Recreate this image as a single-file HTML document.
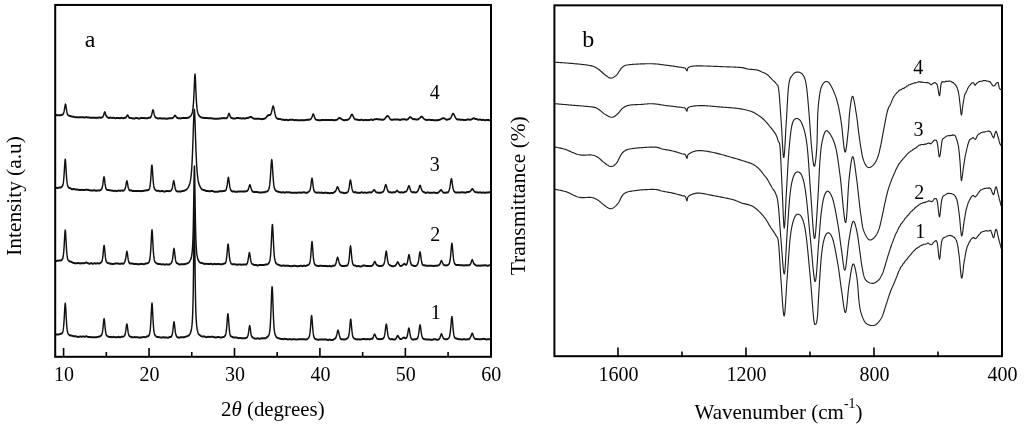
<!DOCTYPE html>
<html><head><meta charset="utf-8"><style>
html,body{margin:0;padding:0;background:#fff;width:1024px;height:429px;overflow:hidden;font-family:"Liberation Serif",serif}
svg{display:block;filter:grayscale(1)}
</style></head><body>
<svg width="1024" height="429" viewBox="0 0 1024 429">
<rect width="1024" height="429" fill="#fff"/>
<g fill="none" stroke="#111" stroke-width="2.0" stroke-linejoin="round" stroke-linecap="round" transform="scale(0.720 1)">
<path d="M77.78 114.92 L78.12 114.95 L78.47 115.01 L78.82 115.08 L79.17 115.16 L79.51 115.22 L79.86 115.27 L80.21 115.29 L80.56 115.29 L80.90 115.27 L81.25 115.25 L81.60 115.23 L81.94 115.23 L82.29 115.23 L82.64 115.23 L82.99 115.23 L83.33 115.22 L83.68 115.20 L84.03 115.19 L84.38 115.17 L84.72 115.15 L85.07 115.10 L85.42 115.02 L85.76 114.92 L86.11 114.82 L86.46 114.72 L86.81 114.61 L87.15 114.45 L87.50 114.22 L87.85 113.88 L88.19 113.39 L88.54 112.69 L88.89 111.74 L89.24 110.54 L89.58 109.10 L89.93 107.48 L90.28 105.89 L90.62 104.65 L90.97 104.21 L91.32 104.77 L91.67 106.13 L92.01 107.87 L92.36 109.62 L92.71 111.17 L93.06 112.45 L93.40 113.45 L93.75 114.17 L94.10 114.67 L94.44 115.01 L94.79 115.24 L95.14 115.41 L95.49 115.55 L95.83 115.67 L96.18 115.77 L96.53 115.85 L96.88 115.92 L97.22 115.98 L97.57 116.04 L97.92 116.10 L98.26 116.18 L98.61 116.27 L98.96 116.36 L99.31 116.44 L99.65 116.52 L100.00 116.57 L100.35 116.61 L100.69 116.64 L101.04 116.66 L101.39 116.68 L101.74 116.70 L102.08 116.73 L102.43 116.77 L102.78 116.84 L103.12 116.93 L103.47 117.02 L103.82 117.11 L104.17 117.19 L104.51 117.21 L104.86 117.21 L105.21 117.20 L105.56 117.19 L105.90 117.18 L106.25 117.17 L106.60 117.17 L106.94 117.19 L107.29 117.22 L107.64 117.27 L107.99 117.32 L108.33 117.36 L108.68 117.39 L109.03 117.40 L109.38 117.37 L109.72 117.32 L110.07 117.25 L110.42 117.19 L110.76 117.14 L111.11 117.13 L111.46 117.14 L111.81 117.16 L112.15 117.17 L112.50 117.19 L112.85 117.21 L113.19 117.22 L113.54 117.23 L113.89 117.24 L114.24 117.25 L114.58 117.27 L114.93 117.28 L115.28 117.29 L115.62 117.30 L115.97 117.32 L116.32 117.35 L116.67 117.38 L117.01 117.41 L117.36 117.44 L117.71 117.45 L118.06 117.45 L118.40 117.40 L118.75 117.32 L119.10 117.23 L119.44 117.16 L119.79 117.12 L120.14 117.12 L120.49 117.17 L120.83 117.25 L121.18 117.34 L121.53 117.43 L121.88 117.50 L122.22 117.54 L122.57 117.53 L122.92 117.51 L123.26 117.48 L123.61 117.45 L123.96 117.43 L124.31 117.42 L124.65 117.43 L125.00 117.50 L125.35 117.59 L125.69 117.70 L126.04 117.79 L126.39 117.86 L126.74 117.89 L127.08 117.87 L127.43 117.82 L127.78 117.75 L128.12 117.68 L128.47 117.63 L128.82 117.61 L129.17 117.62 L129.51 117.65 L129.86 117.69 L130.21 117.73 L130.56 117.77 L130.90 117.80 L131.25 117.81 L131.60 117.82 L131.94 117.84 L132.29 117.86 L132.64 117.87 L132.99 117.89 L133.33 117.89 L133.68 117.88 L134.03 117.85 L134.38 117.82 L134.72 117.78 L135.07 117.75 L135.42 117.73 L135.76 117.72 L136.11 117.68 L136.46 117.60 L136.81 117.52 L137.15 117.45 L137.50 117.39 L137.85 117.37 L138.19 117.41 L138.54 117.50 L138.89 117.61 L139.24 117.71 L139.58 117.79 L139.93 117.82 L140.28 117.78 L140.62 117.71 L140.97 117.61 L141.32 117.49 L141.67 117.36 L142.01 117.22 L142.36 117.05 L142.71 116.83 L143.06 116.50 L143.40 116.06 L143.75 115.47 L144.10 114.74 L144.44 113.90 L144.79 113.05 L145.14 112.39 L145.49 112.12 L145.83 112.36 L146.18 113.03 L146.53 113.91 L146.88 114.77 L147.22 115.48 L147.57 116.02 L147.92 116.39 L148.26 116.64 L148.61 116.82 L148.96 116.99 L149.31 117.17 L149.65 117.36 L150.00 117.55 L150.35 117.72 L150.69 117.85 L151.04 117.94 L151.39 117.95 L151.74 117.90 L152.08 117.82 L152.43 117.73 L152.78 117.65 L153.12 117.61 L153.47 117.61 L153.82 117.66 L154.17 117.72 L154.51 117.80 L154.86 117.87 L155.21 117.93 L155.56 117.96 L155.90 117.95 L156.25 117.91 L156.60 117.86 L156.94 117.80 L157.29 117.76 L157.64 117.73 L157.99 117.75 L158.33 117.81 L158.68 117.90 L159.03 118.01 L159.38 118.10 L159.72 118.17 L160.07 118.19 L160.42 118.18 L160.76 118.16 L161.11 118.13 L161.46 118.09 L161.81 118.07 L162.15 118.06 L162.50 118.05 L162.85 118.04 L163.19 118.01 L163.54 117.98 L163.89 117.96 L164.24 117.94 L164.58 117.95 L164.93 117.98 L165.28 118.04 L165.62 118.10 L165.97 118.17 L166.32 118.22 L166.67 118.24 L167.01 118.21 L167.36 118.13 L167.71 118.02 L168.06 117.91 L168.40 117.82 L168.75 117.76 L169.10 117.77 L169.44 117.84 L169.79 117.94 L170.14 118.06 L170.49 118.17 L170.83 118.24 L171.18 118.26 L171.53 118.22 L171.88 118.16 L172.22 118.07 L172.57 117.99 L172.92 117.91 L173.26 117.84 L173.61 117.79 L173.96 117.75 L174.31 117.69 L174.65 117.59 L175.00 117.40 L175.35 117.11 L175.69 116.70 L176.04 116.22 L176.39 115.71 L176.74 115.31 L177.08 115.13 L177.43 115.24 L177.78 115.59 L178.12 116.07 L178.47 116.58 L178.82 117.03 L179.17 117.42 L179.51 117.72 L179.86 117.93 L180.21 118.06 L180.56 118.11 L180.90 118.10 L181.25 118.05 L181.60 118.00 L181.94 117.97 L182.29 117.98 L182.64 118.04 L182.99 118.12 L183.33 118.22 L183.68 118.32 L184.03 118.40 L184.38 118.45 L184.72 118.46 L185.07 118.48 L185.42 118.49 L185.76 118.51 L186.11 118.53 L186.46 118.54 L186.81 118.54 L187.15 118.48 L187.50 118.36 L187.85 118.21 L188.19 118.07 L188.54 117.97 L188.89 117.93 L189.24 117.95 L189.58 117.99 L189.93 118.04 L190.28 118.09 L190.62 118.14 L190.97 118.17 L191.32 118.18 L191.67 118.24 L192.01 118.34 L192.36 118.44 L192.71 118.54 L193.06 118.61 L193.40 118.63 L193.75 118.58 L194.10 118.47 L194.44 118.34 L194.79 118.21 L195.14 118.11 L195.49 118.06 L195.83 118.06 L196.18 118.05 L196.53 118.03 L196.88 118.02 L197.22 118.01 L197.57 118.00 L197.92 118.00 L198.26 118.01 L198.61 118.03 L198.96 118.06 L199.31 118.09 L199.65 118.10 L200.00 118.11 L200.35 118.11 L200.69 118.12 L201.04 118.13 L201.39 118.14 L201.74 118.15 L202.08 118.15 L202.43 118.15 L202.78 118.17 L203.12 118.21 L203.47 118.25 L203.82 118.29 L204.17 118.31 L204.51 118.30 L204.86 118.25 L205.21 118.16 L205.56 118.05 L205.90 117.94 L206.25 117.84 L206.60 117.77 L206.94 117.74 L207.29 117.75 L207.64 117.76 L207.99 117.77 L208.33 117.73 L208.68 117.63 L209.03 117.42 L209.38 117.12 L209.72 116.71 L210.07 116.16 L210.42 115.43 L210.76 114.52 L211.11 113.43 L211.46 112.25 L211.81 111.12 L212.15 110.27 L212.50 109.96 L212.85 110.30 L213.19 111.16 L213.54 112.29 L213.89 113.45 L214.24 114.50 L214.58 115.39 L214.93 116.10 L215.28 116.65 L215.62 117.07 L215.97 117.37 L216.32 117.58 L216.67 117.71 L217.01 117.80 L217.36 117.87 L217.71 117.93 L218.06 118.01 L218.40 118.11 L218.75 118.24 L219.10 118.37 L219.44 118.48 L219.79 118.56 L220.14 118.59 L220.49 118.55 L220.83 118.46 L221.18 118.36 L221.53 118.26 L221.88 118.18 L222.22 118.16 L222.57 118.19 L222.92 118.26 L223.26 118.34 L223.61 118.43 L223.96 118.50 L224.31 118.55 L224.65 118.55 L225.00 118.55 L225.35 118.53 L225.69 118.51 L226.04 118.49 L226.39 118.48 L226.74 118.47 L227.08 118.47 L227.43 118.47 L227.78 118.46 L228.12 118.45 L228.47 118.45 L228.82 118.44 L229.17 118.46 L229.51 118.51 L229.86 118.59 L230.21 118.67 L230.56 118.74 L230.90 118.79 L231.25 118.79 L231.60 118.76 L231.94 118.71 L232.29 118.65 L232.64 118.59 L232.99 118.54 L233.33 118.52 L233.68 118.49 L234.03 118.43 L234.38 118.35 L234.72 118.27 L235.07 118.20 L235.42 118.15 L235.76 118.14 L236.11 118.15 L236.46 118.17 L236.81 118.20 L237.15 118.21 L237.50 118.22 L237.85 118.20 L238.19 118.18 L238.54 118.18 L238.89 118.17 L239.24 118.14 L239.58 118.07 L239.93 117.95 L240.28 117.77 L240.62 117.53 L240.97 117.24 L241.32 116.91 L241.67 116.55 L242.01 116.20 L242.36 115.89 L242.71 115.68 L243.06 115.59 L243.40 115.67 L243.75 115.88 L244.10 116.17 L244.44 116.50 L244.79 116.83 L245.14 117.13 L245.49 117.41 L245.83 117.63 L246.18 117.81 L246.53 117.95 L246.88 118.05 L247.22 118.13 L247.57 118.19 L247.92 118.24 L248.26 118.27 L248.61 118.29 L248.96 118.31 L249.31 118.33 L249.65 118.34 L250.00 118.36 L250.35 118.37 L250.69 118.38 L251.04 118.39 L251.39 118.37 L251.74 118.31 L252.08 118.22 L252.43 118.12 L252.78 118.03 L253.12 117.98 L253.47 117.96 L253.82 117.95 L254.17 117.95 L254.51 117.94 L254.86 117.94 L255.21 117.93 L255.56 117.91 L255.90 117.92 L256.25 117.96 L256.60 118.01 L256.94 118.06 L257.29 118.10 L257.64 118.12 L257.99 118.09 L258.33 118.08 L258.68 118.06 L259.03 118.04 L259.38 118.02 L259.72 117.99 L260.07 117.95 L260.42 117.89 L260.76 117.82 L261.11 117.74 L261.46 117.66 L261.81 117.57 L262.15 117.47 L262.50 117.35 L262.85 117.19 L263.19 116.98 L263.54 116.75 L263.89 116.51 L264.24 116.27 L264.58 116.03 L264.93 115.76 L265.28 115.46 L265.62 115.10 L265.97 114.66 L266.32 114.12 L266.67 113.43 L267.01 112.57 L267.36 111.48 L267.71 110.06 L268.06 108.20 L268.40 105.75 L268.75 102.55 L269.10 98.44 L269.44 93.31 L269.79 87.33 L270.14 81.14 L270.49 76.16 L270.83 74.19 L271.18 76.13 L271.53 81.09 L271.88 87.26 L272.22 93.24 L272.57 98.37 L272.92 102.51 L273.26 105.73 L273.61 108.19 L273.96 110.05 L274.31 111.46 L274.65 112.53 L275.00 113.37 L275.35 114.05 L275.69 114.61 L276.04 115.09 L276.39 115.50 L276.74 115.86 L277.08 116.17 L277.43 116.43 L277.78 116.65 L278.12 116.83 L278.47 116.99 L278.82 117.13 L279.17 117.26 L279.51 117.37 L279.86 117.47 L280.21 117.55 L280.56 117.61 L280.90 117.65 L281.25 117.68 L281.60 117.70 L281.94 117.74 L282.29 117.78 L282.64 117.82 L282.99 117.87 L283.33 117.91 L283.68 117.95 L284.03 117.98 L284.38 118.01 L284.72 118.03 L285.07 118.03 L285.42 118.01 L285.76 117.98 L286.11 117.96 L286.46 117.96 L286.81 117.97 L287.15 118.00 L287.50 118.03 L287.85 118.07 L288.19 118.10 L288.54 118.13 L288.89 118.15 L289.24 118.16 L289.58 118.17 L289.93 118.19 L290.28 118.20 L290.62 118.21 L290.97 118.22 L291.32 118.23 L291.67 118.24 L292.01 118.26 L292.36 118.27 L292.71 118.29 L293.06 118.30 L293.40 118.30 L293.75 118.32 L294.10 118.36 L294.44 118.40 L294.79 118.45 L295.14 118.48 L295.49 118.50 L295.83 118.51 L296.18 118.56 L296.53 118.62 L296.88 118.68 L297.22 118.74 L297.57 118.78 L297.92 118.79 L298.26 118.77 L298.61 118.75 L298.96 118.72 L299.31 118.70 L299.65 118.67 L300.00 118.67 L300.35 118.68 L300.69 118.71 L301.04 118.76 L301.39 118.81 L301.74 118.85 L302.08 118.87 L302.43 118.87 L302.78 118.83 L303.12 118.76 L303.47 118.69 L303.82 118.63 L304.17 118.58 L304.51 118.56 L304.86 118.55 L305.21 118.52 L305.56 118.49 L305.90 118.45 L306.25 118.42 L306.60 118.41 L306.94 118.39 L307.29 118.36 L307.64 118.31 L307.99 118.25 L308.33 118.20 L308.68 118.16 L309.03 118.15 L309.38 118.14 L309.72 118.14 L310.07 118.13 L310.42 118.12 L310.76 118.11 L311.11 118.09 L311.46 118.10 L311.81 118.15 L312.15 118.22 L312.50 118.29 L312.85 118.34 L313.19 118.36 L313.54 118.32 L313.89 118.29 L314.24 118.26 L314.58 118.21 L314.93 118.11 L315.28 117.92 L315.62 117.63 L315.97 117.20 L316.32 116.62 L316.67 115.91 L317.01 115.12 L317.36 114.35 L317.71 113.75 L318.06 113.52 L318.40 113.73 L318.75 114.28 L319.10 114.99 L319.44 115.71 L319.79 116.35 L320.14 116.88 L320.49 117.29 L320.83 117.58 L321.18 117.78 L321.53 117.92 L321.88 118.02 L322.22 118.09 L322.57 118.16 L322.92 118.25 L323.26 118.34 L323.61 118.43 L323.96 118.51 L324.31 118.56 L324.65 118.57 L325.00 118.57 L325.35 118.56 L325.69 118.54 L326.04 118.53 L326.39 118.52 L326.74 118.52 L327.08 118.47 L327.43 118.37 L327.78 118.25 L328.12 118.13 L328.47 118.03 L328.82 117.97 L329.17 117.96 L329.51 117.96 L329.86 117.98 L330.21 118.01 L330.56 118.04 L330.90 118.07 L331.25 118.09 L331.60 118.11 L331.94 118.15 L332.29 118.18 L332.64 118.21 L332.99 118.23 L333.33 118.24 L333.68 118.25 L334.03 118.29 L334.38 118.34 L334.72 118.39 L335.07 118.44 L335.42 118.46 L335.76 118.46 L336.11 118.43 L336.46 118.40 L336.81 118.36 L337.15 118.32 L337.50 118.30 L337.85 118.29 L338.19 118.31 L338.54 118.36 L338.89 118.43 L339.24 118.52 L339.58 118.59 L339.93 118.63 L340.28 118.62 L340.62 118.54 L340.97 118.43 L341.32 118.31 L341.67 118.20 L342.01 118.13 L342.36 118.11 L342.71 118.11 L343.06 118.09 L343.40 118.07 L343.75 118.04 L344.10 118.00 L344.44 117.94 L344.79 117.87 L345.14 117.79 L345.49 117.68 L345.83 117.57 L346.18 117.45 L346.53 117.32 L346.88 117.20 L347.22 117.08 L347.57 116.99 L347.92 116.93 L348.26 116.90 L348.61 116.91 L348.96 116.97 L349.31 117.09 L349.65 117.28 L350.00 117.51 L350.35 117.75 L350.69 117.98 L351.04 118.16 L351.39 118.29 L351.74 118.40 L352.08 118.49 L352.43 118.57 L352.78 118.64 L353.12 118.69 L353.47 118.75 L353.82 118.77 L354.17 118.77 L354.51 118.75 L354.86 118.73 L355.21 118.72 L355.56 118.73 L355.90 118.73 L356.25 118.72 L356.60 118.70 L356.94 118.67 L357.29 118.65 L357.64 118.65 L357.99 118.66 L358.33 118.66 L358.68 118.67 L359.03 118.67 L359.38 118.68 L359.72 118.68 L360.07 118.69 L360.42 118.73 L360.76 118.81 L361.11 118.91 L361.46 119.01 L361.81 119.08 L362.15 119.12 L362.50 119.12 L362.85 119.12 L363.19 119.13 L363.54 119.13 L363.89 119.13 L364.24 119.11 L364.58 119.09 L364.93 119.05 L365.28 119.02 L365.62 118.97 L365.97 118.92 L366.32 118.85 L366.67 118.78 L367.01 118.69 L367.36 118.59 L367.71 118.49 L368.06 118.36 L368.40 118.22 L368.75 118.05 L369.10 117.85 L369.44 117.59 L369.79 117.29 L370.14 116.97 L370.49 116.65 L370.83 116.34 L371.18 116.07 L371.53 115.83 L371.88 115.61 L372.22 115.42 L372.57 115.28 L372.92 115.19 L373.26 115.14 L373.61 115.12 L373.96 115.12 L374.31 115.12 L374.65 115.10 L375.00 115.04 L375.35 114.90 L375.69 114.67 L376.04 114.31 L376.39 113.78 L376.74 113.08 L377.08 112.21 L377.43 111.20 L377.78 110.06 L378.12 108.89 L378.47 107.79 L378.82 106.88 L379.17 106.31 L379.51 106.19 L379.86 106.59 L380.21 107.41 L380.56 108.57 L380.90 109.91 L381.25 111.27 L381.60 112.58 L381.94 113.77 L382.29 114.82 L382.64 115.71 L382.99 116.45 L383.33 117.05 L383.68 117.52 L384.03 117.90 L384.38 118.20 L384.72 118.42 L385.07 118.57 L385.42 118.66 L385.76 118.72 L386.11 118.76 L386.46 118.81 L386.81 118.88 L387.15 118.92 L387.50 118.95 L387.85 118.95 L388.19 118.96 L388.54 118.97 L388.89 118.99 L389.24 119.05 L389.58 119.15 L389.93 119.26 L390.28 119.37 L390.62 119.46 L390.97 119.53 L391.32 119.56 L391.67 119.59 L392.01 119.62 L392.36 119.66 L392.71 119.69 L393.06 119.72 L393.40 119.74 L393.75 119.78 L394.10 119.83 L394.44 119.89 L394.79 119.95 L395.14 120.00 L395.49 120.03 L395.83 120.03 L396.18 119.98 L396.53 119.91 L396.88 119.82 L397.22 119.75 L397.57 119.71 L397.92 119.71 L398.26 119.77 L398.61 119.87 L398.96 119.97 L399.31 120.08 L399.65 120.16 L400.00 120.20 L400.35 120.18 L400.69 120.13 L401.04 120.05 L401.39 119.97 L401.74 119.90 L402.08 119.87 L402.43 119.87 L402.78 119.86 L403.12 119.85 L403.47 119.84 L403.82 119.83 L404.17 119.82 L404.51 119.82 L404.86 119.83 L405.21 119.82 L405.56 119.81 L405.90 119.80 L406.25 119.79 L406.60 119.78 L406.94 119.80 L407.29 119.86 L407.64 119.95 L407.99 120.04 L408.33 120.12 L408.68 120.18 L409.03 120.18 L409.38 120.16 L409.72 120.11 L410.07 120.05 L410.42 119.99 L410.76 119.95 L411.11 119.94 L411.46 119.96 L411.81 120.02 L412.15 120.10 L412.50 120.18 L412.85 120.25 L413.19 120.28 L413.54 120.29 L413.89 120.27 L414.24 120.24 L414.58 120.20 L414.93 120.17 L415.28 120.15 L415.62 120.15 L415.97 120.16 L416.32 120.18 L416.67 120.20 L417.01 120.23 L417.36 120.25 L417.71 120.26 L418.06 120.25 L418.40 120.23 L418.75 120.20 L419.10 120.17 L419.44 120.14 L419.79 120.12 L420.14 120.12 L420.49 120.14 L420.83 120.17 L421.18 120.20 L421.53 120.24 L421.88 120.26 L422.22 120.27 L422.57 120.25 L422.92 120.20 L423.26 120.13 L423.61 120.07 L423.96 120.01 L424.31 119.97 L424.65 119.96 L425.00 119.94 L425.35 119.91 L425.69 119.88 L426.04 119.85 L426.39 119.82 L426.74 119.81 L427.08 119.80 L427.43 119.81 L427.78 119.82 L428.12 119.82 L428.47 119.82 L428.82 119.80 L429.17 119.77 L429.51 119.71 L429.86 119.64 L430.21 119.55 L430.56 119.45 L430.90 119.33 L431.25 119.20 L431.60 119.02 L431.94 118.77 L432.29 118.45 L432.64 118.04 L432.99 117.53 L433.33 116.93 L433.68 116.25 L434.03 115.53 L434.38 114.85 L434.72 114.34 L435.07 114.14 L435.42 114.30 L435.76 114.79 L436.11 115.51 L436.46 116.34 L436.81 117.14 L437.15 117.86 L437.50 118.45 L437.85 118.88 L438.19 119.19 L438.54 119.42 L438.89 119.60 L439.24 119.73 L439.58 119.82 L439.93 119.90 L440.28 119.95 L440.62 120.00 L440.97 120.03 L441.32 120.07 L441.67 120.09 L442.01 120.12 L442.36 120.14 L442.71 120.16 L443.06 120.18 L443.40 120.21 L443.75 120.23 L444.10 120.25 L444.44 120.27 L444.79 120.26 L445.14 120.23 L445.49 120.19 L445.83 120.14 L446.18 120.10 L446.53 120.08 L446.88 120.08 L447.22 120.06 L447.57 120.03 L447.92 119.99 L448.26 119.96 L448.61 119.93 L448.96 119.93 L449.31 119.93 L449.65 119.94 L450.00 119.94 L450.35 119.94 L450.69 119.95 L451.04 119.95 L451.39 119.95 L451.74 119.98 L452.08 120.00 L452.43 120.03 L452.78 120.06 L453.12 120.08 L453.47 120.08 L453.82 120.06 L454.17 120.03 L454.51 119.99 L454.86 119.95 L455.21 119.92 L455.56 119.91 L455.90 119.92 L456.25 119.96 L456.60 120.01 L456.94 120.06 L457.29 120.10 L457.64 120.12 L457.99 120.12 L458.33 120.11 L458.68 120.09 L459.03 120.06 L459.38 120.04 L459.72 120.03 L460.07 120.02 L460.42 120.02 L460.76 120.03 L461.11 120.04 L461.46 120.05 L461.81 120.05 L462.15 120.05 L462.50 120.06 L462.85 120.10 L463.19 120.16 L463.54 120.22 L463.89 120.28 L464.24 120.30 L464.58 120.30 L464.93 120.27 L465.28 120.22 L465.62 120.17 L465.97 120.10 L466.32 120.04 L466.67 119.97 L467.01 119.90 L467.36 119.81 L467.71 119.71 L468.06 119.58 L468.40 119.45 L468.75 119.30 L469.10 119.13 L469.44 118.92 L469.79 118.69 L470.14 118.46 L470.49 118.25 L470.83 118.09 L471.18 118.01 L471.53 117.99 L471.88 118.01 L472.22 118.08 L472.57 118.19 L472.92 118.32 L473.26 118.48 L473.61 118.65 L473.96 118.84 L474.31 119.05 L474.65 119.25 L475.00 119.43 L475.35 119.57 L475.69 119.68 L476.04 119.79 L476.39 119.89 L476.74 119.98 L477.08 120.07 L477.43 120.13 L477.78 120.16 L478.12 120.17 L478.47 120.16 L478.82 120.14 L479.17 120.11 L479.51 120.08 L479.86 120.06 L480.21 120.05 L480.56 120.04 L480.90 120.02 L481.25 119.99 L481.60 119.96 L481.94 119.93 L482.29 119.90 L482.64 119.83 L482.99 119.72 L483.33 119.58 L483.68 119.41 L484.03 119.24 L484.38 119.06 L484.72 118.87 L485.07 118.65 L485.42 118.37 L485.76 118.03 L486.11 117.63 L486.46 117.16 L486.81 116.64 L487.15 116.13 L487.50 115.64 L487.85 115.21 L488.19 114.87 L488.54 114.64 L488.89 114.57 L489.24 114.67 L489.58 114.96 L489.93 115.40 L490.28 115.92 L490.62 116.49 L490.97 117.05 L491.32 117.57 L491.67 118.02 L492.01 118.40 L492.36 118.71 L492.71 118.96 L493.06 119.17 L493.40 119.34 L493.75 119.46 L494.10 119.52 L494.44 119.53 L494.79 119.53 L495.14 119.53 L495.49 119.54 L495.83 119.58 L496.18 119.64 L496.53 119.72 L496.88 119.81 L497.22 119.88 L497.57 119.93 L497.92 119.94 L498.26 119.95 L498.61 119.96 L498.96 119.96 L499.31 119.97 L499.65 119.97 L500.00 119.98 L500.35 119.96 L500.69 119.92 L501.04 119.86 L501.39 119.80 L501.74 119.75 L502.08 119.72 L502.43 119.73 L502.78 119.79 L503.12 119.88 L503.47 119.98 L503.82 120.08 L504.17 120.14 L504.51 120.16 L504.86 120.15 L505.21 120.14 L505.56 120.13 L505.90 120.12 L506.25 120.12 L506.60 120.11 L506.94 120.10 L507.29 120.07 L507.64 120.03 L507.99 119.99 L508.33 119.95 L508.68 119.92 L509.03 119.91 L509.38 119.94 L509.72 119.99 L510.07 120.04 L510.42 120.10 L510.76 120.14 L511.11 120.15 L511.46 120.13 L511.81 120.10 L512.15 120.07 L512.50 120.03 L512.85 120.00 L513.19 119.97 L513.54 119.96 L513.89 119.89 L514.24 119.79 L514.58 119.68 L514.93 119.58 L515.28 119.50 L515.62 119.48 L515.97 119.53 L516.32 119.64 L516.67 119.78 L517.01 119.92 L517.36 120.03 L517.71 120.07 L518.06 120.03 L518.40 119.93 L518.75 119.79 L519.10 119.63 L519.44 119.48 L519.79 119.36 L520.14 119.29 L520.49 119.25 L520.83 119.23 L521.18 119.21 L521.53 119.20 L521.88 119.17 L522.22 119.13 L522.57 119.09 L522.92 119.08 L523.26 119.09 L523.61 119.14 L523.96 119.19 L524.31 119.26 L524.65 119.31 L525.00 119.34 L525.35 119.35 L525.69 119.35 L526.04 119.35 L526.39 119.36 L526.74 119.39 L527.08 119.43 L527.43 119.46 L527.78 119.50 L528.12 119.54 L528.47 119.57 L528.82 119.59 L529.17 119.60 L529.51 119.62 L529.86 119.65 L530.21 119.68 L530.56 119.70 L530.90 119.71 L531.25 119.70 L531.60 119.68 L531.94 119.66 L532.29 119.63 L532.64 119.58 L532.99 119.51 L533.33 119.41 L533.68 119.26 L534.03 119.05 L534.38 118.77 L534.72 118.46 L535.07 118.13 L535.42 117.79 L535.76 117.47 L536.11 117.17 L536.46 116.89 L536.81 116.63 L537.15 116.40 L537.50 116.21 L537.85 116.08 L538.19 116.00 L538.54 116.01 L538.89 116.09 L539.24 116.26 L539.58 116.50 L539.93 116.81 L540.28 117.18 L540.62 117.59 L540.97 118.03 L541.32 118.44 L541.67 118.81 L542.01 119.11 L542.36 119.32 L542.71 119.48 L543.06 119.59 L543.40 119.67 L543.75 119.73 L544.10 119.78 L544.44 119.82 L544.79 119.83 L545.14 119.80 L545.49 119.74 L545.83 119.68 L546.18 119.62 L546.53 119.59 L546.88 119.58 L547.22 119.57 L547.57 119.56 L547.92 119.54 L548.26 119.53 L548.61 119.51 L548.96 119.50 L549.31 119.50 L549.65 119.49 L550.00 119.47 L550.35 119.46 L550.69 119.45 L551.04 119.44 L551.39 119.44 L551.74 119.45 L552.08 119.47 L552.43 119.50 L552.78 119.52 L553.12 119.52 L553.47 119.52 L553.82 119.57 L554.17 119.66 L554.51 119.76 L554.86 119.86 L555.21 119.93 L555.56 119.96 L555.90 119.92 L556.25 119.85 L556.60 119.77 L556.94 119.67 L557.29 119.59 L557.64 119.54 L557.99 119.52 L558.33 119.48 L558.68 119.42 L559.03 119.35 L559.38 119.28 L559.72 119.23 L560.07 119.23 L560.42 119.24 L560.76 119.27 L561.11 119.30 L561.46 119.33 L561.81 119.36 L562.15 119.37 L562.50 119.38 L562.85 119.44 L563.19 119.52 L563.54 119.60 L563.89 119.67 L564.24 119.70 L564.58 119.67 L564.93 119.63 L565.28 119.57 L565.62 119.49 L565.97 119.39 L566.32 119.27 L566.67 119.12 L567.01 118.92 L567.36 118.65 L567.71 118.33 L568.06 118.01 L568.40 117.69 L568.75 117.43 L569.10 117.25 L569.44 117.17 L569.79 117.17 L570.14 117.25 L570.49 117.39 L570.83 117.56 L571.18 117.74 L571.53 117.93 L571.88 118.14 L572.22 118.37 L572.57 118.59 L572.92 118.81 L573.26 119.00 L573.61 119.15 L573.96 119.20 L574.31 119.18 L574.65 119.13 L575.00 119.08 L575.35 119.05 L575.69 119.09 L576.04 119.16 L576.39 119.24 L576.74 119.32 L577.08 119.40 L577.43 119.45 L577.78 119.47 L578.12 119.48 L578.47 119.50 L578.82 119.52 L579.17 119.54 L579.51 119.54 L579.86 119.52 L580.21 119.46 L580.56 119.36 L580.90 119.23 L581.25 119.06 L581.60 118.87 L581.94 118.66 L582.29 118.45 L582.64 118.24 L582.99 118.03 L583.33 117.81 L583.68 117.59 L584.03 117.36 L584.38 117.13 L584.72 116.91 L585.07 116.74 L585.42 116.64 L585.76 116.62 L586.11 116.70 L586.46 116.85 L586.81 117.09 L587.15 117.37 L587.50 117.67 L587.85 117.98 L588.19 118.28 L588.54 118.56 L588.89 118.80 L589.24 119.02 L589.58 119.20 L589.93 119.36 L590.28 119.48 L590.62 119.58 L590.97 119.66 L591.32 119.73 L591.67 119.79 L592.01 119.86 L592.36 119.91 L592.71 119.96 L593.06 120.00 L593.40 120.02 L593.75 120.01 L594.10 119.96 L594.44 119.89 L594.79 119.82 L595.14 119.77 L595.49 119.75 L595.83 119.76 L596.18 119.78 L596.53 119.81 L596.88 119.84 L597.22 119.87 L597.57 119.89 L597.92 119.90 L598.26 119.90 L598.61 119.91 L598.96 119.90 L599.31 119.90 L599.65 119.90 L600.00 119.89 L600.35 119.91 L600.69 119.97 L601.04 120.04 L601.39 120.11 L601.74 120.17 L602.08 120.20 L602.43 120.21 L602.78 120.21 L603.12 120.23 L603.47 120.24 L603.82 120.26 L604.17 120.26 L604.51 120.27 L604.86 120.26 L605.21 120.26 L605.56 120.26 L605.90 120.25 L606.25 120.25 L606.60 120.25 L606.94 120.23 L607.29 120.19 L607.64 120.14 L607.99 120.08 L608.33 120.02 L608.68 119.98 L609.03 119.95 L609.38 119.92 L609.72 119.88 L610.07 119.83 L610.42 119.76 L610.76 119.70 L611.11 119.63 L611.46 119.55 L611.81 119.44 L612.15 119.31 L612.50 119.17 L612.85 119.03 L613.19 118.89 L613.54 118.76 L613.89 118.63 L614.24 118.51 L614.58 118.40 L614.93 118.30 L615.28 118.23 L615.62 118.18 L615.97 118.17 L616.32 118.22 L616.67 118.30 L617.01 118.41 L617.36 118.54 L617.71 118.66 L618.06 118.79 L618.40 118.95 L618.75 119.13 L619.10 119.31 L619.44 119.48 L619.79 119.61 L620.14 119.69 L620.49 119.70 L620.83 119.66 L621.18 119.58 L621.53 119.49 L621.88 119.41 L622.22 119.37 L622.57 119.36 L622.92 119.35 L623.26 119.33 L623.61 119.28 L623.96 119.19 L624.31 119.05 L624.65 118.87 L625.00 118.67 L625.35 118.46 L625.69 118.20 L626.04 117.89 L626.39 117.51 L626.74 117.05 L627.08 116.50 L627.43 115.88 L627.78 115.25 L628.12 114.66 L628.47 114.18 L628.82 113.86 L629.17 113.73 L629.51 113.75 L629.86 113.90 L630.21 114.18 L630.56 114.56 L630.90 115.01 L631.25 115.49 L631.60 116.01 L631.94 116.55 L632.29 117.07 L632.64 117.55 L632.99 117.97 L633.33 118.32 L633.68 118.60 L634.03 118.85 L634.38 119.06 L634.72 119.23 L635.07 119.37 L635.42 119.47 L635.76 119.54 L636.11 119.56 L636.46 119.55 L636.81 119.53 L637.15 119.51 L637.50 119.49 L637.85 119.49 L638.19 119.53 L638.54 119.58 L638.89 119.65 L639.24 119.71 L639.58 119.77 L639.93 119.79 L640.28 119.79 L640.62 119.77 L640.97 119.74 L641.32 119.70 L641.67 119.67 L642.01 119.65 L642.36 119.65 L642.71 119.70 L643.06 119.79 L643.40 119.89 L643.75 119.99 L644.10 120.07 L644.44 120.10 L644.79 120.09 L645.14 120.08 L645.49 120.05 L645.83 120.03 L646.18 120.01 L646.53 120.00 L646.88 119.99 L647.22 119.93 L647.57 119.85 L647.92 119.75 L648.26 119.67 L648.61 119.60 L648.96 119.58 L649.31 119.58 L649.65 119.59 L650.00 119.59 L650.35 119.60 L650.69 119.60 L651.04 119.59 L651.39 119.59 L651.74 119.62 L652.08 119.65 L652.43 119.69 L652.78 119.72 L653.12 119.72 L653.47 119.68 L653.82 119.62 L654.17 119.54 L654.51 119.46 L654.86 119.36 L655.21 119.25 L655.56 119.14 L655.90 119.00 L656.25 118.84 L656.60 118.66 L656.94 118.49 L657.29 118.34 L657.64 118.24 L657.99 118.19 L658.33 118.22 L658.68 118.32 L659.03 118.46 L659.38 118.62 L659.72 118.78 L660.07 118.91 L660.42 118.99 L660.76 119.03 L661.11 119.05 L661.46 119.06 L661.81 119.08 L662.15 119.13 L662.50 119.22 L662.85 119.32 L663.19 119.43 L663.54 119.54 L663.89 119.62 L664.24 119.69 L664.58 119.73 L664.93 119.72 L665.28 119.68 L665.62 119.63 L665.97 119.58 L666.32 119.54 L666.67 119.53 L667.01 119.57 L667.36 119.63 L667.71 119.72 L668.06 119.81 L668.40 119.89 L668.75 119.93 L669.10 119.94 L669.44 119.93 L669.79 119.91 L670.14 119.88 L670.49 119.86 L670.83 119.84 L671.18 119.84 L671.53 119.88 L671.88 119.93 L672.22 120.00 L672.57 120.07 L672.92 120.13 L673.26 120.16 L673.61 120.16 L673.96 120.15 L674.31 120.13 L674.65 120.11 L675.00 120.09 L675.35 120.08 L675.69 120.08 L676.04 120.06 L676.39 120.03 L676.74 119.98 L677.08 119.93 L677.43 119.90 L677.78 119.89 L678.12 119.92 L678.47 119.99 L678.82 120.08 L679.17 120.18 L679.51 120.26 L679.86 120.31 L680.21 120.32 L680.56 120.31"/>
<path d="M77.78 187.78 L78.12 187.80 L78.47 187.85 L78.82 187.90 L79.17 187.95 L79.51 188.00 L79.86 188.02 L80.21 188.01 L80.56 187.95 L80.90 187.86 L81.25 187.75 L81.60 187.64 L81.94 187.56 L82.29 187.52 L82.64 187.51 L82.99 187.51 L83.33 187.52 L83.68 187.52 L84.03 187.49 L84.38 187.43 L84.72 187.34 L85.07 187.21 L85.42 187.05 L85.76 186.85 L86.11 186.61 L86.46 186.29 L86.81 185.88 L87.15 185.29 L87.50 184.44 L87.85 183.21 L88.19 181.47 L88.54 179.08 L88.89 175.97 L89.24 172.18 L89.58 167.95 L89.93 163.77 L90.28 160.54 L90.62 159.35 L90.97 160.72 L91.32 164.09 L91.67 168.38 L92.01 172.68 L92.36 176.48 L92.71 179.58 L93.06 181.97 L93.40 183.75 L93.75 185.03 L94.10 185.92 L94.44 186.55 L94.79 187.01 L95.14 187.35 L95.49 187.62 L95.83 187.83 L96.18 187.96 L96.53 188.03 L96.88 188.09 L97.22 188.13 L97.57 188.19 L97.92 188.28 L98.26 188.44 L98.61 188.64 L98.96 188.85 L99.31 189.06 L99.65 189.22 L100.00 189.32 L100.35 189.33 L100.69 189.27 L101.04 189.17 L101.39 189.06 L101.74 188.98 L102.08 188.95 L102.43 188.98 L102.78 189.05 L103.12 189.13 L103.47 189.21 L103.82 189.29 L104.17 189.36 L104.51 189.39 L104.86 189.41 L105.21 189.44 L105.56 189.47 L105.90 189.50 L106.25 189.52 L106.60 189.54 L106.94 189.56 L107.29 189.59 L107.64 189.62 L107.99 189.66 L108.33 189.69 L108.68 189.71 L109.03 189.73 L109.38 189.78 L109.72 189.84 L110.07 189.92 L110.42 189.99 L110.76 190.05 L111.11 190.08 L111.46 190.07 L111.81 190.03 L112.15 189.98 L112.50 189.93 L112.85 189.88 L113.19 189.86 L113.54 189.87 L113.89 189.89 L114.24 189.92 L114.58 189.95 L114.93 189.98 L115.28 189.99 L115.62 190.00 L115.97 189.99 L116.32 189.98 L116.67 189.96 L117.01 189.94 L117.36 189.92 L117.71 189.90 L118.06 189.88 L118.40 189.83 L118.75 189.78 L119.10 189.74 L119.44 189.71 L119.79 189.71 L120.14 189.74 L120.49 189.78 L120.83 189.80 L121.18 189.82 L121.53 189.84 L121.88 189.86 L122.22 189.88 L122.57 189.92 L122.92 189.98 L123.26 190.06 L123.61 190.13 L123.96 190.20 L124.31 190.24 L124.65 190.26 L125.00 190.29 L125.35 190.34 L125.69 190.39 L126.04 190.43 L126.39 190.47 L126.74 190.49 L127.08 190.50 L127.43 190.52 L127.78 190.54 L128.12 190.55 L128.47 190.57 L128.82 190.58 L129.17 190.57 L129.51 190.52 L129.86 190.43 L130.21 190.34 L130.56 190.26 L130.90 190.21 L131.25 190.21 L131.60 190.29 L131.94 190.41 L132.29 190.55 L132.64 190.68 L132.99 190.78 L133.33 190.82 L133.68 190.79 L134.03 190.73 L134.38 190.65 L134.72 190.56 L135.07 190.49 L135.42 190.44 L135.76 190.43 L136.11 190.44 L136.46 190.46 L136.81 190.49 L137.15 190.50 L137.50 190.50 L137.85 190.48 L138.19 190.41 L138.54 190.32 L138.89 190.21 L139.24 190.08 L139.58 189.95 L139.93 189.82 L140.28 189.68 L140.62 189.48 L140.97 189.22 L141.32 188.83 L141.67 188.27 L142.01 187.47 L142.36 186.37 L142.71 184.92 L143.06 183.14 L143.40 181.12 L143.75 179.11 L144.10 177.55 L144.44 176.95 L144.79 177.56 L145.14 179.15 L145.49 181.20 L145.83 183.25 L146.18 185.07 L146.53 186.55 L146.88 187.65 L147.22 188.45 L147.57 189.00 L147.92 189.38 L148.26 189.64 L148.61 189.83 L148.96 189.97 L149.31 190.06 L149.65 190.09 L150.00 190.09 L150.35 190.08 L150.69 190.07 L151.04 190.09 L151.39 190.13 L151.74 190.19 L152.08 190.24 L152.43 190.29 L152.78 190.33 L153.12 190.37 L153.47 190.39 L153.82 190.42 L154.17 190.45 L154.51 190.48 L154.86 190.51 L155.21 190.54 L155.56 190.55 L155.90 190.58 L156.25 190.64 L156.60 190.72 L156.94 190.79 L157.29 190.85 L157.64 190.89 L157.99 190.90 L158.33 190.89 L158.68 190.88 L159.03 190.85 L159.38 190.84 L159.72 190.82 L160.07 190.82 L160.42 190.86 L160.76 190.92 L161.11 190.99 L161.46 191.07 L161.81 191.13 L162.15 191.16 L162.50 191.14 L162.85 191.04 L163.19 190.89 L163.54 190.74 L163.89 190.60 L164.24 190.51 L164.58 190.50 L164.93 190.54 L165.28 190.61 L165.62 190.69 L165.97 190.77 L166.32 190.83 L166.67 190.84 L167.01 190.82 L167.36 190.76 L167.71 190.68 L168.06 190.60 L168.40 190.53 L168.75 190.48 L169.10 190.47 L169.44 190.51 L169.79 190.58 L170.14 190.67 L170.49 190.74 L170.83 190.76 L171.18 190.73 L171.53 190.63 L171.88 190.47 L172.22 190.27 L172.57 190.03 L172.92 189.73 L173.26 189.36 L173.61 188.87 L173.96 188.21 L174.31 187.33 L174.65 186.21 L175.00 184.85 L175.35 183.38 L175.69 182.01 L176.04 181.13 L176.39 181.06 L176.74 181.86 L177.08 183.20 L177.43 184.73 L177.78 186.16 L178.12 187.37 L178.47 188.35 L178.82 189.08 L179.17 189.62 L179.51 190.00 L179.86 190.26 L180.21 190.43 L180.56 190.48 L180.90 190.47 L181.25 190.41 L181.60 190.35 L181.94 190.32 L182.29 190.34 L182.64 190.43 L182.99 190.57 L183.33 190.73 L183.68 190.88 L184.03 191.01 L184.38 191.08 L184.72 191.09 L185.07 191.08 L185.42 191.06 L185.76 191.04 L186.11 191.01 L186.46 191.00 L186.81 191.01 L187.15 191.02 L187.50 191.04 L187.85 191.06 L188.19 191.08 L188.54 191.09 L188.89 191.10 L189.24 191.10 L189.58 191.10 L189.93 191.10 L190.28 191.10 L190.62 191.09 L190.97 191.09 L191.32 191.09 L191.67 191.09 L192.01 191.09 L192.36 191.08 L192.71 191.07 L193.06 191.07 L193.40 191.07 L193.75 191.07 L194.10 191.09 L194.44 191.10 L194.79 191.12 L195.14 191.13 L195.49 191.13 L195.83 191.13 L196.18 191.11 L196.53 191.09 L196.88 191.07 L197.22 191.04 L197.57 191.03 L197.92 191.02 L198.26 190.99 L198.61 190.95 L198.96 190.90 L199.31 190.85 L199.65 190.81 L200.00 190.79 L200.35 190.76 L200.69 190.71 L201.04 190.64 L201.39 190.57 L201.74 190.51 L202.08 190.46 L202.43 190.42 L202.78 190.40 L203.12 190.37 L203.47 190.34 L203.82 190.31 L204.17 190.25 L204.51 190.18 L204.86 190.14 L205.21 190.13 L205.56 190.12 L205.90 190.08 L206.25 189.99 L206.60 189.80 L206.94 189.48 L207.29 189.04 L207.64 188.42 L207.99 187.53 L208.33 186.25 L208.68 184.46 L209.03 182.07 L209.38 179.03 L209.72 175.41 L210.07 171.50 L210.42 167.89 L210.76 165.53 L211.11 165.30 L211.46 167.28 L211.81 170.68 L212.15 174.55 L212.50 178.22 L212.85 181.35 L213.19 183.86 L213.54 185.76 L213.89 187.12 L214.24 188.07 L214.58 188.73 L214.93 189.19 L215.28 189.52 L215.62 189.78 L215.97 190.00 L216.32 190.21 L216.67 190.40 L217.01 190.57 L217.36 190.72 L217.71 190.82 L218.06 190.87 L218.40 190.87 L218.75 190.82 L219.10 190.75 L219.44 190.70 L219.79 190.67 L220.14 190.70 L220.49 190.79 L220.83 190.92 L221.18 191.07 L221.53 191.21 L221.88 191.31 L222.22 191.37 L222.57 191.35 L222.92 191.29 L223.26 191.20 L223.61 191.10 L223.96 191.02 L224.31 190.98 L224.65 190.99 L225.00 191.04 L225.35 191.10 L225.69 191.17 L226.04 191.24 L226.39 191.28 L226.74 191.31 L227.08 191.34 L227.43 191.40 L227.78 191.47 L228.12 191.54 L228.47 191.60 L228.82 191.63 L229.17 191.61 L229.51 191.51 L229.86 191.37 L230.21 191.21 L230.56 191.08 L230.90 190.99 L231.25 190.98 L231.60 190.99 L231.94 191.00 L232.29 191.02 L232.64 191.03 L232.99 191.04 L233.33 191.03 L233.68 191.04 L234.03 191.08 L234.38 191.12 L234.72 191.17 L235.07 191.20 L235.42 191.19 L235.76 191.15 L236.11 191.07 L236.46 190.95 L236.81 190.80 L237.15 190.64 L237.50 190.45 L237.85 190.23 L238.19 189.93 L238.54 189.51 L238.89 188.90 L239.24 188.07 L239.58 186.98 L239.93 185.62 L240.28 184.08 L240.62 182.54 L240.97 181.34 L241.32 180.86 L241.67 181.32 L242.01 182.51 L242.36 184.05 L242.71 185.66 L243.06 187.14 L243.40 188.38 L243.75 189.36 L244.10 190.08 L244.44 190.56 L244.79 190.87 L245.14 191.08 L245.49 191.22 L245.83 191.32 L246.18 191.39 L246.53 191.45 L246.88 191.50 L247.22 191.52 L247.57 191.51 L247.92 191.50 L248.26 191.48 L248.61 191.46 L248.96 191.47 L249.31 191.48 L249.65 191.49 L250.00 191.50 L250.35 191.51 L250.69 191.51 L251.04 191.50 L251.39 191.47 L251.74 191.40 L252.08 191.30 L252.43 191.20 L252.78 191.09 L253.12 191.02 L253.47 190.97 L253.82 190.94 L254.17 190.92 L254.51 190.89 L254.86 190.87 L255.21 190.82 L255.56 190.76 L255.90 190.67 L256.25 190.58 L256.60 190.48 L256.94 190.38 L257.29 190.26 L257.64 190.13 L257.99 189.98 L258.33 189.82 L258.68 189.65 L259.03 189.46 L259.38 189.25 L259.72 189.02 L260.07 188.77 L260.42 188.47 L260.76 188.10 L261.11 187.70 L261.46 187.25 L261.81 186.77 L262.15 186.26 L262.50 185.72 L262.85 185.11 L263.19 184.40 L263.54 183.59 L263.89 182.63 L264.24 181.50 L264.58 180.15 L264.93 178.52 L265.28 176.56 L265.62 174.19 L265.97 171.33 L266.32 167.89 L266.67 163.77 L267.01 158.93 L267.36 153.29 L267.71 146.83 L268.06 139.61 L268.40 131.87 L268.75 124.10 L269.10 117.09 L269.44 111.91 L269.79 109.56 L270.14 110.55 L270.49 114.66 L270.83 121.04 L271.18 128.63 L271.53 136.52 L271.88 144.06 L272.22 150.92 L272.57 156.95 L272.92 162.14 L273.26 166.53 L273.61 170.21 L273.96 173.25 L274.31 175.77 L274.65 177.85 L275.00 179.57 L275.35 181.00 L275.69 182.20 L276.04 183.21 L276.39 184.05 L276.74 184.77 L277.08 185.38 L277.43 185.93 L277.78 186.41 L278.12 186.88 L278.47 187.34 L278.82 187.78 L279.17 188.20 L279.51 188.56 L279.86 188.86 L280.21 189.09 L280.56 189.28 L280.90 189.44 L281.25 189.58 L281.60 189.71 L281.94 189.84 L282.29 189.96 L282.64 190.05 L282.99 190.11 L283.33 190.14 L283.68 190.17 L284.03 190.20 L284.38 190.25 L284.72 190.34 L285.07 190.48 L285.42 190.63 L285.76 190.79 L286.11 190.94 L286.46 191.04 L286.81 191.10 L287.15 191.11 L287.50 191.10 L287.85 191.08 L288.19 191.05 L288.54 191.04 L288.89 191.05 L289.24 191.09 L289.58 191.12 L289.93 191.16 L290.28 191.19 L290.62 191.22 L290.97 191.25 L291.32 191.26 L291.67 191.24 L292.01 191.21 L292.36 191.16 L292.71 191.13 L293.06 191.10 L293.40 191.11 L293.75 191.12 L294.10 191.12 L294.44 191.11 L294.79 191.11 L295.14 191.10 L295.49 191.11 L295.83 191.15 L296.18 191.24 L296.53 191.37 L296.88 191.51 L297.22 191.63 L297.57 191.72 L297.92 191.74 L298.26 191.76 L298.61 191.78 L298.96 191.80 L299.31 191.83 L299.65 191.85 L300.00 191.86 L300.35 191.86 L300.69 191.86 L301.04 191.86 L301.39 191.86 L301.74 191.86 L302.08 191.86 L302.43 191.85 L302.78 191.79 L303.12 191.68 L303.47 191.56 L303.82 191.45 L304.17 191.37 L304.51 191.35 L304.86 191.34 L305.21 191.32 L305.56 191.29 L305.90 191.26 L306.25 191.24 L306.60 191.22 L306.94 191.22 L307.29 191.21 L307.64 191.20 L307.99 191.18 L308.33 191.17 L308.68 191.15 L309.03 191.13 L309.38 191.12 L309.72 191.11 L310.07 191.10 L310.42 191.08 L310.76 191.05 L311.11 191.01 L311.46 190.95 L311.81 190.89 L312.15 190.82 L312.50 190.72 L312.85 190.60 L313.19 190.43 L313.54 190.19 L313.89 189.85 L314.24 189.36 L314.58 188.66 L314.93 187.69 L315.28 186.38 L315.62 184.72 L315.97 182.78 L316.32 180.71 L316.67 178.84 L317.01 177.64 L317.36 177.58 L317.71 178.70 L318.06 180.57 L318.40 182.65 L318.75 184.60 L319.10 186.24 L319.44 187.54 L319.79 188.53 L320.14 189.28 L320.49 189.86 L320.83 190.32 L321.18 190.68 L321.53 190.97 L321.88 191.19 L322.22 191.33 L322.57 191.39 L322.92 191.41 L323.26 191.39 L323.61 191.35 L323.96 191.33 L324.31 191.32 L324.65 191.36 L325.00 191.43 L325.35 191.52 L325.69 191.62 L326.04 191.70 L326.39 191.77 L326.74 191.80 L327.08 191.80 L327.43 191.79 L327.78 191.77 L328.12 191.75 L328.47 191.74 L328.82 191.73 L329.17 191.73 L329.51 191.71 L329.86 191.67 L330.21 191.63 L330.56 191.60 L330.90 191.58 L331.25 191.57 L331.60 191.55 L331.94 191.51 L332.29 191.47 L332.64 191.42 L332.99 191.39 L333.33 191.38 L333.68 191.39 L334.03 191.42 L334.38 191.47 L334.72 191.52 L335.07 191.55 L335.42 191.57 L335.76 191.57 L336.11 191.54 L336.46 191.51 L336.81 191.46 L337.15 191.42 L337.50 191.39 L337.85 191.38 L338.19 191.38 L338.54 191.40 L338.89 191.43 L339.24 191.46 L339.58 191.49 L339.93 191.49 L340.28 191.48 L340.62 191.44 L340.97 191.39 L341.32 191.33 L341.67 191.27 L342.01 191.21 L342.36 191.14 L342.71 191.07 L343.06 190.98 L343.40 190.85 L343.75 190.65 L344.10 190.37 L344.44 189.97 L344.79 189.44 L345.14 188.75 L345.49 187.94 L345.83 187.04 L346.18 186.16 L346.53 185.42 L346.88 184.99 L347.22 184.99 L347.57 185.42 L347.92 186.16 L348.26 187.04 L348.61 187.92 L348.96 188.72 L349.31 189.43 L349.65 190.07 L350.00 190.60 L350.35 191.04 L350.69 191.37 L351.04 191.60 L351.39 191.74 L351.74 191.83 L352.08 191.89 L352.43 191.93 L352.78 191.97 L353.12 192.00 L353.47 192.03 L353.82 192.04 L354.17 192.02 L354.51 191.98 L354.86 191.94 L355.21 191.91 L355.56 191.92 L355.90 191.94 L356.25 191.98 L356.60 192.01 L356.94 192.04 L357.29 192.07 L357.64 192.10 L357.99 192.12 L358.33 192.16 L358.68 192.22 L359.03 192.28 L359.38 192.34 L359.72 192.38 L360.07 192.40 L360.42 192.41 L360.76 192.43 L361.11 192.44 L361.46 192.46 L361.81 192.48 L362.15 192.48 L362.50 192.48 L362.85 192.47 L363.19 192.44 L363.54 192.42 L363.89 192.40 L364.24 192.38 L364.58 192.36 L364.93 192.35 L365.28 192.35 L365.62 192.35 L365.97 192.35 L366.32 192.34 L366.67 192.32 L367.01 192.27 L367.36 192.19 L367.71 192.10 L368.06 192.00 L368.40 191.90 L368.75 191.82 L369.10 191.75 L369.44 191.71 L369.79 191.67 L370.14 191.63 L370.49 191.56 L370.83 191.47 L371.18 191.33 L371.53 191.16 L371.88 190.96 L372.22 190.70 L372.57 190.38 L372.92 189.97 L373.26 189.41 L373.61 188.66 L373.96 187.63 L374.31 186.24 L374.65 184.39 L375.00 182.02 L375.35 179.07 L375.69 175.55 L376.04 171.58 L376.39 167.42 L376.74 163.57 L377.08 160.75 L377.43 159.70 L377.78 160.74 L378.12 163.54 L378.47 167.35 L378.82 171.47 L379.17 175.41 L379.51 178.89 L379.86 181.82 L380.21 184.19 L380.56 186.01 L380.90 187.38 L381.25 188.38 L381.60 189.11 L381.94 189.65 L382.29 190.07 L382.64 190.38 L382.99 190.60 L383.33 190.77 L383.68 190.91 L384.03 191.03 L384.38 191.14 L384.72 191.26 L385.07 191.38 L385.42 191.50 L385.76 191.62 L386.11 191.72 L386.46 191.81 L386.81 191.87 L387.15 191.92 L387.50 191.96 L387.85 192.01 L388.19 192.05 L388.54 192.08 L388.89 192.11 L389.24 192.16 L389.58 192.24 L389.93 192.33 L390.28 192.43 L390.62 192.51 L390.97 192.56 L391.32 192.57 L391.67 192.52 L392.01 192.43 L392.36 192.32 L392.71 192.22 L393.06 192.15 L393.40 192.14 L393.75 192.20 L394.10 192.29 L394.44 192.41 L394.79 192.52 L395.14 192.61 L395.49 192.66 L395.83 192.65 L396.18 192.57 L396.53 192.45 L396.88 192.31 L397.22 192.20 L397.57 192.13 L397.92 192.12 L398.26 192.15 L398.61 192.20 L398.96 192.26 L399.31 192.32 L399.65 192.36 L400.00 192.38 L400.35 192.38 L400.69 192.37 L401.04 192.36 L401.39 192.35 L401.74 192.34 L402.08 192.34 L402.43 192.35 L402.78 192.41 L403.12 192.50 L403.47 192.60 L403.82 192.70 L404.17 192.77 L404.51 192.79 L404.86 192.79 L405.21 192.79 L405.56 192.79 L405.90 192.80 L406.25 192.80 L406.60 192.81 L406.94 192.81 L407.29 192.82 L407.64 192.82 L407.99 192.83 L408.33 192.83 L408.68 192.83 L409.03 192.84 L409.38 192.81 L409.72 192.77 L410.07 192.72 L410.42 192.67 L410.76 192.63 L411.11 192.62 L411.46 192.63 L411.81 192.66 L412.15 192.68 L412.50 192.71 L412.85 192.74 L413.19 192.75 L413.54 192.75 L413.89 192.70 L414.24 192.63 L414.58 192.54 L414.93 192.46 L415.28 192.41 L415.62 192.39 L415.97 192.43 L416.32 192.49 L416.67 192.57 L417.01 192.65 L417.36 192.71 L417.71 192.75 L418.06 192.74 L418.40 192.69 L418.75 192.62 L419.10 192.55 L419.44 192.49 L419.79 192.44 L420.14 192.43 L420.49 192.42 L420.83 192.41 L421.18 192.39 L421.53 192.37 L421.88 192.35 L422.22 192.34 L422.57 192.36 L422.92 192.42 L423.26 192.50 L423.61 192.59 L423.96 192.66 L424.31 192.69 L424.65 192.68 L425.00 192.69 L425.35 192.70 L425.69 192.71 L426.04 192.72 L426.39 192.71 L426.74 192.68 L427.08 192.58 L427.43 192.41 L427.78 192.21 L428.12 192.00 L428.47 191.79 L428.82 191.62 L429.17 191.47 L429.51 191.26 L429.86 190.96 L430.21 190.54 L430.56 189.93 L430.90 189.06 L431.25 187.88 L431.60 186.38 L431.94 184.58 L432.29 182.55 L432.64 180.53 L432.99 178.95 L433.33 178.35 L433.68 179.00 L434.03 180.69 L434.38 182.86 L434.72 185.04 L435.07 186.98 L435.42 188.55 L435.76 189.74 L436.11 190.59 L436.46 191.18 L436.81 191.58 L437.15 191.84 L437.50 192.04 L437.85 192.19 L438.19 192.32 L438.54 192.42 L438.89 192.50 L439.24 192.58 L439.58 192.64 L439.93 192.69 L440.28 192.71 L440.62 192.68 L440.97 192.61 L441.32 192.53 L441.67 192.46 L442.01 192.42 L442.36 192.43 L442.71 192.48 L443.06 192.56 L443.40 192.64 L443.75 192.72 L444.10 192.78 L444.44 192.81 L444.79 192.81 L445.14 192.77 L445.49 192.71 L445.83 192.65 L446.18 192.60 L446.53 192.58 L446.88 192.60 L447.22 192.66 L447.57 192.76 L447.92 192.88 L448.26 192.98 L448.61 193.05 L448.96 193.08 L449.31 193.04 L449.65 192.97 L450.00 192.87 L450.35 192.77 L450.69 192.70 L451.04 192.66 L451.39 192.67 L451.74 192.68 L452.08 192.70 L452.43 192.72 L452.78 192.73 L453.12 192.74 L453.47 192.75 L453.82 192.78 L454.17 192.83 L454.51 192.90 L454.86 192.96 L455.21 193.00 L455.56 193.02 L455.90 193.03 L456.25 193.07 L456.60 193.11 L456.94 193.16 L457.29 193.20 L457.64 193.22 L457.99 193.21 L458.33 193.17 L458.68 193.11 L459.03 193.05 L459.38 192.99 L459.72 192.94 L460.07 192.92 L460.42 192.92 L460.76 192.93 L461.11 192.96 L461.46 192.98 L461.81 192.98 L462.15 192.97 L462.50 192.92 L462.85 192.81 L463.19 192.66 L463.54 192.48 L463.89 192.30 L464.24 192.13 L464.58 191.98 L464.93 191.84 L465.28 191.68 L465.62 191.47 L465.97 191.18 L466.32 190.78 L466.67 190.27 L467.01 189.64 L467.36 188.95 L467.71 188.24 L468.06 187.62 L468.40 187.17 L468.75 186.99 L469.10 187.14 L469.44 187.55 L469.79 188.13 L470.14 188.80 L470.49 189.47 L470.83 190.09 L471.18 190.64 L471.53 191.10 L471.88 191.49 L472.22 191.79 L472.57 192.03 L472.92 192.22 L473.26 192.36 L473.61 192.46 L473.96 192.51 L474.31 192.52 L474.65 192.52 L475.00 192.51 L475.35 192.51 L475.69 192.53 L476.04 192.61 L476.39 192.74 L476.74 192.89 L477.08 193.03 L477.43 193.13 L477.78 193.17 L478.12 193.16 L478.47 193.13 L478.82 193.09 L479.17 193.04 L479.51 192.99 L479.86 192.93 L480.21 192.89 L480.56 192.84 L480.90 192.80 L481.25 192.74 L481.60 192.67 L481.94 192.56 L482.29 192.42 L482.64 192.21 L482.99 191.93 L483.33 191.54 L483.68 191.00 L484.03 190.28 L484.38 189.32 L484.72 188.09 L485.07 186.56 L485.42 184.79 L485.76 182.96 L486.11 181.33 L486.46 180.29 L486.81 180.17 L487.15 180.98 L487.50 182.42 L487.85 184.12 L488.19 185.79 L488.54 187.29 L488.89 188.53 L489.24 189.55 L489.58 190.39 L489.93 191.05 L490.28 191.57 L490.62 191.95 L490.97 192.21 L491.32 192.35 L491.67 192.37 L492.01 192.31 L492.36 192.23 L492.71 192.14 L493.06 192.08 L493.40 192.09 L493.75 192.16 L494.10 192.26 L494.44 192.38 L494.79 192.49 L495.14 192.58 L495.49 192.63 L495.83 192.65 L496.18 192.68 L496.53 192.71 L496.88 192.75 L497.22 192.77 L497.57 192.79 L497.92 192.80 L498.26 192.81 L498.61 192.83 L498.96 192.85 L499.31 192.87 L499.65 192.88 L500.00 192.89 L500.35 192.84 L500.69 192.73 L501.04 192.59 L501.39 192.45 L501.74 192.32 L502.08 192.25 L502.43 192.25 L502.78 192.31 L503.12 192.42 L503.47 192.55 L503.82 192.66 L504.17 192.74 L504.51 192.77 L504.86 192.75 L505.21 192.69 L505.56 192.63 L505.90 192.56 L506.25 192.50 L506.60 192.48 L506.94 192.50 L507.29 192.56 L507.64 192.65 L507.99 192.74 L508.33 192.82 L508.68 192.88 L509.03 192.88 L509.38 192.84 L509.72 192.77 L510.07 192.68 L510.42 192.60 L510.76 192.53 L511.11 192.50 L511.46 192.49 L511.81 192.45 L512.15 192.40 L512.50 192.35 L512.85 192.31 L513.19 192.27 L513.54 192.27 L513.89 192.31 L514.24 192.38 L514.58 192.46 L514.93 192.52 L515.28 192.54 L515.62 192.49 L515.97 192.37 L516.32 192.20 L516.67 191.98 L517.01 191.73 L517.36 191.47 L517.71 191.20 L518.06 190.94 L518.40 190.66 L518.75 190.39 L519.10 190.17 L519.44 190.04 L519.79 190.03 L520.14 190.16 L520.49 190.43 L520.83 190.78 L521.18 191.17 L521.53 191.54 L521.88 191.86 L522.22 192.10 L522.57 192.25 L522.92 192.36 L523.26 192.43 L523.61 192.48 L523.96 192.51 L524.31 192.54 L524.65 192.58 L525.00 192.62 L525.35 192.66 L525.69 192.70 L526.04 192.74 L526.39 192.76 L526.74 192.77 L527.08 192.76 L527.43 192.74 L527.78 192.72 L528.12 192.69 L528.47 192.66 L528.82 192.63 L529.17 192.59 L529.51 192.54 L529.86 192.47 L530.21 192.38 L530.56 192.29 L530.90 192.18 L531.25 192.06 L531.60 191.93 L531.94 191.77 L532.29 191.54 L532.64 191.23 L532.99 190.80 L533.33 190.23 L533.68 189.49 L534.03 188.59 L534.38 187.60 L534.72 186.59 L535.07 185.69 L535.42 185.05 L535.76 184.83 L536.11 185.04 L536.46 185.62 L536.81 186.43 L537.15 187.34 L537.50 188.23 L537.85 189.05 L538.19 189.78 L538.54 190.41 L538.89 190.93 L539.24 191.35 L539.58 191.67 L539.93 191.90 L540.28 192.05 L540.62 192.13 L540.97 192.16 L541.32 192.17 L541.67 192.17 L542.01 192.18 L542.36 192.21 L542.71 192.27 L543.06 192.36 L543.40 192.45 L543.75 192.53 L544.10 192.60 L544.44 192.63 L544.79 192.60 L545.14 192.52 L545.49 192.42 L545.83 192.30 L546.18 192.20 L546.53 192.13 L546.88 192.12 L547.22 192.16 L547.57 192.22 L547.92 192.29 L548.26 192.34 L548.61 192.32 L548.96 192.23 L549.31 192.05 L549.65 191.79 L550.00 191.49 L550.35 191.18 L550.69 190.90 L551.04 190.68 L551.39 190.59 L551.74 190.64 L552.08 190.81 L552.43 191.07 L552.78 191.37 L553.12 191.64 L553.47 191.84 L553.82 192.00 L554.17 192.13 L554.51 192.24 L554.86 192.32 L555.21 192.39 L555.56 192.45 L555.90 192.47 L556.25 192.45 L556.60 192.40 L556.94 192.33 L557.29 192.27 L557.64 192.24 L557.99 192.24 L558.33 192.29 L558.68 192.37 L559.03 192.46 L559.38 192.53 L559.72 192.58 L560.07 192.59 L560.42 192.53 L560.76 192.40 L561.11 192.25 L561.46 192.09 L561.81 191.95 L562.15 191.86 L562.50 191.82 L562.85 191.80 L563.19 191.76 L563.54 191.70 L563.89 191.60 L564.24 191.44 L564.58 191.19 L564.93 190.85 L565.28 190.42 L565.62 189.90 L565.97 189.27 L566.32 188.56 L566.67 187.80 L567.01 187.05 L567.36 186.41 L567.71 186.02 L568.06 185.97 L568.40 186.28 L568.75 186.86 L569.10 187.61 L569.44 188.43 L569.79 189.23 L570.14 189.97 L570.49 190.60 L570.83 191.11 L571.18 191.49 L571.53 191.76 L571.88 191.95 L572.22 192.09 L572.57 192.18 L572.92 192.25 L573.26 192.30 L573.61 192.35 L573.96 192.36 L574.31 192.35 L574.65 192.33 L575.00 192.30 L575.35 192.29 L575.69 192.29 L576.04 192.33 L576.39 192.37 L576.74 192.41 L577.08 192.44 L577.43 192.45 L577.78 192.42 L578.12 192.35 L578.47 192.24 L578.82 192.11 L579.17 191.93 L579.51 191.71 L579.86 191.43 L580.21 191.08 L580.56 190.67 L580.90 190.18 L581.25 189.58 L581.60 188.87 L581.94 188.05 L582.29 187.19 L582.64 186.37 L582.99 185.76 L583.33 185.49 L583.68 185.64 L584.03 186.17 L584.38 186.94 L584.72 187.81 L585.07 188.63 L585.42 189.34 L585.76 189.95 L586.11 190.45 L586.46 190.86 L586.81 191.21 L587.15 191.48 L587.50 191.67 L587.85 191.82 L588.19 191.93 L588.54 192.01 L588.89 192.08 L589.24 192.17 L589.58 192.32 L589.93 192.49 L590.28 192.67 L590.62 192.81 L590.97 192.90 L591.32 192.92 L591.67 192.88 L592.01 192.80 L592.36 192.70 L592.71 192.61 L593.06 192.55 L593.40 192.54 L593.75 192.55 L594.10 192.57 L594.44 192.58 L594.79 192.60 L595.14 192.61 L595.49 192.62 L595.83 192.63 L596.18 192.66 L596.53 192.69 L596.88 192.73 L597.22 192.77 L597.57 192.79 L597.92 192.79 L598.26 192.80 L598.61 192.81 L598.96 192.83 L599.31 192.85 L599.65 192.87 L600.00 192.88 L600.35 192.86 L600.69 192.80 L601.04 192.72 L601.39 192.64 L601.74 192.57 L602.08 192.53 L602.43 192.53 L602.78 192.56 L603.12 192.61 L603.47 192.66 L603.82 192.71 L604.17 192.75 L604.51 192.75 L604.86 192.78 L605.21 192.84 L605.56 192.90 L605.90 192.97 L606.25 193.02 L606.60 193.03 L606.94 193.00 L607.29 192.93 L607.64 192.83 L607.99 192.72 L608.33 192.59 L608.68 192.46 L609.03 192.33 L609.38 192.18 L609.72 191.98 L610.07 191.75 L610.42 191.47 L610.76 191.15 L611.11 190.81 L611.46 190.48 L611.81 190.20 L612.15 190.02 L612.50 189.97 L612.85 190.07 L613.19 190.29 L613.54 190.60 L613.89 190.95 L614.24 191.31 L614.58 191.66 L614.93 191.96 L615.28 192.22 L615.62 192.42 L615.97 192.57 L616.32 192.66 L616.67 192.72 L617.01 192.75 L617.36 192.77 L617.71 192.79 L618.06 192.80 L618.40 192.77 L618.75 192.73 L619.10 192.66 L619.44 192.60 L619.79 192.55 L620.14 192.52 L620.49 192.52 L620.83 192.54 L621.18 192.55 L621.53 192.53 L621.88 192.47 L622.22 192.33 L622.57 192.09 L622.92 191.72 L623.26 191.23 L623.61 190.60 L623.96 189.83 L624.31 188.90 L624.65 187.78 L625.00 186.44 L625.35 184.86 L625.69 183.14 L626.04 181.40 L626.39 179.91 L626.74 178.98 L627.08 178.93 L627.43 179.78 L627.78 181.29 L628.12 183.10 L628.47 184.92 L628.82 186.56 L629.17 187.94 L629.51 189.07 L629.86 189.95 L630.21 190.61 L630.56 191.11 L630.90 191.47 L631.25 191.74 L631.60 191.94 L631.94 192.11 L632.29 192.24 L632.64 192.34 L632.99 192.42 L633.33 192.48 L633.68 192.53 L634.03 192.56 L634.38 192.58 L634.72 192.59 L635.07 192.60 L635.42 192.62 L635.76 192.62 L636.11 192.59 L636.46 192.55 L636.81 192.49 L637.15 192.43 L637.50 192.39 L637.85 192.38 L638.19 192.38 L638.54 192.39 L638.89 192.41 L639.24 192.42 L639.58 192.42 L639.93 192.42 L640.28 192.41 L640.62 192.40 L640.97 192.37 L641.32 192.35 L641.67 192.32 L642.01 192.32 L642.36 192.32 L642.71 192.34 L643.06 192.37 L643.40 192.40 L643.75 192.43 L644.10 192.45 L644.44 192.46 L644.79 192.48 L645.14 192.52 L645.49 192.56 L645.83 192.61 L646.18 192.65 L646.53 192.68 L646.88 192.66 L647.22 192.57 L647.57 192.42 L647.92 192.26 L648.26 192.11 L648.61 192.00 L648.96 191.96 L649.31 191.95 L649.65 191.95 L650.00 191.95 L650.35 191.95 L650.69 191.93 L651.04 191.90 L651.39 191.84 L651.74 191.79 L652.08 191.72 L652.43 191.62 L652.78 191.48 L653.12 191.28 L653.47 191.02 L653.82 190.71 L654.17 190.37 L654.51 190.01 L654.86 189.64 L655.21 189.33 L655.56 189.10 L655.90 189.01 L656.25 189.07 L656.60 189.27 L656.94 189.57 L657.29 189.91 L657.64 190.28 L657.99 190.64 L658.33 190.98 L658.68 191.29 L659.03 191.55 L659.38 191.77 L659.72 191.94 L660.07 192.06 L660.42 192.13 L660.76 192.16 L661.11 192.16 L661.46 192.15 L661.81 192.15 L662.15 192.16 L662.50 192.20 L662.85 192.28 L663.19 192.37 L663.54 192.48 L663.89 192.57 L664.24 192.63 L664.58 192.64 L664.93 192.60 L665.28 192.54 L665.62 192.46 L665.97 192.38 L666.32 192.33 L666.67 192.30 L667.01 192.33 L667.36 192.40 L667.71 192.49 L668.06 192.58 L668.40 192.66 L668.75 192.70 L669.10 192.70 L669.44 192.67 L669.79 192.62 L670.14 192.57 L670.49 192.52 L670.83 192.49 L671.18 192.48 L671.53 192.50 L671.88 192.55 L672.22 192.61 L672.57 192.68 L672.92 192.73 L673.26 192.75 L673.61 192.74 L673.96 192.72 L674.31 192.68 L674.65 192.64 L675.00 192.60 L675.35 192.58 L675.69 192.57 L676.04 192.56 L676.39 192.53 L676.74 192.51 L677.08 192.48 L677.43 192.46 L677.78 192.45 L678.12 192.43 L678.47 192.39 L678.82 192.33 L679.17 192.27 L679.51 192.22 L679.86 192.18 L680.21 192.19 L680.56 192.23"/>
<path d="M77.78 261.02 L78.12 261.00 L78.47 260.94 L78.82 260.85 L79.17 260.75 L79.51 260.67 L79.86 260.62 L80.21 260.62 L80.56 260.63 L80.90 260.63 L81.25 260.63 L81.60 260.63 L81.94 260.62 L82.29 260.60 L82.64 260.59 L82.99 260.58 L83.33 260.57 L83.68 260.55 L84.03 260.51 L84.38 260.45 L84.72 260.35 L85.07 260.24 L85.42 260.09 L85.76 259.91 L86.11 259.67 L86.46 259.35 L86.81 258.91 L87.15 258.30 L87.50 257.41 L87.85 256.11 L88.19 254.26 L88.54 251.70 L88.89 248.35 L89.24 244.26 L89.58 239.65 L89.93 235.09 L90.28 231.55 L90.62 230.23 L90.97 231.69 L91.32 235.34 L91.67 240.01 L92.01 244.71 L92.36 248.88 L92.71 252.29 L93.06 254.93 L93.40 256.86 L93.75 258.22 L94.10 259.14 L94.44 259.77 L94.79 260.21 L95.14 260.54 L95.49 260.81 L95.83 261.04 L96.18 261.19 L96.53 261.29 L96.88 261.35 L97.22 261.41 L97.57 261.49 L97.92 261.59 L98.26 261.70 L98.61 261.82 L98.96 261.94 L99.31 262.04 L99.65 262.14 L100.00 262.22 L100.35 262.31 L100.69 262.44 L101.04 262.59 L101.39 262.74 L101.74 262.87 L102.08 262.97 L102.43 263.02 L102.78 263.06 L103.12 263.10 L103.47 263.14 L103.82 263.18 L104.17 263.21 L104.51 263.23 L104.86 263.24 L105.21 263.25 L105.56 263.26 L105.90 263.27 L106.25 263.28 L106.60 263.29 L106.94 263.29 L107.29 263.25 L107.64 263.18 L107.99 263.10 L108.33 263.03 L108.68 262.99 L109.03 263.00 L109.38 263.06 L109.72 263.15 L110.07 263.26 L110.42 263.37 L110.76 263.45 L111.11 263.48 L111.46 263.47 L111.81 263.42 L112.15 263.35 L112.50 263.27 L112.85 263.21 L113.19 263.17 L113.54 263.17 L113.89 263.19 L114.24 263.21 L114.58 263.24 L114.93 263.26 L115.28 263.27 L115.62 263.26 L115.97 263.25 L116.32 263.23 L116.67 263.21 L117.01 263.18 L117.36 263.13 L117.71 263.08 L118.06 262.99 L118.40 262.89 L118.75 262.77 L119.10 262.66 L119.44 262.58 L119.79 262.54 L120.14 262.56 L120.49 262.64 L120.83 262.76 L121.18 262.90 L121.53 263.04 L121.88 263.16 L122.22 263.25 L122.57 263.33 L122.92 263.42 L123.26 263.50 L123.61 263.58 L123.96 263.65 L124.31 263.69 L124.65 263.70 L125.00 263.62 L125.35 263.50 L125.69 263.36 L126.04 263.23 L126.39 263.14 L126.74 263.12 L127.08 263.18 L127.43 263.30 L127.78 263.45 L128.12 263.60 L128.47 263.72 L128.82 263.78 L129.17 263.76 L129.51 263.69 L129.86 263.59 L130.21 263.47 L130.56 263.37 L130.90 263.30 L131.25 263.29 L131.60 263.32 L131.94 263.36 L132.29 263.40 L132.64 263.45 L132.99 263.48 L133.33 263.49 L133.68 263.47 L134.03 263.44 L134.38 263.40 L134.72 263.36 L135.07 263.32 L135.42 263.28 L135.76 263.27 L136.11 263.31 L136.46 263.38 L136.81 263.46 L137.15 263.52 L137.50 263.55 L137.85 263.52 L138.19 263.44 L138.54 263.33 L138.89 263.19 L139.24 263.04 L139.58 262.88 L139.93 262.72 L140.28 262.55 L140.62 262.34 L140.97 262.05 L141.32 261.63 L141.67 261.00 L142.01 260.09 L142.36 258.80 L142.71 257.04 L143.06 254.81 L143.40 252.21 L143.75 249.46 L144.10 247.07 L144.44 245.69 L144.79 245.89 L145.14 247.59 L145.49 250.17 L145.83 252.96 L146.18 255.53 L146.53 257.67 L146.88 259.29 L147.22 260.47 L147.57 261.28 L147.92 261.83 L148.26 262.19 L148.61 262.45 L148.96 262.66 L149.31 262.82 L149.65 262.93 L150.00 263.02 L150.35 263.09 L150.69 263.15 L151.04 263.21 L151.39 263.28 L151.74 263.37 L152.08 263.47 L152.43 263.57 L152.78 263.66 L153.12 263.73 L153.47 263.76 L153.82 263.79 L154.17 263.82 L154.51 263.84 L154.86 263.86 L155.21 263.88 L155.56 263.90 L155.90 263.91 L156.25 263.91 L156.60 263.90 L156.94 263.89 L157.29 263.88 L157.64 263.88 L157.99 263.88 L158.33 263.84 L158.68 263.78 L159.03 263.71 L159.38 263.64 L159.72 263.60 L160.07 263.59 L160.42 263.59 L160.76 263.59 L161.11 263.59 L161.46 263.59 L161.81 263.58 L162.15 263.58 L162.50 263.59 L162.85 263.59 L163.19 263.59 L163.54 263.59 L163.89 263.59 L164.24 263.59 L164.58 263.59 L164.93 263.63 L165.28 263.69 L165.62 263.77 L165.97 263.85 L166.32 263.90 L166.67 263.92 L167.01 263.89 L167.36 263.82 L167.71 263.73 L168.06 263.63 L168.40 263.54 L168.75 263.48 L169.10 263.47 L169.44 263.51 L169.79 263.58 L170.14 263.67 L170.49 263.73 L170.83 263.75 L171.18 263.70 L171.53 263.56 L171.88 263.34 L172.22 263.05 L172.57 262.71 L172.92 262.30 L173.26 261.81 L173.61 261.21 L173.96 260.44 L174.31 259.41 L174.65 258.07 L175.00 256.43 L175.35 254.60 L175.69 252.85 L176.04 251.69 L176.39 251.56 L176.74 252.52 L177.08 254.20 L177.43 256.11 L177.78 257.93 L178.12 259.49 L178.47 260.73 L178.82 261.68 L179.17 262.36 L179.51 262.84 L179.86 263.17 L180.21 263.40 L180.56 263.49 L180.90 263.50 L181.25 263.46 L181.60 263.42 L181.94 263.40 L182.29 263.44 L182.64 263.48 L182.99 263.52 L183.33 263.55 L183.68 263.58 L184.03 263.60 L184.38 263.63 L184.72 263.67 L185.07 263.74 L185.42 263.83 L185.76 263.93 L186.11 264.02 L186.46 264.08 L186.81 264.09 L187.15 264.07 L187.50 264.03 L187.85 263.97 L188.19 263.91 L188.54 263.87 L188.89 263.86 L189.24 263.89 L189.58 263.94 L189.93 264.02 L190.28 264.09 L190.62 264.16 L190.97 264.19 L191.32 264.20 L191.67 264.22 L192.01 264.23 L192.36 264.25 L192.71 264.26 L193.06 264.27 L193.40 264.28 L193.75 264.24 L194.10 264.17 L194.44 264.07 L194.79 263.98 L195.14 263.90 L195.49 263.86 L195.83 263.87 L196.18 263.89 L196.53 263.92 L196.88 263.95 L197.22 263.98 L197.57 263.99 L197.92 263.99 L198.26 264.01 L198.61 264.06 L198.96 264.12 L199.31 264.18 L199.65 264.21 L200.00 264.21 L200.35 264.16 L200.69 264.06 L201.04 263.92 L201.39 263.78 L201.74 263.65 L202.08 263.56 L202.43 263.51 L202.78 263.49 L203.12 263.48 L203.47 263.46 L203.82 263.43 L204.17 263.37 L204.51 263.29 L204.86 263.20 L205.21 263.12 L205.56 263.03 L205.90 262.91 L206.25 262.73 L206.60 262.47 L206.94 262.08 L207.29 261.51 L207.64 260.71 L207.99 259.59 L208.33 258.04 L208.68 255.93 L209.03 253.12 L209.38 249.53 L209.72 245.16 L210.07 240.23 L210.42 235.33 L210.76 231.51 L211.11 230.04 L211.46 231.52 L211.81 235.35 L212.15 240.26 L212.50 245.20 L212.85 249.58 L213.19 253.18 L213.54 255.99 L213.89 258.06 L214.24 259.54 L214.58 260.59 L214.93 261.33 L215.28 261.85 L215.62 262.23 L215.97 262.53 L216.32 262.77 L216.67 262.98 L217.01 263.15 L217.36 263.30 L217.71 263.42 L218.06 263.53 L218.40 263.65 L218.75 263.77 L219.10 263.89 L219.44 263.99 L219.79 264.07 L220.14 264.12 L220.49 264.12 L220.83 264.10 L221.18 264.06 L221.53 264.03 L221.88 264.00 L222.22 264.01 L222.57 264.05 L222.92 264.12 L223.26 264.21 L223.61 264.29 L223.96 264.37 L224.31 264.42 L224.65 264.43 L225.00 264.41 L225.35 264.38 L225.69 264.34 L226.04 264.30 L226.39 264.27 L226.74 264.27 L227.08 264.30 L227.43 264.38 L227.78 264.46 L228.12 264.55 L228.47 264.62 L228.82 264.65 L229.17 264.64 L229.51 264.59 L229.86 264.53 L230.21 264.46 L230.56 264.39 L230.90 264.35 L231.25 264.33 L231.60 264.35 L231.94 264.38 L232.29 264.41 L232.64 264.45 L232.99 264.47 L233.33 264.46 L233.68 264.44 L234.03 264.44 L234.38 264.44 L234.72 264.44 L235.07 264.43 L235.42 264.40 L235.76 264.33 L236.11 264.18 L236.46 263.98 L236.81 263.75 L237.15 263.50 L237.50 263.25 L237.85 263.00 L238.19 262.66 L238.54 262.19 L238.89 261.50 L239.24 260.54 L239.58 259.25 L239.93 257.57 L240.28 255.54 L240.62 253.27 L240.97 251.02 L241.32 249.27 L241.67 248.62 L242.01 249.33 L242.36 251.11 L242.71 253.41 L243.06 255.74 L243.40 257.82 L243.75 259.52 L244.10 260.82 L244.44 261.77 L244.79 262.41 L245.14 262.80 L245.49 263.03 L245.83 263.17 L246.18 263.26 L246.53 263.34 L246.88 263.45 L247.22 263.61 L247.57 263.81 L247.92 264.02 L248.26 264.21 L248.61 264.34 L248.96 264.40 L249.31 264.40 L249.65 264.39 L250.00 264.35 L250.35 264.32 L250.69 264.29 L251.04 264.28 L251.39 264.28 L251.74 264.28 L252.08 264.28 L252.43 264.28 L252.78 264.28 L253.12 264.27 L253.47 264.26 L253.82 264.25 L254.17 264.25 L254.51 264.25 L254.86 264.25 L255.21 264.24 L255.56 264.22 L255.90 264.19 L256.25 264.15 L256.60 264.10 L256.94 264.05 L257.29 264.00 L257.64 263.95 L257.99 263.89 L258.33 263.82 L258.68 263.74 L259.03 263.65 L259.38 263.55 L259.72 263.45 L260.07 263.35 L260.42 263.25 L260.76 263.14 L261.11 263.01 L261.46 262.86 L261.81 262.70 L262.15 262.52 L262.50 262.29 L262.85 262.00 L263.19 261.65 L263.54 261.24 L263.89 260.80 L264.24 260.32 L264.58 259.80 L264.93 259.23 L265.28 258.57 L265.62 257.75 L265.97 256.71 L266.32 255.36 L266.67 253.55 L267.01 251.12 L267.36 247.82 L267.71 243.22 L268.06 236.71 L268.40 227.55 L268.75 215.02 L269.10 198.96 L269.44 181.24 L269.79 167.75 L270.14 166.28 L270.49 177.84 L270.83 195.28 L271.18 211.91 L271.53 225.16 L271.88 234.95 L272.22 241.94 L272.57 246.89 L272.92 250.42 L273.26 252.99 L273.61 254.92 L273.96 256.40 L274.31 257.57 L274.65 258.51 L275.00 259.27 L275.35 259.90 L275.69 260.42 L276.04 260.89 L276.39 261.31 L276.74 261.69 L277.08 262.03 L277.43 262.31 L277.78 262.53 L278.12 262.69 L278.47 262.78 L278.82 262.83 L279.17 262.86 L279.51 262.90 L279.86 262.95 L280.21 263.03 L280.56 263.11 L280.90 263.18 L281.25 263.25 L281.60 263.31 L281.94 263.36 L282.29 263.41 L282.64 263.48 L282.99 263.58 L283.33 263.69 L283.68 263.80 L284.03 263.89 L284.38 263.95 L284.72 263.96 L285.07 263.93 L285.42 263.88 L285.76 263.81 L286.11 263.75 L286.46 263.72 L286.81 263.73 L287.15 263.77 L287.50 263.82 L287.85 263.88 L288.19 263.93 L288.54 263.98 L288.89 264.00 L289.24 264.00 L289.58 264.00 L289.93 264.00 L290.28 264.00 L290.62 264.00 L290.97 264.00 L291.32 263.99 L291.67 263.96 L292.01 263.91 L292.36 263.86 L292.71 263.81 L293.06 263.78 L293.40 263.78 L293.75 263.84 L294.10 263.94 L294.44 264.07 L294.79 264.20 L295.14 264.30 L295.49 264.36 L295.83 264.35 L296.18 264.27 L296.53 264.16 L296.88 264.04 L297.22 263.93 L297.57 263.86 L297.92 263.86 L298.26 263.90 L298.61 263.96 L298.96 264.03 L299.31 264.10 L299.65 264.15 L300.00 264.17 L300.35 264.17 L300.69 264.15 L301.04 264.12 L301.39 264.09 L301.74 264.07 L302.08 264.06 L302.43 264.06 L302.78 264.07 L303.12 264.08 L303.47 264.09 L303.82 264.10 L304.17 264.11 L304.51 264.11 L304.86 264.12 L305.21 264.13 L305.56 264.14 L305.90 264.15 L306.25 264.16 L306.60 264.16 L306.94 264.15 L307.29 264.16 L307.64 264.17 L307.99 264.18 L308.33 264.19 L308.68 264.18 L309.03 264.15 L309.38 264.08 L309.72 263.98 L310.07 263.85 L310.42 263.73 L310.76 263.61 L311.11 263.50 L311.46 263.45 L311.81 263.43 L312.15 263.42 L312.50 263.37 L312.85 263.23 L313.19 262.94 L313.54 262.42 L313.89 261.60 L314.24 260.43 L314.58 258.83 L314.93 256.75 L315.28 254.21 L315.62 251.30 L315.97 248.28 L316.32 245.66 L316.67 244.19 L317.01 244.44 L317.36 246.34 L317.71 249.18 L318.06 252.23 L318.40 255.00 L318.75 257.30 L319.10 259.08 L319.44 260.40 L319.79 261.36 L320.14 262.06 L320.49 262.62 L320.83 263.08 L321.18 263.47 L321.53 263.79 L321.88 264.04 L322.22 264.21 L322.57 264.28 L322.92 264.28 L323.26 264.24 L323.61 264.19 L323.96 264.14 L324.31 264.14 L324.65 264.18 L325.00 264.21 L325.35 264.24 L325.69 264.27 L326.04 264.29 L326.39 264.31 L326.74 264.34 L327.08 264.38 L327.43 264.46 L327.78 264.54 L328.12 264.62 L328.47 264.69 L328.82 264.73 L329.17 264.73 L329.51 264.70 L329.86 264.64 L330.21 264.57 L330.56 264.51 L330.90 264.48 L331.25 264.48 L331.60 264.49 L331.94 264.50 L332.29 264.51 L332.64 264.52 L332.99 264.52 L333.33 264.53 L333.68 264.54 L334.03 264.57 L334.38 264.60 L334.72 264.64 L335.07 264.66 L335.42 264.68 L335.76 264.68 L336.11 264.66 L336.46 264.63 L336.81 264.59 L337.15 264.55 L337.50 264.53 L337.85 264.51 L338.19 264.52 L338.54 264.54 L338.89 264.57 L339.24 264.59 L339.58 264.60 L339.93 264.59 L340.28 264.57 L340.62 264.56 L340.97 264.57 L341.32 264.57 L341.67 264.55 L342.01 264.47 L342.36 264.33 L342.71 264.09 L343.06 263.74 L343.40 263.24 L343.75 262.57 L344.10 261.67 L344.44 260.53 L344.79 259.11 L345.14 257.43 L345.49 255.62 L345.83 253.95 L346.18 252.87 L346.53 252.77 L346.88 253.71 L347.22 255.31 L347.57 257.12 L347.92 258.83 L348.26 260.29 L348.61 261.46 L348.96 262.35 L349.31 263.00 L349.65 263.45 L350.00 263.76 L350.35 263.98 L350.69 264.14 L351.04 264.26 L351.39 264.37 L351.74 264.50 L352.08 264.65 L352.43 264.79 L352.78 264.91 L353.12 265.00 L353.47 265.04 L353.82 265.04 L354.17 265.02 L354.51 264.98 L354.86 264.94 L355.21 264.91 L355.56 264.91 L355.90 264.96 L356.25 265.06 L356.60 265.19 L356.94 265.32 L357.29 265.43 L357.64 265.49 L357.99 265.50 L358.33 265.44 L358.68 265.35 L359.03 265.25 L359.38 265.15 L359.72 265.09 L360.07 265.07 L360.42 265.07 L360.76 265.08 L361.11 265.09 L361.46 265.09 L361.81 265.10 L362.15 265.10 L362.50 265.09 L362.85 265.06 L363.19 265.03 L363.54 264.99 L363.89 264.95 L364.24 264.93 L364.58 264.91 L364.93 264.91 L365.28 264.92 L365.62 264.93 L365.97 264.93 L366.32 264.93 L366.67 264.91 L367.01 264.88 L367.36 264.83 L367.71 264.76 L368.06 264.69 L368.40 264.62 L368.75 264.56 L369.10 264.52 L369.44 264.51 L369.79 264.52 L370.14 264.53 L370.49 264.53 L370.83 264.49 L371.18 264.40 L371.53 264.27 L371.88 264.10 L372.22 263.89 L372.57 263.66 L372.92 263.39 L373.26 263.10 L373.61 262.75 L373.96 262.31 L374.31 261.72 L374.65 260.90 L375.00 259.73 L375.35 258.09 L375.69 255.80 L376.04 252.76 L376.39 248.86 L376.74 244.14 L377.08 238.76 L377.43 233.18 L377.78 228.24 L378.12 225.13 L378.47 224.84 L378.82 227.50 L379.17 232.20 L379.51 237.75 L379.86 243.21 L380.21 248.07 L380.56 252.09 L380.90 255.24 L381.25 257.61 L381.60 259.34 L381.94 260.59 L382.29 261.51 L382.64 262.19 L382.99 262.70 L383.33 263.09 L383.68 263.41 L384.03 263.67 L384.38 263.89 L384.72 264.06 L385.07 264.21 L385.42 264.34 L385.76 264.45 L386.11 264.55 L386.46 264.64 L386.81 264.73 L387.15 264.84 L387.50 264.97 L387.85 265.11 L388.19 265.23 L388.54 265.34 L388.89 265.41 L389.24 265.46 L389.58 265.52 L389.93 265.60 L390.28 265.67 L390.62 265.73 L390.97 265.78 L391.32 265.80 L391.67 265.77 L392.01 265.71 L392.36 265.64 L392.71 265.57 L393.06 265.53 L393.40 265.53 L393.75 265.56 L394.10 265.58 L394.44 265.61 L394.79 265.64 L395.14 265.67 L395.49 265.69 L395.83 265.70 L396.18 265.71 L396.53 265.73 L396.88 265.74 L397.22 265.76 L397.57 265.77 L397.92 265.78 L398.26 265.77 L398.61 265.74 L398.96 265.71 L399.31 265.68 L399.65 265.65 L400.00 265.65 L400.35 265.68 L400.69 265.74 L401.04 265.81 L401.39 265.88 L401.74 265.95 L402.08 265.99 L402.43 266.00 L402.78 266.04 L403.12 266.08 L403.47 266.13 L403.82 266.18 L404.17 266.22 L404.51 266.23 L404.86 266.21 L405.21 266.16 L405.56 266.09 L405.90 266.02 L406.25 265.96 L406.60 265.94 L406.94 265.93 L407.29 265.89 L407.64 265.84 L407.99 265.78 L408.33 265.73 L408.68 265.70 L409.03 265.70 L409.38 265.73 L409.72 265.78 L410.07 265.85 L410.42 265.91 L410.76 265.96 L411.11 265.98 L411.46 266.00 L411.81 266.05 L412.15 266.11 L412.50 266.17 L412.85 266.22 L413.19 266.25 L413.54 266.25 L413.89 266.23 L414.24 266.19 L414.58 266.14 L414.93 266.10 L415.28 266.07 L415.62 266.06 L415.97 266.03 L416.32 265.96 L416.67 265.88 L417.01 265.80 L417.36 265.74 L417.71 265.70 L418.06 265.72 L418.40 265.79 L418.75 265.89 L419.10 266.00 L419.44 266.09 L419.79 266.15 L420.14 266.15 L420.49 266.08 L420.83 265.98 L421.18 265.86 L421.53 265.74 L421.88 265.64 L422.22 265.59 L422.57 265.61 L422.92 265.69 L423.26 265.79 L423.61 265.90 L423.96 265.98 L424.31 266.01 L424.65 265.98 L425.00 265.89 L425.35 265.78 L425.69 265.65 L426.04 265.52 L426.39 265.40 L426.74 265.32 L427.08 265.23 L427.43 265.12 L427.78 264.98 L428.12 264.83 L428.47 264.65 L428.82 264.44 L429.17 264.20 L429.51 263.92 L429.86 263.53 L430.21 262.93 L430.56 262.02 L430.90 260.64 L431.25 258.69 L431.60 256.08 L431.94 252.87 L432.29 249.24 L432.64 245.63 L432.99 242.82 L433.33 241.74 L433.68 242.82 L434.03 245.61 L434.38 249.19 L434.72 252.80 L435.07 255.99 L435.42 258.59 L435.76 260.56 L436.11 262.01 L436.46 263.04 L436.81 263.77 L437.15 264.29 L437.50 264.65 L437.85 264.92 L438.19 265.12 L438.54 265.29 L438.89 265.42 L439.24 265.54 L439.58 265.63 L439.93 265.72 L440.28 265.78 L440.62 265.84 L440.97 265.88 L441.32 265.91 L441.67 265.94 L442.01 265.97 L442.36 266.00 L442.71 265.99 L443.06 265.96 L443.40 265.90 L443.75 265.85 L444.10 265.82 L444.44 265.82 L444.79 265.82 L445.14 265.81 L445.49 265.80 L445.83 265.78 L446.18 265.76 L446.53 265.76 L446.88 265.77 L447.22 265.82 L447.57 265.88 L447.92 265.95 L448.26 266.02 L448.61 266.06 L448.96 266.08 L449.31 266.06 L449.65 266.02 L450.00 265.97 L450.35 265.92 L450.69 265.88 L451.04 265.86 L451.39 265.87 L451.74 265.88 L452.08 265.90 L452.43 265.92 L452.78 265.93 L453.12 265.94 L453.47 265.95 L453.82 265.99 L454.17 266.06 L454.51 266.15 L454.86 266.22 L455.21 266.28 L455.56 266.31 L455.90 266.28 L456.25 266.20 L456.60 266.11 L456.94 266.00 L457.29 265.92 L457.64 265.86 L457.99 265.87 L458.33 265.95 L458.68 266.06 L459.03 266.20 L459.38 266.32 L459.72 266.40 L460.07 266.41 L460.42 266.35 L460.76 266.23 L461.11 266.09 L461.46 265.94 L461.81 265.81 L462.15 265.73 L462.50 265.71 L462.85 265.73 L463.19 265.77 L463.54 265.79 L463.89 265.80 L464.24 265.75 L464.58 265.63 L464.93 265.44 L465.28 265.19 L465.62 264.85 L465.97 264.40 L466.32 263.81 L466.67 263.07 L467.01 262.16 L467.36 261.11 L467.71 259.98 L468.06 258.86 L468.40 257.95 L468.75 257.44 L469.10 257.49 L469.44 258.05 L469.79 258.95 L470.14 260.00 L470.49 261.05 L470.83 262.02 L471.18 262.87 L471.53 263.59 L471.88 264.15 L472.22 264.59 L472.57 264.91 L472.92 265.15 L473.26 265.32 L473.61 265.46 L473.96 265.60 L474.31 265.74 L474.65 265.87 L475.00 265.98 L475.35 266.06 L475.69 266.09 L476.04 266.11 L476.39 266.11 L476.74 266.10 L477.08 266.09 L477.43 266.08 L477.78 266.07 L478.12 266.05 L478.47 266.01 L478.82 265.95 L479.17 265.88 L479.51 265.81 L479.86 265.75 L480.21 265.70 L480.56 265.70 L480.90 265.71 L481.25 265.72 L481.60 265.70 L481.94 265.63 L482.29 265.48 L482.64 265.23 L482.99 264.87 L483.33 264.37 L483.68 263.69 L484.03 262.77 L484.38 261.53 L484.72 259.88 L485.07 257.72 L485.42 255.08 L485.76 252.10 L486.11 249.14 L486.46 246.83 L486.81 245.94 L487.15 246.82 L487.50 249.10 L487.85 252.02 L488.19 254.96 L488.54 257.57 L488.89 259.70 L489.24 261.37 L489.58 262.63 L489.93 263.56 L490.28 264.22 L490.62 264.70 L490.97 265.03 L491.32 265.24 L491.67 265.36 L492.01 265.42 L492.36 265.45 L492.71 265.47 L493.06 265.49 L493.40 265.55 L493.75 265.65 L494.10 265.80 L494.44 265.96 L494.79 266.12 L495.14 266.25 L495.49 266.33 L495.83 266.33 L496.18 266.28 L496.53 266.19 L496.88 266.10 L497.22 266.01 L497.57 265.96 L497.92 265.96 L498.26 266.03 L498.61 266.14 L498.96 266.26 L499.31 266.38 L499.65 266.47 L500.00 266.50 L500.35 266.49 L500.69 266.47 L501.04 266.45 L501.39 266.42 L501.74 266.38 L502.08 266.34 L502.43 266.28 L502.78 266.16 L503.12 266.00 L503.47 265.82 L503.82 265.65 L504.17 265.52 L504.51 265.46 L504.86 265.44 L505.21 265.44 L505.56 265.46 L505.90 265.50 L506.25 265.56 L506.60 265.61 L506.94 265.67 L507.29 265.73 L507.64 265.78 L507.99 265.82 L508.33 265.86 L508.68 265.88 L509.03 265.90 L509.38 265.92 L509.72 265.95 L510.07 265.98 L510.42 266.01 L510.76 266.03 L511.11 266.04 L511.46 266.04 L511.81 266.06 L512.15 266.08 L512.50 266.11 L512.85 266.13 L513.19 266.13 L513.54 266.12 L513.89 266.10 L514.24 266.07 L514.58 266.05 L514.93 266.02 L515.28 265.98 L515.62 265.93 L515.97 265.88 L516.32 265.81 L516.67 265.72 L517.01 265.60 L517.36 265.42 L517.71 265.16 L518.06 264.82 L518.40 264.41 L518.75 263.91 L519.10 263.35 L519.44 262.77 L519.79 262.22 L520.14 261.82 L520.49 261.68 L520.83 261.83 L521.18 262.23 L521.53 262.78 L521.88 263.37 L522.22 263.93 L522.57 264.39 L522.92 264.73 L523.26 264.97 L523.61 265.14 L523.96 265.25 L524.31 265.34 L524.65 265.44 L525.00 265.56 L525.35 265.71 L525.69 265.85 L526.04 265.97 L526.39 266.05 L526.74 266.07 L527.08 266.06 L527.43 266.04 L527.78 266.01 L528.12 265.98 L528.47 265.96 L528.82 265.93 L529.17 265.91 L529.51 265.89 L529.86 265.87 L530.21 265.84 L530.56 265.80 L530.90 265.74 L531.25 265.65 L531.60 265.50 L531.94 265.29 L532.29 265.02 L532.64 264.67 L532.99 264.24 L533.33 263.68 L533.68 262.95 L534.03 261.98 L534.38 260.73 L534.72 259.16 L535.07 257.31 L535.42 255.28 L535.76 253.31 L536.11 251.85 L536.46 251.32 L536.81 251.92 L537.15 253.44 L537.50 255.44 L537.85 257.51 L538.19 259.36 L538.54 260.88 L538.89 262.05 L539.24 262.92 L539.58 263.56 L539.93 264.05 L540.28 264.45 L540.62 264.75 L540.97 264.98 L541.32 265.17 L541.67 265.32 L542.01 265.43 L542.36 265.52 L542.71 265.63 L543.06 265.75 L543.40 265.88 L543.75 266.00 L544.10 266.09 L544.44 266.14 L544.79 266.16 L545.14 266.17 L545.49 266.18 L545.83 266.18 L546.18 266.18 L546.53 266.17 L546.88 266.15 L547.22 266.11 L547.57 266.04 L547.92 265.95 L548.26 265.85 L548.61 265.73 L548.96 265.59 L549.31 265.41 L549.65 265.18 L550.00 264.88 L550.35 264.51 L550.69 264.06 L551.04 263.55 L551.39 263.02 L551.74 262.52 L552.08 262.17 L552.43 262.05 L552.78 262.20 L553.12 262.57 L553.47 263.07 L553.82 263.63 L554.17 264.19 L554.51 264.70 L554.86 265.14 L555.21 265.47 L555.56 265.70 L555.90 265.83 L556.25 265.89 L556.60 265.91 L556.94 265.89 L557.29 265.84 L557.64 265.77 L557.99 265.69 L558.33 265.57 L558.68 265.41 L559.03 265.23 L559.38 265.02 L559.72 264.79 L560.07 264.56 L560.42 264.32 L560.76 264.09 L561.11 263.92 L561.46 263.84 L561.81 263.85 L562.15 263.96 L562.50 264.13 L562.85 264.35 L563.19 264.56 L563.54 264.73 L563.89 264.82 L564.24 264.80 L564.58 264.61 L564.93 264.25 L565.28 263.69 L565.62 262.90 L565.97 261.88 L566.32 260.62 L566.67 259.17 L567.01 257.64 L567.36 256.21 L567.71 255.17 L568.06 254.83 L568.40 255.33 L568.75 256.51 L569.10 258.01 L569.44 259.54 L569.79 260.92 L570.14 262.08 L570.49 263.01 L570.83 263.73 L571.18 264.28 L571.53 264.68 L571.88 264.95 L572.22 265.13 L572.57 265.25 L572.92 265.34 L573.26 265.41 L573.61 265.49 L573.96 265.60 L574.31 265.72 L574.65 265.85 L575.00 265.95 L575.35 266.01 L575.69 266.02 L576.04 266.02 L576.39 266.02 L576.74 266.00 L577.08 265.97 L577.43 265.92 L577.78 265.86 L578.12 265.74 L578.47 265.55 L578.82 265.30 L579.17 264.99 L579.51 264.64 L579.86 264.21 L580.21 263.70 L580.56 263.02 L580.90 262.10 L581.25 260.91 L581.60 259.42 L581.94 257.65 L582.29 255.71 L582.64 253.86 L582.99 252.49 L583.33 251.98 L583.68 252.52 L584.03 253.93 L584.38 255.79 L584.72 257.73 L585.07 259.55 L585.42 261.13 L585.76 262.41 L586.11 263.40 L586.46 264.13 L586.81 264.64 L587.15 264.93 L587.50 265.07 L587.85 265.12 L588.19 265.13 L588.54 265.13 L588.89 265.18 L589.24 265.26 L589.58 265.33 L589.93 265.41 L590.28 265.48 L590.62 265.54 L590.97 265.58 L591.32 265.61 L591.67 265.65 L592.01 265.69 L592.36 265.74 L592.71 265.78 L593.06 265.81 L593.40 265.83 L593.75 265.83 L594.10 265.83 L594.44 265.83 L594.79 265.83 L595.14 265.83 L595.49 265.83 L595.83 265.82 L596.18 265.82 L596.53 265.80 L596.88 265.79 L597.22 265.78 L597.57 265.77 L597.92 265.76 L598.26 265.76 L598.61 265.75 L598.96 265.76 L599.31 265.77 L599.65 265.78 L600.00 265.79 L600.35 265.81 L600.69 265.85 L601.04 265.90 L601.39 265.94 L601.74 265.99 L602.08 266.01 L602.43 266.01 L602.78 265.98 L603.12 265.92 L603.47 265.86 L603.82 265.80 L604.17 265.75 L604.51 265.74 L604.86 265.73 L605.21 265.72 L605.56 265.71 L605.90 265.69 L606.25 265.67 L606.60 265.66 L606.94 265.63 L607.29 265.60 L607.64 265.56 L607.99 265.51 L608.33 265.45 L608.68 265.37 L609.03 265.27 L609.38 265.18 L609.72 265.07 L610.07 264.91 L610.42 264.67 L610.76 264.31 L611.11 263.82 L611.46 263.21 L611.81 262.53 L612.15 261.84 L612.50 261.25 L612.85 260.87 L613.19 260.83 L613.54 261.11 L613.89 261.60 L614.24 262.17 L614.58 262.74 L614.93 263.27 L615.28 263.74 L615.62 264.16 L615.97 264.50 L616.32 264.77 L616.67 264.96 L617.01 265.10 L617.36 265.20 L617.71 265.27 L618.06 265.32 L618.40 265.36 L618.75 265.40 L619.10 265.43 L619.44 265.44 L619.79 265.44 L620.14 265.42 L620.49 265.37 L620.83 265.31 L621.18 265.22 L621.53 265.10 L621.88 264.98 L622.22 264.83 L622.57 264.68 L622.92 264.50 L623.26 264.27 L623.61 263.95 L623.96 263.49 L624.31 262.83 L624.65 261.90 L625.00 260.63 L625.35 258.96 L625.69 256.83 L626.04 254.23 L626.39 251.26 L626.74 248.17 L627.08 245.45 L627.43 243.76 L627.78 243.64 L628.12 245.15 L628.47 247.77 L628.82 250.84 L629.17 253.83 L629.51 256.46 L629.86 258.63 L630.21 260.31 L630.56 261.58 L630.90 262.52 L631.25 263.21 L631.60 263.71 L631.94 264.08 L632.29 264.36 L632.64 264.57 L632.99 264.74 L633.33 264.86 L633.68 264.95 L634.03 265.00 L634.38 265.02 L634.72 265.04 L635.07 265.05 L635.42 265.07 L635.76 265.09 L636.11 265.10 L636.46 265.09 L636.81 265.07 L637.15 265.05 L637.50 265.04 L637.85 265.04 L638.19 265.08 L638.54 265.13 L638.89 265.21 L639.24 265.28 L639.58 265.33 L639.93 265.36 L640.28 265.35 L640.62 265.32 L640.97 265.29 L641.32 265.26 L641.67 265.22 L642.01 265.22 L642.36 265.23 L642.71 265.27 L643.06 265.34 L643.40 265.41 L643.75 265.48 L644.10 265.54 L644.44 265.56 L644.79 265.54 L645.14 265.47 L645.49 265.37 L645.83 265.27 L646.18 265.19 L646.53 265.14 L646.88 265.13 L647.22 265.14 L647.57 265.15 L647.92 265.15 L648.26 265.16 L648.61 265.16 L648.96 265.15 L649.31 265.17 L649.65 265.22 L650.00 265.28 L650.35 265.34 L650.69 265.37 L651.04 265.35 L651.39 265.28 L651.74 265.18 L652.08 265.03 L652.43 264.84 L652.78 264.58 L653.12 264.26 L653.47 263.86 L653.82 263.34 L654.17 262.71 L654.51 261.99 L654.86 261.24 L655.21 260.56 L655.56 260.07 L655.90 259.92 L656.25 260.14 L656.60 260.68 L656.94 261.40 L657.29 262.16 L657.64 262.87 L657.99 263.46 L658.33 263.89 L658.68 264.18 L659.03 264.37 L659.38 264.48 L659.72 264.57 L660.07 264.68 L660.42 264.84 L660.76 265.04 L661.11 265.26 L661.46 265.46 L661.81 265.62 L662.15 265.71 L662.50 265.73 L662.85 265.71 L663.19 265.67 L663.54 265.62 L663.89 265.58 L664.24 265.55 L664.58 265.55 L664.93 265.57 L665.28 265.60 L665.62 265.63 L665.97 265.66 L666.32 265.68 L666.67 265.69 L667.01 265.68 L667.36 265.65 L667.71 265.61 L668.06 265.57 L668.40 265.53 L668.75 265.50 L669.10 265.48 L669.44 265.47 L669.79 265.46 L670.14 265.45 L670.49 265.45 L670.83 265.45 L671.18 265.46 L671.53 265.44 L671.88 265.39 L672.22 265.33 L672.57 265.26 L672.92 265.21 L673.26 265.19 L673.61 265.21 L673.96 265.27 L674.31 265.35 L674.65 265.43 L675.00 265.50 L675.35 265.55 L675.69 265.56 L676.04 265.58 L676.39 265.60 L676.74 265.63 L677.08 265.66 L677.43 265.69 L677.78 265.69 L678.12 265.66 L678.47 265.59 L678.82 265.48 L679.17 265.38 L679.51 265.29 L679.86 265.24 L680.21 265.24 L680.56 265.30"/>
<path d="M77.78 334.40 L78.12 334.41 L78.47 334.42 L78.82 334.44 L79.17 334.45 L79.51 334.46 L79.86 334.47 L80.21 334.47 L80.56 334.45 L80.90 334.43 L81.25 334.40 L81.60 334.37 L81.94 334.34 L82.29 334.32 L82.64 334.27 L82.99 334.19 L83.33 334.09 L83.68 333.98 L84.03 333.87 L84.38 333.77 L84.72 333.70 L85.07 333.65 L85.42 333.60 L85.76 333.52 L86.11 333.37 L86.46 333.12 L86.81 332.68 L87.15 332.01 L87.50 331.03 L87.85 329.63 L88.19 327.67 L88.54 325.05 L88.89 321.68 L89.24 317.59 L89.58 312.96 L89.93 308.35 L90.28 304.77 L90.62 303.39 L90.97 304.81 L91.32 308.45 L91.67 313.16 L92.01 317.92 L92.36 322.17 L92.71 325.65 L93.06 328.33 L93.40 330.28 L93.75 331.65 L94.10 332.62 L94.44 333.31 L94.79 333.82 L95.14 334.20 L95.49 334.49 L95.83 334.73 L96.18 334.92 L96.53 335.07 L96.88 335.21 L97.22 335.32 L97.57 335.43 L97.92 335.53 L98.26 335.59 L98.61 335.61 L98.96 335.62 L99.31 335.62 L99.65 335.63 L100.00 335.67 L100.35 335.75 L100.69 335.85 L101.04 335.95 L101.39 336.06 L101.74 336.15 L102.08 336.22 L102.43 336.26 L102.78 336.26 L103.12 336.23 L103.47 336.20 L103.82 336.16 L104.17 336.15 L104.51 336.15 L104.86 336.21 L105.21 336.30 L105.56 336.40 L105.90 336.51 L106.25 336.60 L106.60 336.65 L106.94 336.67 L107.29 336.71 L107.64 336.77 L107.99 336.82 L108.33 336.87 L108.68 336.91 L109.03 336.92 L109.38 336.88 L109.72 336.81 L110.07 336.72 L110.42 336.63 L110.76 336.56 L111.11 336.54 L111.46 336.56 L111.81 336.59 L112.15 336.62 L112.50 336.65 L112.85 336.68 L113.19 336.70 L113.54 336.70 L113.89 336.66 L114.24 336.60 L114.58 336.53 L114.93 336.46 L115.28 336.42 L115.62 336.40 L115.97 336.43 L116.32 336.51 L116.67 336.60 L117.01 336.68 L117.36 336.74 L117.71 336.74 L118.06 336.69 L118.40 336.60 L118.75 336.49 L119.10 336.39 L119.44 336.30 L119.79 336.26 L120.14 336.28 L120.49 336.37 L120.83 336.51 L121.18 336.68 L121.53 336.84 L121.88 336.97 L122.22 337.05 L122.57 337.08 L122.92 337.06 L123.26 337.02 L123.61 336.98 L123.96 336.94 L124.31 336.92 L124.65 336.94 L125.00 336.99 L125.35 337.05 L125.69 337.13 L126.04 337.20 L126.39 337.24 L126.74 337.26 L127.08 337.26 L127.43 337.26 L127.78 337.26 L128.12 337.25 L128.47 337.25 L128.82 337.25 L129.17 337.25 L129.51 337.24 L129.86 337.21 L130.21 337.19 L130.56 337.17 L130.90 337.15 L131.25 337.15 L131.60 337.17 L131.94 337.20 L132.29 337.23 L132.64 337.26 L132.99 337.27 L133.33 337.27 L133.68 337.25 L134.03 337.20 L134.38 337.13 L134.72 337.06 L135.07 337.00 L135.42 336.95 L135.76 336.93 L136.11 336.88 L136.46 336.83 L136.81 336.76 L137.15 336.70 L137.50 336.64 L137.85 336.58 L138.19 336.51 L138.54 336.41 L138.89 336.29 L139.24 336.16 L139.58 336.01 L139.93 335.86 L140.28 335.68 L140.62 335.44 L140.97 335.11 L141.32 334.64 L141.67 333.97 L142.01 333.03 L142.36 331.73 L142.71 330.02 L143.06 327.86 L143.40 325.34 L143.75 322.68 L144.10 320.34 L144.44 318.99 L144.79 319.19 L145.14 320.89 L145.49 323.47 L145.83 326.27 L146.18 328.85 L146.53 330.98 L146.88 332.61 L147.22 333.80 L147.57 334.61 L147.92 335.16 L148.26 335.53 L148.61 335.79 L148.96 336.00 L149.31 336.18 L149.65 336.35 L150.00 336.50 L150.35 336.63 L150.69 336.74 L151.04 336.82 L151.39 336.87 L151.74 336.89 L152.08 336.91 L152.43 336.92 L152.78 336.92 L153.12 336.94 L153.47 336.96 L153.82 336.99 L154.17 337.03 L154.51 337.07 L154.86 337.10 L155.21 337.13 L155.56 337.15 L155.90 337.14 L156.25 337.09 L156.60 337.01 L156.94 336.94 L157.29 336.87 L157.64 336.84 L157.99 336.85 L158.33 336.91 L158.68 337.00 L159.03 337.10 L159.38 337.20 L159.72 337.27 L160.07 337.29 L160.42 337.29 L160.76 337.30 L161.11 337.30 L161.46 337.31 L161.81 337.31 L162.15 337.31 L162.50 337.30 L162.85 337.23 L163.19 337.12 L163.54 337.01 L163.89 336.92 L164.24 336.85 L164.58 336.84 L164.93 336.90 L165.28 337.01 L165.62 337.13 L165.97 337.25 L166.32 337.34 L166.67 337.36 L167.01 337.32 L167.36 337.21 L167.71 337.08 L168.06 336.93 L168.40 336.81 L168.75 336.72 L169.10 336.70 L169.44 336.70 L169.79 336.71 L170.14 336.72 L170.49 336.72 L170.83 336.69 L171.18 336.63 L171.53 336.53 L171.88 336.39 L172.22 336.21 L172.57 335.97 L172.92 335.64 L173.26 335.19 L173.61 334.55 L173.96 333.66 L174.31 332.46 L174.65 330.94 L175.00 329.14 L175.35 327.18 L175.69 325.39 L176.04 324.26 L176.39 324.24 L176.74 325.34 L177.08 327.17 L177.43 329.21 L177.78 331.10 L178.12 332.67 L178.47 333.87 L178.82 334.75 L179.17 335.35 L179.51 335.77 L179.86 336.07 L180.21 336.30 L180.56 336.47 L180.90 336.59 L181.25 336.69 L181.60 336.77 L181.94 336.83 L182.29 336.89 L182.64 336.97 L182.99 337.07 L183.33 337.17 L183.68 337.28 L184.03 337.36 L184.38 337.42 L184.72 337.42 L185.07 337.37 L185.42 337.29 L185.76 337.20 L186.11 337.12 L186.46 337.08 L186.81 337.08 L187.15 337.11 L187.50 337.15 L187.85 337.20 L188.19 337.24 L188.54 337.28 L188.89 337.30 L189.24 337.30 L189.58 337.29 L189.93 337.28 L190.28 337.26 L190.62 337.25 L190.97 337.24 L191.32 337.25 L191.67 337.31 L192.01 337.39 L192.36 337.48 L192.71 337.56 L193.06 337.62 L193.40 337.64 L193.75 337.62 L194.10 337.59 L194.44 337.56 L194.79 337.52 L195.14 337.49 L195.49 337.48 L195.83 337.46 L196.18 337.42 L196.53 337.36 L196.88 337.30 L197.22 337.25 L197.57 337.21 L197.92 337.19 L198.26 337.16 L198.61 337.13 L198.96 337.09 L199.31 337.04 L199.65 337.00 L200.00 336.98 L200.35 336.99 L200.69 337.04 L201.04 337.12 L201.39 337.20 L201.74 337.25 L202.08 337.27 L202.43 337.22 L202.78 337.10 L203.12 336.94 L203.47 336.76 L203.82 336.58 L204.17 336.42 L204.51 336.30 L204.86 336.25 L205.21 336.22 L205.56 336.20 L205.90 336.15 L206.25 336.03 L206.60 335.80 L206.94 335.42 L207.29 334.88 L207.64 334.14 L207.99 333.08 L208.33 331.58 L208.68 329.49 L209.03 326.67 L209.38 323.03 L209.72 318.58 L210.07 313.56 L210.42 308.57 L210.76 304.68 L211.11 303.18 L211.46 304.69 L211.81 308.59 L212.15 313.60 L212.50 318.63 L212.85 323.09 L213.19 326.75 L213.54 329.56 L213.89 331.59 L214.24 333.01 L214.58 333.96 L214.93 334.62 L215.28 335.09 L215.62 335.46 L215.97 335.77 L216.32 336.04 L216.67 336.29 L217.01 336.50 L217.36 336.67 L217.71 336.81 L218.06 336.90 L218.40 336.94 L218.75 336.96 L219.10 336.96 L219.44 336.96 L219.79 336.98 L220.14 337.02 L220.49 337.09 L220.83 337.16 L221.18 337.24 L221.53 337.32 L221.88 337.38 L222.22 337.42 L222.57 337.44 L222.92 337.46 L223.26 337.48 L223.61 337.50 L223.96 337.51 L224.31 337.53 L224.65 337.53 L225.00 337.51 L225.35 337.46 L225.69 337.40 L226.04 337.35 L226.39 337.31 L226.74 337.30 L227.08 337.32 L227.43 337.33 L227.78 337.35 L228.12 337.37 L228.47 337.39 L228.82 337.39 L229.17 337.40 L229.51 337.40 L229.86 337.41 L230.21 337.42 L230.56 337.43 L230.90 337.43 L231.25 337.43 L231.60 337.47 L231.94 337.55 L232.29 337.65 L232.64 337.74 L232.99 337.80 L233.33 337.81 L233.68 337.75 L234.03 337.62 L234.38 337.45 L234.72 337.27 L235.07 337.10 L235.42 336.99 L235.76 336.93 L236.11 336.93 L236.46 336.96 L236.81 336.98 L237.15 336.96 L237.50 336.87 L237.85 336.66 L238.19 336.35 L238.54 335.91 L238.89 335.26 L239.24 334.35 L239.58 333.10 L239.93 331.45 L240.28 329.41 L240.62 327.05 L240.97 324.66 L241.32 322.77 L241.67 321.97 L242.01 322.58 L242.36 324.34 L242.71 326.63 L243.06 328.96 L243.40 331.03 L243.75 332.74 L244.10 334.04 L244.44 334.99 L244.79 335.66 L245.14 336.17 L245.49 336.55 L245.83 336.84 L246.18 337.07 L246.53 337.22 L246.88 337.33 L247.22 337.41 L247.57 337.49 L247.92 337.56 L248.26 337.61 L248.61 337.66 L248.96 337.69 L249.31 337.66 L249.65 337.56 L250.00 337.43 L250.35 337.30 L250.69 337.20 L251.04 337.15 L251.39 337.16 L251.74 337.20 L252.08 337.25 L252.43 337.30 L252.78 337.35 L253.12 337.37 L253.47 337.37 L253.82 337.36 L254.17 337.35 L254.51 337.34 L254.86 337.33 L255.21 337.32 L255.56 337.29 L255.90 337.24 L256.25 337.15 L256.60 337.05 L256.94 336.94 L257.29 336.83 L257.64 336.75 L257.99 336.68 L258.33 336.61 L258.68 336.53 L259.03 336.44 L259.38 336.35 L259.72 336.25 L260.07 336.14 L260.42 336.05 L260.76 335.96 L261.11 335.86 L261.46 335.75 L261.81 335.61 L262.15 335.42 L262.50 335.19 L262.85 334.92 L263.19 334.61 L263.54 334.25 L263.89 333.83 L264.24 333.34 L264.58 332.75 L264.93 332.05 L265.28 331.19 L265.62 330.14 L265.97 328.82 L266.32 327.13 L266.67 324.91 L267.01 321.95 L267.36 317.83 L267.71 311.91 L268.06 303.18 L268.40 290.35 L268.75 272.02 L269.10 247.84 L269.44 221.87 L269.79 206.43 L270.14 213.37 L270.49 236.87 L270.83 262.58 L271.18 283.33 L271.53 298.25 L271.88 308.51 L272.22 315.49 L272.57 320.29 L272.92 323.69 L273.26 326.17 L273.61 328.06 L273.96 329.56 L274.31 330.79 L274.65 331.81 L275.00 332.64 L275.35 333.31 L275.69 333.83 L276.04 334.22 L276.39 334.51 L276.74 334.74 L277.08 334.92 L277.43 335.09 L277.78 335.26 L278.12 335.46 L278.47 335.67 L278.82 335.87 L279.17 336.06 L279.51 336.23 L279.86 336.36 L280.21 336.44 L280.56 336.48 L280.90 336.49 L281.25 336.49 L281.60 336.48 L281.94 336.49 L282.29 336.52 L282.64 336.55 L282.99 336.57 L283.33 336.58 L283.68 336.58 L284.03 336.59 L284.38 336.61 L284.72 336.65 L285.07 336.74 L285.42 336.86 L285.76 336.99 L286.11 337.10 L286.46 337.18 L286.81 337.20 L287.15 337.15 L287.50 337.05 L287.85 336.94 L288.19 336.83 L288.54 336.74 L288.89 336.71 L289.24 336.74 L289.58 336.78 L289.93 336.83 L290.28 336.89 L290.62 336.94 L290.97 336.97 L291.32 336.96 L291.67 336.92 L292.01 336.87 L292.36 336.82 L292.71 336.76 L293.06 336.73 L293.40 336.73 L293.75 336.74 L294.10 336.76 L294.44 336.77 L294.79 336.78 L295.14 336.80 L295.49 336.81 L295.83 336.83 L296.18 336.89 L296.53 336.96 L296.88 337.05 L297.22 337.12 L297.57 337.17 L297.92 337.19 L298.26 337.23 L298.61 337.30 L298.96 337.38 L299.31 337.46 L299.65 337.52 L300.00 337.55 L300.35 337.51 L300.69 337.41 L301.04 337.28 L301.39 337.14 L301.74 337.02 L302.08 336.95 L302.43 336.96 L302.78 336.99 L303.12 337.05 L303.47 337.11 L303.82 337.16 L304.17 337.20 L304.51 337.21 L304.86 337.24 L305.21 337.29 L305.56 337.36 L305.90 337.42 L306.25 337.47 L306.60 337.49 L306.94 337.48 L307.29 337.45 L307.64 337.42 L307.99 337.39 L308.33 337.35 L308.68 337.31 L309.03 337.27 L309.38 337.21 L309.72 337.14 L310.07 337.05 L310.42 336.95 L310.76 336.84 L311.11 336.72 L311.46 336.58 L311.81 336.39 L312.15 336.15 L312.50 335.84 L312.85 335.42 L313.19 334.85 L313.54 334.05 L313.89 332.93 L314.24 331.37 L314.58 329.27 L314.93 326.58 L315.28 323.35 L315.62 319.83 L315.97 316.53 L316.32 314.32 L316.67 314.00 L317.01 315.70 L317.36 318.73 L317.71 322.23 L318.06 325.62 L318.40 328.59 L318.75 331.02 L319.10 332.89 L319.44 334.27 L319.79 335.24 L320.14 335.86 L320.49 336.22 L320.83 336.41 L321.18 336.51 L321.53 336.55 L321.88 336.60 L322.22 336.69 L322.57 336.82 L322.92 336.97 L323.26 337.13 L323.61 337.27 L323.96 337.40 L324.31 337.50 L324.65 337.54 L325.00 337.55 L325.35 337.53 L325.69 337.49 L326.04 337.46 L326.39 337.45 L326.74 337.46 L327.08 337.49 L327.43 337.50 L327.78 337.52 L328.12 337.53 L328.47 337.55 L328.82 337.56 L329.17 337.60 L329.51 337.69 L329.86 337.80 L330.21 337.93 L330.56 338.04 L330.90 338.12 L331.25 338.14 L331.60 338.13 L331.94 338.11 L332.29 338.08 L332.64 338.05 L332.99 338.03 L333.33 338.02 L333.68 338.04 L334.03 338.07 L334.38 338.10 L334.72 338.14 L335.07 338.17 L335.42 338.19 L335.76 338.20 L336.11 338.20 L336.46 338.21 L336.81 338.21 L337.15 338.21 L337.50 338.21 L337.85 338.21 L338.19 338.21 L338.54 338.22 L338.89 338.24 L339.24 338.25 L339.58 338.26 L339.93 338.24 L340.28 338.21 L340.62 338.16 L340.97 338.09 L341.32 338.01 L341.67 337.92 L342.01 337.83 L342.36 337.72 L342.71 337.57 L343.06 337.36 L343.40 337.06 L343.75 336.64 L344.10 336.07 L344.44 335.28 L344.79 334.20 L345.14 332.79 L345.49 331.08 L345.83 329.18 L346.18 327.38 L346.53 326.09 L346.88 325.78 L347.22 326.59 L347.57 328.22 L347.92 330.16 L348.26 332.05 L348.61 333.67 L348.96 334.95 L349.31 335.87 L349.65 336.49 L350.00 336.89 L350.35 337.15 L350.69 337.32 L351.04 337.46 L351.39 337.62 L351.74 337.79 L352.08 337.97 L352.43 338.14 L352.78 338.29 L353.12 338.40 L353.47 338.46 L353.82 338.50 L354.17 338.55 L354.51 338.60 L354.86 338.64 L355.21 338.68 L355.56 338.71 L355.90 338.68 L356.25 338.60 L356.60 338.48 L356.94 338.35 L357.29 338.24 L357.64 338.18 L357.99 338.20 L358.33 338.28 L358.68 338.39 L359.03 338.52 L359.38 338.64 L359.72 338.73 L360.07 338.76 L360.42 338.74 L360.76 338.71 L361.11 338.67 L361.46 338.63 L361.81 338.60 L362.15 338.58 L362.50 338.56 L362.85 338.49 L363.19 338.40 L363.54 338.29 L363.89 338.20 L364.24 338.13 L364.58 338.11 L364.93 338.13 L365.28 338.17 L365.62 338.23 L365.97 338.27 L366.32 338.30 L366.67 338.29 L367.01 338.27 L367.36 338.28 L367.71 338.30 L368.06 338.32 L368.40 338.32 L368.75 338.29 L369.10 338.21 L369.44 338.05 L369.79 337.85 L370.14 337.62 L370.49 337.39 L370.83 337.17 L371.18 336.99 L371.53 336.82 L371.88 336.63 L372.22 336.41 L372.57 336.13 L372.92 335.78 L373.26 335.31 L373.61 334.69 L373.96 333.85 L374.31 332.69 L374.65 331.07 L375.00 328.81 L375.35 325.73 L375.69 321.67 L376.04 316.50 L376.39 310.28 L376.74 303.31 L377.08 296.24 L377.43 290.27 L377.78 286.93 L378.12 287.35 L378.47 291.39 L378.82 297.75 L379.17 304.92 L379.51 311.81 L379.86 317.84 L380.21 322.77 L380.56 326.59 L380.90 329.43 L381.25 331.48 L381.60 332.94 L381.94 333.99 L382.29 334.78 L382.64 335.42 L382.99 335.95 L383.33 336.42 L383.68 336.81 L384.03 337.14 L384.38 337.40 L384.72 337.58 L385.07 337.73 L385.42 337.85 L385.76 337.96 L386.11 338.05 L386.46 338.13 L386.81 338.22 L387.15 338.31 L387.50 338.39 L387.85 338.46 L388.19 338.53 L388.54 338.59 L388.89 338.65 L389.24 338.70 L389.58 338.77 L389.93 338.84 L390.28 338.91 L390.62 338.97 L390.97 339.02 L391.32 339.05 L391.67 339.08 L392.01 339.10 L392.36 339.12 L392.71 339.14 L393.06 339.16 L393.40 339.17 L393.75 339.15 L394.10 339.09 L394.44 339.00 L394.79 338.91 L395.14 338.85 L395.49 338.82 L395.83 338.84 L396.18 338.88 L396.53 338.92 L396.88 338.97 L397.22 339.01 L397.57 339.04 L397.92 339.06 L398.26 339.11 L398.61 339.18 L398.96 339.27 L399.31 339.35 L399.65 339.42 L400.00 339.45 L400.35 339.43 L400.69 339.37 L401.04 339.29 L401.39 339.20 L401.74 339.13 L402.08 339.09 L402.43 339.10 L402.78 339.15 L403.12 339.22 L403.47 339.29 L403.82 339.36 L404.17 339.41 L404.51 339.43 L404.86 339.42 L405.21 339.39 L405.56 339.36 L405.90 339.32 L406.25 339.30 L406.60 339.28 L406.94 339.28 L407.29 339.26 L407.64 339.22 L407.99 339.18 L408.33 339.15 L408.68 339.13 L409.03 339.13 L409.38 339.18 L409.72 339.26 L410.07 339.35 L410.42 339.44 L410.76 339.51 L411.11 339.54 L411.46 339.53 L411.81 339.50 L412.15 339.47 L412.50 339.43 L412.85 339.39 L413.19 339.38 L413.54 339.37 L413.89 339.35 L414.24 339.32 L414.58 339.28 L414.93 339.24 L415.28 339.21 L415.62 339.21 L415.97 339.22 L416.32 339.24 L416.67 339.27 L417.01 339.30 L417.36 339.33 L417.71 339.34 L418.06 339.33 L418.40 339.31 L418.75 339.28 L419.10 339.25 L419.44 339.22 L419.79 339.20 L420.14 339.19 L420.49 339.19 L420.83 339.20 L421.18 339.21 L421.53 339.22 L421.88 339.22 L422.22 339.21 L422.57 339.23 L422.92 339.28 L423.26 339.36 L423.61 339.44 L423.96 339.51 L424.31 339.53 L424.65 339.50 L425.00 339.45 L425.35 339.41 L425.69 339.35 L426.04 339.29 L426.39 339.21 L426.74 339.13 L427.08 338.98 L427.43 338.76 L427.78 338.49 L428.12 338.18 L428.47 337.85 L428.82 337.49 L429.17 337.07 L429.51 336.51 L429.86 335.70 L430.21 334.52 L430.56 332.85 L430.90 330.58 L431.25 327.68 L431.60 324.28 L431.94 320.72 L432.29 317.59 L432.64 315.80 L432.99 316.04 L433.33 318.22 L433.68 321.53 L434.03 325.12 L434.38 328.43 L434.72 331.22 L435.07 333.41 L435.42 335.05 L435.76 336.23 L436.11 337.07 L436.46 337.68 L436.81 338.12 L437.15 338.44 L437.50 338.69 L437.85 338.88 L438.19 339.02 L438.54 339.14 L438.89 339.24 L439.24 339.32 L439.58 339.39 L439.93 339.46 L440.28 339.51 L440.62 339.56 L440.97 339.60 L441.32 339.63 L441.67 339.66 L442.01 339.69 L442.36 339.71 L442.71 339.70 L443.06 339.66 L443.40 339.61 L443.75 339.55 L444.10 339.52 L444.44 339.51 L444.79 339.52 L445.14 339.51 L445.49 339.49 L445.83 339.47 L446.18 339.46 L446.53 339.46 L446.88 339.47 L447.22 339.48 L447.57 339.50 L447.92 339.52 L448.26 339.53 L448.61 339.55 L448.96 339.55 L449.31 339.55 L449.65 339.53 L450.00 339.51 L450.35 339.48 L450.69 339.46 L451.04 339.46 L451.39 339.46 L451.74 339.47 L452.08 339.48 L452.43 339.48 L452.78 339.49 L453.12 339.50 L453.47 339.50 L453.82 339.57 L454.17 339.69 L454.51 339.84 L454.86 339.98 L455.21 340.08 L455.56 340.12 L455.90 340.08 L456.25 339.99 L456.60 339.88 L456.94 339.75 L457.29 339.65 L457.64 339.59 L457.99 339.59 L458.33 339.64 L458.68 339.72 L459.03 339.82 L459.38 339.90 L459.72 339.96 L460.07 339.97 L460.42 339.96 L460.76 339.96 L461.11 339.95 L461.46 339.95 L461.81 339.93 L462.15 339.91 L462.50 339.86 L462.85 339.73 L463.19 339.56 L463.54 339.36 L463.89 339.18 L464.24 339.03 L464.58 338.92 L464.93 338.80 L465.28 338.65 L465.62 338.44 L465.97 338.15 L466.32 337.76 L466.67 337.24 L467.01 336.58 L467.36 335.76 L467.71 334.79 L468.06 333.69 L468.40 332.53 L468.75 331.45 L469.10 330.66 L469.44 330.34 L469.79 330.61 L470.14 331.37 L470.49 332.42 L470.83 333.57 L471.18 334.69 L471.53 335.74 L471.88 336.68 L472.22 337.49 L472.57 338.15 L472.92 338.65 L473.26 338.99 L473.61 339.18 L473.96 339.27 L474.31 339.29 L474.65 339.28 L475.00 339.25 L475.35 339.24 L475.69 339.27 L476.04 339.32 L476.39 339.36 L476.74 339.40 L477.08 339.44 L477.43 339.46 L477.78 339.47 L478.12 339.46 L478.47 339.44 L478.82 339.41 L479.17 339.38 L479.51 339.33 L479.86 339.28 L480.21 339.22 L480.56 339.12 L480.90 338.99 L481.25 338.83 L481.60 338.67 L481.94 338.50 L482.29 338.34 L482.64 338.16 L482.99 337.94 L483.33 337.63 L483.68 337.19 L484.03 336.55 L484.38 335.62 L484.72 334.33 L485.07 332.64 L485.42 330.48 L485.76 327.86 L486.11 324.93 L486.46 322.09 L486.81 319.99 L487.15 319.40 L487.50 320.58 L487.85 323.03 L488.19 325.99 L488.54 328.89 L488.89 331.44 L489.24 333.49 L489.58 335.03 L489.93 336.14 L490.28 336.90 L490.62 337.42 L490.97 337.79 L491.32 338.06 L491.67 338.28 L492.01 338.47 L492.36 338.62 L492.71 338.75 L493.06 338.85 L493.40 338.93 L493.75 339.01 L494.10 339.12 L494.44 339.23 L494.79 339.34 L495.14 339.43 L495.49 339.48 L495.83 339.49 L496.18 339.45 L496.53 339.39 L496.88 339.32 L497.22 339.26 L497.57 339.22 L497.92 339.23 L498.26 339.27 L498.61 339.33 L498.96 339.41 L499.31 339.49 L499.65 339.54 L500.00 339.56 L500.35 339.54 L500.69 339.50 L501.04 339.45 L501.39 339.39 L501.74 339.35 L502.08 339.32 L502.43 339.30 L502.78 339.26 L503.12 339.19 L503.47 339.12 L503.82 339.06 L504.17 339.01 L504.51 339.00 L504.86 339.02 L505.21 339.03 L505.56 339.05 L505.90 339.06 L506.25 339.08 L506.60 339.09 L506.94 339.10 L507.29 339.14 L507.64 339.19 L507.99 339.25 L508.33 339.30 L508.68 339.33 L509.03 339.34 L509.38 339.31 L509.72 339.25 L510.07 339.18 L510.42 339.11 L510.76 339.06 L511.11 339.04 L511.46 339.06 L511.81 339.12 L512.15 339.20 L512.50 339.29 L512.85 339.35 L513.19 339.39 L513.54 339.37 L513.89 339.31 L514.24 339.21 L514.58 339.10 L514.93 338.99 L515.28 338.90 L515.62 338.83 L515.97 338.81 L516.32 338.81 L516.67 338.80 L517.01 338.75 L517.36 338.60 L517.71 338.33 L518.06 337.91 L518.40 337.34 L518.75 336.66 L519.10 335.92 L519.44 335.21 L519.79 334.65 L520.14 334.37 L520.49 334.40 L520.83 334.71 L521.18 335.22 L521.53 335.82 L521.88 336.42 L522.22 336.97 L522.57 337.46 L522.92 337.87 L523.26 338.22 L523.61 338.49 L523.96 338.70 L524.31 338.84 L524.65 338.93 L525.00 339.00 L525.35 339.06 L525.69 339.11 L526.04 339.14 L526.39 339.17 L526.74 339.19 L527.08 339.19 L527.43 339.18 L527.78 339.16 L528.12 339.13 L528.47 339.10 L528.82 339.07 L529.17 339.06 L529.51 339.05 L529.86 339.05 L530.21 339.04 L530.56 339.01 L530.90 338.96 L531.25 338.88 L531.60 338.77 L531.94 338.62 L532.29 338.43 L532.64 338.17 L532.99 337.81 L533.33 337.30 L533.68 336.58 L534.03 335.59 L534.38 334.29 L534.72 332.67 L535.07 330.76 L535.42 328.68 L535.76 326.66 L536.11 325.05 L536.46 324.30 L536.81 324.68 L537.15 326.05 L537.50 328.00 L537.85 330.09 L538.19 332.07 L538.54 333.79 L538.89 335.20 L539.24 336.30 L539.58 337.13 L539.93 337.73 L540.28 338.15 L540.62 338.48 L540.97 338.73 L541.32 338.93 L541.67 339.09 L542.01 339.22 L542.36 339.30 L542.71 339.31 L543.06 339.28 L543.40 339.22 L543.75 339.16 L544.10 339.11 L544.44 339.11 L544.79 339.15 L545.14 339.21 L545.49 339.28 L545.83 339.35 L546.18 339.40 L546.53 339.43 L546.88 339.43 L547.22 339.46 L547.57 339.50 L547.92 339.53 L548.26 339.54 L548.61 339.51 L548.96 339.41 L549.31 339.22 L549.65 338.93 L550.00 338.55 L550.35 338.10 L550.69 337.60 L551.04 337.08 L551.39 336.58 L551.74 336.14 L552.08 335.82 L552.43 335.71 L552.78 335.84 L553.12 336.18 L553.47 336.64 L553.82 337.13 L554.17 337.61 L554.51 338.03 L554.86 338.38 L555.21 338.66 L555.56 338.86 L555.90 339.00 L556.25 339.08 L556.60 339.11 L556.94 339.10 L557.29 339.04 L557.64 338.94 L557.99 338.80 L558.33 338.64 L558.68 338.46 L559.03 338.25 L559.38 338.04 L559.72 337.85 L560.07 337.71 L560.42 337.60 L560.76 337.56 L561.11 337.58 L561.46 337.66 L561.81 337.77 L562.15 337.92 L562.50 338.07 L562.85 338.19 L563.19 338.27 L563.54 338.28 L563.89 338.22 L564.24 338.07 L564.58 337.79 L564.93 337.38 L565.28 336.79 L565.62 335.98 L565.97 334.92 L566.32 333.61 L566.67 332.09 L567.01 330.52 L567.36 329.16 L567.71 328.33 L568.06 328.33 L568.40 329.16 L568.75 330.55 L569.10 332.15 L569.44 333.72 L569.79 335.12 L570.14 336.28 L570.49 337.20 L570.83 337.89 L571.18 338.41 L571.53 338.78 L571.88 339.04 L572.22 339.24 L572.57 339.38 L572.92 339.49 L573.26 339.57 L573.61 339.61 L573.96 339.60 L574.31 339.55 L574.65 339.49 L575.00 339.42 L575.35 339.38 L575.69 339.37 L576.04 339.36 L576.39 339.33 L576.74 339.28 L577.08 339.22 L577.43 339.15 L577.78 339.08 L578.12 339.01 L578.47 338.95 L578.82 338.87 L579.17 338.74 L579.51 338.54 L579.86 338.22 L580.21 337.72 L580.56 337.02 L580.90 336.06 L581.25 334.82 L581.60 333.27 L581.94 331.44 L582.29 329.45 L582.64 327.47 L582.99 325.86 L583.33 325.06 L583.68 325.34 L584.03 326.59 L584.38 328.42 L584.72 330.42 L585.07 332.31 L585.42 333.94 L585.76 335.27 L586.11 336.30 L586.46 337.08 L586.81 337.64 L587.15 338.06 L587.50 338.39 L587.85 338.66 L588.19 338.86 L588.54 339.02 L588.89 339.13 L589.24 339.19 L589.58 339.22 L589.93 339.23 L590.28 339.23 L590.62 339.23 L590.97 339.24 L591.32 339.27 L591.67 339.33 L592.01 339.40 L592.36 339.48 L592.71 339.54 L593.06 339.59 L593.40 339.61 L593.75 339.61 L594.10 339.60 L594.44 339.58 L594.79 339.55 L595.14 339.54 L595.49 339.53 L595.83 339.53 L596.18 339.55 L596.53 339.58 L596.88 339.61 L597.22 339.64 L597.57 339.65 L597.92 339.65 L598.26 339.67 L598.61 339.71 L598.96 339.76 L599.31 339.82 L599.65 339.86 L600.00 339.88 L600.35 339.84 L600.69 339.74 L601.04 339.59 L601.39 339.44 L601.74 339.31 L602.08 339.24 L602.43 339.24 L602.78 339.24 L603.12 339.24 L603.47 339.24 L603.82 339.24 L604.17 339.24 L604.51 339.24 L604.86 339.28 L605.21 339.36 L605.56 339.47 L605.90 339.57 L606.25 339.64 L606.60 339.67 L606.94 339.66 L607.29 339.66 L607.64 339.67 L607.99 339.67 L608.33 339.65 L608.68 339.59 L609.03 339.49 L609.38 339.35 L609.72 339.15 L610.07 338.88 L610.42 338.52 L610.76 338.07 L611.11 337.51 L611.46 336.83 L611.81 336.04 L612.15 335.23 L612.50 334.51 L612.85 334.05 L613.19 333.97 L613.54 334.28 L613.89 334.84 L614.24 335.52 L614.58 336.20 L614.93 336.83 L615.28 337.38 L615.62 337.85 L615.97 338.22 L616.32 338.51 L616.67 338.73 L617.01 338.89 L617.36 339.00 L617.71 339.07 L618.06 339.13 L618.40 339.18 L618.75 339.23 L619.10 339.28 L619.44 339.31 L619.79 339.31 L620.14 339.29 L620.49 339.25 L620.83 339.18 L621.18 339.08 L621.53 338.96 L621.88 338.83 L622.22 338.69 L622.57 338.51 L622.92 338.27 L623.26 337.97 L623.61 337.57 L623.96 337.05 L624.31 336.34 L624.65 335.39 L625.00 334.11 L625.35 332.43 L625.69 330.28 L626.04 327.66 L626.39 324.64 L626.74 321.49 L627.08 318.70 L627.43 316.97 L627.78 316.85 L628.12 318.39 L628.47 321.08 L628.82 324.23 L629.17 327.31 L629.51 330.05 L629.86 332.34 L630.21 334.15 L630.56 335.51 L630.90 336.52 L631.25 337.23 L631.60 337.69 L631.94 337.96 L632.29 338.12 L632.64 338.22 L632.99 338.30 L633.33 338.40 L633.68 338.50 L634.03 338.57 L634.38 338.64 L634.72 338.69 L635.07 338.73 L635.42 338.77 L635.76 338.81 L636.11 338.89 L636.46 338.99 L636.81 339.09 L637.15 339.18 L637.50 339.25 L637.85 339.28 L638.19 339.29 L638.54 339.30 L638.89 339.31 L639.24 339.32 L639.58 339.33 L639.93 339.33 L640.28 339.34 L640.62 339.37 L640.97 339.42 L641.32 339.46 L641.67 339.50 L642.01 339.54 L642.36 339.54 L642.71 339.48 L643.06 339.37 L643.40 339.23 L643.75 339.10 L644.10 339.00 L644.44 338.96 L644.79 339.00 L645.14 339.11 L645.49 339.25 L645.83 339.40 L646.18 339.52 L646.53 339.59 L646.88 339.59 L647.22 339.55 L647.57 339.49 L647.92 339.42 L648.26 339.36 L648.61 339.31 L648.96 339.28 L649.31 339.28 L649.65 339.30 L650.00 339.32 L650.35 339.33 L650.69 339.32 L651.04 339.29 L651.39 339.18 L651.74 339.00 L652.08 338.74 L652.43 338.41 L652.78 338.04 L653.12 337.61 L653.47 337.16 L653.82 336.65 L654.17 336.07 L654.51 335.42 L654.86 334.73 L655.21 334.08 L655.56 333.58 L655.90 333.37 L656.25 333.55 L656.60 334.06 L656.94 334.76 L657.29 335.53 L657.64 336.27 L657.99 336.94 L658.33 337.50 L658.68 337.96 L659.03 338.32 L659.38 338.60 L659.72 338.80 L660.07 338.94 L660.42 339.02 L660.76 339.03 L661.11 339.01 L661.46 338.98 L661.81 338.96 L662.15 338.96 L662.50 339.00 L662.85 339.06 L663.19 339.15 L663.54 339.23 L663.89 339.30 L664.24 339.35 L664.58 339.36 L664.93 339.34 L665.28 339.31 L665.62 339.26 L665.97 339.22 L666.32 339.18 L666.67 339.15 L667.01 339.15 L667.36 339.17 L667.71 339.20 L668.06 339.23 L668.40 339.24 L668.75 339.22 L669.10 339.17 L669.44 339.08 L669.79 338.98 L670.14 338.89 L670.49 338.83 L670.83 338.80 L671.18 338.83 L671.53 338.86 L671.88 338.88 L672.22 338.88 L672.57 338.88 L672.92 338.88 L673.26 338.89 L673.61 338.93 L673.96 339.03 L674.31 339.15 L674.65 339.27 L675.00 339.38 L675.35 339.45 L675.69 339.47 L676.04 339.44 L676.39 339.41 L676.74 339.36 L677.08 339.32 L677.43 339.29 L677.78 339.27 L678.12 339.27 L678.47 339.28 L678.82 339.29 L679.17 339.30 L679.51 339.30 L679.86 339.31 L680.21 339.29 L680.56 339.24"/>
</g>
<g fill="none" stroke="#222" stroke-width="1.15" stroke-linejoin="round" stroke-linecap="round">
<path d="M555.50 62.25 L556.06 62.29 L556.74 62.33 L557.51 62.38 L558.37 62.44 L559.30 62.50 L560.30 62.56 L561.36 62.63 L562.47 62.71 L563.60 62.78 L564.77 62.86 L565.95 62.95 L567.13 63.03 L568.31 63.12 L569.47 63.21 L570.60 63.31 L571.70 63.40 L572.75 63.50 L573.79 63.60 L574.86 63.70 L575.95 63.81 L577.06 63.91 L578.18 64.02 L579.31 64.14 L580.44 64.25 L581.56 64.37 L582.66 64.49 L583.74 64.62 L584.80 64.75 L585.83 64.88 L586.82 65.02 L587.76 65.16 L588.65 65.30 L589.48 65.45 L590.25 65.60 L591.67 65.92 L592.83 66.24 L593.79 66.57 L594.62 66.92 L595.38 67.30 L596.11 67.72 L596.88 68.20 L597.75 68.75 L598.59 69.33 L599.45 69.99 L600.32 70.72 L601.18 71.49 L602.04 72.27 L602.89 73.04 L603.71 73.76 L604.50 74.43 L605.25 75.00 L606.30 75.77 L607.27 76.50 L608.19 77.13 L609.09 77.64 L609.98 77.98 L610.90 78.10 L611.84 77.99 L612.77 77.69 L613.70 77.21 L614.64 76.59 L615.57 75.84 L616.50 75.00 L617.12 74.33 L617.72 73.54 L618.32 72.65 L618.92 71.71 L619.52 70.75 L620.14 69.81 L620.77 68.93 L621.42 68.15 L622.10 67.50 L622.88 66.84 L623.52 66.32 L624.15 65.90 L624.88 65.56 L625.85 65.27 L627.18 65.01 L629.00 64.75 L629.71 64.67 L630.49 64.58 L631.34 64.50 L632.24 64.43 L633.20 64.35 L634.21 64.28 L635.26 64.22 L636.35 64.15 L637.46 64.09 L638.60 64.04 L639.74 63.98 L640.90 63.94 L642.06 63.89 L643.21 63.86 L644.36 63.82 L645.48 63.80 L646.58 63.77 L647.65 63.76 L648.69 63.75 L649.68 63.74 L650.62 63.74 L651.50 63.75 L652.72 63.78 L653.87 63.82 L654.97 63.88 L656.02 63.95 L657.04 64.04 L658.02 64.13 L658.97 64.24 L659.90 64.36 L660.82 64.48 L661.74 64.60 L662.66 64.73 L663.59 64.86 L664.53 64.99 L665.50 65.12 L666.50 65.25 L667.54 65.38 L668.64 65.52 L669.76 65.68 L670.92 65.83 L672.08 66.00 L673.25 66.17 L674.41 66.33 L675.55 66.50 L676.65 66.67 L677.72 66.83 L678.73 66.98 L679.67 67.13 L680.54 67.27 L681.32 67.39 L682.00 67.50 L684.06 67.81 L684.77 67.96 L685.30 68.30 L685.98 69.23 L686.49 70.36 L687.00 70.80 L687.26 70.27 L687.42 69.24 L687.81 68.08 L688.80 67.20 L689.42 66.94 L690.04 66.71 L690.71 66.51 L691.48 66.34 L692.39 66.20 L693.48 66.09 L694.79 66.00 L696.37 65.94 L698.25 65.90 L698.97 65.90 L699.75 65.90 L700.58 65.90 L701.47 65.92 L702.41 65.93 L703.39 65.96 L704.41 65.98 L705.46 66.01 L706.54 66.04 L707.65 66.08 L708.78 66.12 L709.92 66.16 L711.07 66.20 L712.23 66.25 L713.39 66.29 L714.55 66.34 L715.70 66.39 L716.84 66.43 L717.96 66.48 L719.06 66.53 L720.13 66.57 L721.17 66.61 L722.18 66.66 L723.14 66.70 L724.06 66.73 L724.93 66.77 L725.75 66.80 L727.13 66.85 L728.43 66.90 L729.67 66.94 L730.84 66.98 L731.95 67.01 L733.01 67.05 L734.02 67.09 L734.97 67.13 L735.89 67.16 L736.77 67.21 L737.61 67.25 L738.43 67.31 L739.22 67.36 L739.99 67.43 L740.75 67.50 L742.20 67.69 L743.40 67.91 L744.42 68.16 L745.34 68.42 L746.23 68.67 L747.18 68.90 L748.25 69.10 L749.31 69.24 L750.44 69.35 L751.60 69.44 L752.78 69.53 L753.94 69.61 L755.05 69.71 L756.08 69.84 L757.00 70.00 L758.24 70.32 L759.27 70.70 L760.18 71.12 L761.06 71.56 L762.00 72.00 L763.00 72.41 L764.00 72.81 L765.00 73.23 L766.00 73.75 L767.00 74.40 L767.72 74.98 L768.45 75.66 L769.18 76.40 L769.91 77.17 L770.63 77.94 L771.33 78.70 L772.00 79.40 L772.77 80.14 L773.54 80.83 L774.28 81.50 L774.99 82.18 L775.65 82.92 L776.25 83.75 L776.77 84.38 L777.21 84.72 L777.61 85.12 L777.98 85.90 L778.35 87.42 L778.75 90.00 L778.83 90.63 L778.91 91.31 L778.98 92.03 L779.06 92.79 L779.14 93.59 L779.22 94.43 L779.30 95.31 L779.38 96.22 L779.45 97.16 L779.53 98.13 L779.61 99.13 L779.69 100.16 L779.77 101.20 L779.84 102.27 L779.92 103.35 L780.00 104.45 L780.08 105.57 L780.16 106.70 L780.23 107.83 L780.31 108.98 L780.39 110.13 L780.47 111.28 L780.55 112.43 L780.62 113.58 L780.70 114.73 L780.78 115.88 L780.86 117.01 L780.94 118.14 L781.02 119.25 L781.09 120.35 L781.17 121.44 L781.25 122.50 L781.32 123.49 L781.39 124.54 L781.46 125.65 L781.54 126.79 L781.61 127.98 L781.68 129.21 L781.75 130.46 L781.82 131.74 L781.89 133.04 L781.96 134.36 L782.04 135.69 L782.11 137.02 L782.18 138.35 L782.25 139.68 L782.32 141.00 L782.39 142.30 L782.46 143.59 L782.54 144.84 L782.61 146.07 L782.68 147.27 L782.75 148.42 L782.82 149.53 L782.89 150.59 L782.96 151.59 L783.04 152.53 L783.11 153.41 L783.18 154.21 L783.25 154.94 L783.32 155.59 L783.39 156.15 L783.46 156.62 L783.54 157.00 L783.61 157.27 L783.68 157.44 L783.75 157.50 L783.82 157.44 L783.89 157.28 L783.96 157.02 L784.04 156.65 L784.11 156.20 L784.18 155.65 L784.25 155.02 L784.32 154.31 L784.39 153.53 L784.46 152.67 L784.54 151.76 L784.61 150.78 L784.68 149.74 L784.75 148.66 L784.82 147.53 L784.89 146.36 L784.96 145.15 L785.04 143.91 L785.11 142.64 L785.18 141.35 L785.25 140.04 L785.32 138.72 L785.39 137.39 L785.46 136.06 L785.54 134.72 L785.61 133.40 L785.68 132.08 L785.75 130.78 L785.82 129.50 L785.89 128.24 L785.96 127.02 L786.04 125.82 L786.11 124.67 L786.18 123.56 L786.25 122.50 L786.32 121.51 L786.38 120.50 L786.45 119.46 L786.51 118.41 L786.58 117.34 L786.64 116.26 L786.70 115.16 L786.77 114.05 L786.83 112.94 L786.89 111.81 L786.95 110.68 L787.02 109.55 L787.08 108.41 L787.14 107.27 L787.20 106.13 L787.26 105.00 L787.33 103.87 L787.39 102.75 L787.45 101.63 L787.52 100.53 L787.58 99.43 L787.65 98.35 L787.71 97.29 L787.78 96.24 L787.85 95.22 L787.92 94.21 L787.98 93.22 L788.05 92.26 L788.13 91.33 L788.20 90.42 L788.27 89.54 L788.35 88.70 L788.43 87.88 L788.50 87.11 L788.58 86.37 L788.67 85.66 L788.75 85.00 L789.07 82.85 L789.40 81.13 L789.74 79.76 L790.10 78.68 L790.47 77.84 L790.85 77.18 L791.24 76.62 L791.65 76.11 L792.07 75.59 L792.50 75.00 L793.41 73.86 L794.39 73.01 L795.40 72.43 L796.45 72.10 L797.50 72.00 L798.41 72.07 L799.38 72.30 L800.36 72.69 L801.31 73.26 L802.21 74.03 L803.00 75.00 L803.42 75.65 L803.81 76.31 L804.16 77.01 L804.50 77.78 L804.81 78.62 L805.11 79.58 L805.40 80.68 L805.68 81.93 L805.97 83.36 L806.25 85.00 L806.36 85.71 L806.47 86.46 L806.58 87.22 L806.69 88.02 L806.79 88.84 L806.89 89.69 L806.99 90.56 L807.09 91.46 L807.19 92.38 L807.29 93.32 L807.38 94.29 L807.48 95.28 L807.57 96.29 L807.67 97.32 L807.76 98.38 L807.86 99.46 L807.95 100.55 L808.05 101.67 L808.14 102.81 L808.24 103.96 L808.34 105.13 L808.44 106.32 L808.54 107.53 L808.64 108.76 L808.75 110.00 L808.82 110.86 L808.90 111.75 L808.97 112.67 L809.04 113.61 L809.12 114.58 L809.19 115.58 L809.27 116.59 L809.35 117.62 L809.42 118.67 L809.50 119.73 L809.58 120.81 L809.65 121.90 L809.73 123.00 L809.81 124.11 L809.89 125.22 L809.97 126.34 L810.04 127.46 L810.12 128.58 L810.20 129.70 L810.28 130.81 L810.36 131.92 L810.44 133.03 L810.52 134.12 L810.60 135.21 L810.67 136.28 L810.75 137.34 L810.83 138.38 L810.91 139.40 L810.99 140.40 L811.07 141.39 L811.14 142.35 L811.22 143.28 L811.30 144.18 L811.37 145.06 L811.45 145.91 L811.52 146.72 L811.60 147.50 L811.75 149.06 L811.91 150.62 L812.06 152.15 L812.21 153.66 L812.37 155.12 L812.52 156.54 L812.67 157.91 L812.82 159.20 L812.97 160.42 L813.12 161.55 L813.27 162.58 L813.42 163.51 L813.57 164.32 L813.72 165.01 L813.86 165.56 L814.01 165.96 L814.16 166.21 L814.30 166.30 L814.45 166.21 L814.59 165.96 L814.74 165.56 L814.89 165.01 L815.05 164.32 L815.20 163.51 L815.35 162.58 L815.50 161.55 L815.64 160.42 L815.79 159.20 L815.93 157.91 L816.07 156.54 L816.21 155.12 L816.34 153.66 L816.46 152.15 L816.58 150.62 L816.69 149.06 L816.80 147.50 L816.85 146.72 L816.89 145.90 L816.94 145.05 L816.97 144.17 L817.01 143.26 L817.05 142.32 L817.08 141.35 L817.11 140.36 L817.14 139.35 L817.16 138.31 L817.19 137.26 L817.21 136.19 L817.24 135.11 L817.26 134.01 L817.28 132.90 L817.30 131.79 L817.32 130.67 L817.34 129.54 L817.36 128.42 L817.39 127.29 L817.41 126.16 L817.43 125.04 L817.45 123.92 L817.48 122.82 L817.51 121.72 L817.53 120.63 L817.56 119.55 L817.59 118.50 L817.63 117.45 L817.66 116.43 L817.70 115.43 L817.74 114.46 L817.79 113.51 L817.84 112.58 L817.89 111.69 L817.94 110.83 L818.00 110.00 L818.10 108.65 L818.21 107.33 L818.32 106.04 L818.43 104.77 L818.55 103.54 L818.67 102.34 L818.80 101.16 L818.93 100.02 L819.06 98.91 L819.20 97.83 L819.34 96.78 L819.49 95.77 L819.64 94.78 L819.80 93.84 L819.96 92.92 L820.13 92.04 L820.30 91.19 L820.48 90.38 L820.66 89.61 L820.85 88.87 L821.05 88.17 L821.25 87.50 L821.85 85.87 L822.52 84.53 L823.23 83.46 L823.98 82.64 L824.75 82.05 L825.52 81.68 L826.28 81.50 L827.00 81.50 L827.62 81.69 L828.25 82.10 L828.87 82.69 L829.49 83.46 L830.10 84.35 L830.71 85.36 L831.32 86.45 L831.91 87.59 L832.50 88.75 L832.88 89.52 L833.25 90.32 L833.63 91.15 L834.00 92.02 L834.37 92.92 L834.74 93.86 L835.11 94.83 L835.47 95.83 L835.83 96.86 L836.18 97.93 L836.52 99.02 L836.86 100.15 L837.18 101.31 L837.50 102.50 L837.72 103.35 L837.93 104.20 L838.13 105.07 L838.33 105.95 L838.53 106.84 L838.72 107.74 L838.90 108.66 L839.09 109.59 L839.27 110.55 L839.45 111.52 L839.63 112.51 L839.81 113.52 L839.99 114.55 L840.16 115.60 L840.34 116.69 L840.52 117.79 L840.70 118.93 L840.88 120.09 L841.06 121.28 L841.25 122.50 L841.38 123.39 L841.51 124.36 L841.64 125.39 L841.77 126.49 L841.90 127.63 L842.04 128.83 L842.17 130.05 L842.30 131.31 L842.44 132.60 L842.57 133.90 L842.70 135.21 L842.83 136.52 L842.97 137.82 L843.10 139.11 L843.23 140.38 L843.36 141.63 L843.49 142.84 L843.63 144.00 L843.76 145.12 L843.88 146.18 L844.01 147.18 L844.14 148.11 L844.27 148.96 L844.39 149.72 L844.52 150.39 L844.64 150.96 L844.76 151.42 L844.88 151.77 L845.00 152.00 L845.17 152.12 L845.34 152.01 L845.51 151.69 L845.68 151.18 L845.85 150.50 L846.02 149.67 L846.19 148.70 L846.35 147.61 L846.52 146.42 L846.68 145.16 L846.84 143.82 L846.99 142.45 L847.14 141.04 L847.29 139.63 L847.44 138.23 L847.58 136.86 L847.72 135.53 L847.85 134.26 L847.98 133.08 L848.10 132.00 L848.21 131.01 L848.31 130.01 L848.41 129.00 L848.49 127.97 L848.58 126.93 L848.65 125.89 L848.73 124.84 L848.80 123.79 L848.86 122.74 L848.93 121.69 L849.00 120.65 L849.06 119.61 L849.13 118.59 L849.20 117.57 L849.27 116.57 L849.34 115.59 L849.42 114.62 L849.51 113.68 L849.60 112.76 L849.69 111.87 L849.80 111.00 L849.97 109.68 L850.14 108.28 L850.33 106.83 L850.51 105.36 L850.71 103.91 L850.91 102.50 L851.12 101.16 L851.33 99.92 L851.55 98.81 L851.77 97.87 L852.00 97.11 L852.23 96.58 L852.46 96.30 L852.70 96.30 L852.88 96.50 L853.07 96.88 L853.27 97.43 L853.47 98.11 L853.68 98.93 L853.89 99.86 L854.11 100.89 L854.32 102.00 L854.54 103.18 L854.76 104.41 L854.97 105.67 L855.19 106.96 L855.39 108.25 L855.60 109.53 L855.80 110.78 L855.99 111.99 L856.17 113.14 L856.34 114.21 L856.50 115.20 L856.68 116.31 L856.84 117.41 L857.00 118.50 L857.14 119.58 L857.28 120.65 L857.41 121.71 L857.54 122.77 L857.66 123.81 L857.77 124.85 L857.89 125.88 L858.00 126.90 L858.11 127.92 L858.23 128.92 L858.35 129.92 L858.47 130.92 L858.60 131.90 L858.75 133.02 L858.90 134.12 L859.04 135.21 L859.19 136.30 L859.33 137.37 L859.47 138.43 L859.62 139.48 L859.77 140.52 L859.91 141.56 L860.06 142.58 L860.22 143.60 L860.37 144.61 L860.53 145.61 L860.70 146.60 L860.88 147.67 L861.05 148.75 L861.23 149.82 L861.40 150.90 L861.58 151.97 L861.76 153.02 L861.95 154.05 L862.15 155.06 L862.35 156.05 L862.57 157.00 L862.80 157.91 L863.04 158.78 L863.30 159.60 L863.76 160.88 L864.25 162.13 L864.77 163.31 L865.31 164.40 L865.88 165.37 L866.47 166.20 L867.08 166.85 L867.70 167.30 L868.58 167.57 L869.52 167.51 L870.50 167.17 L871.48 166.61 L872.42 165.91 L873.30 165.10 L873.91 164.43 L874.51 163.67 L875.09 162.82 L875.64 161.89 L876.18 160.87 L876.71 159.76 L877.21 158.57 L877.70 157.30 L877.99 156.47 L878.27 155.61 L878.54 154.71 L878.80 153.78 L879.05 152.82 L879.30 151.83 L879.54 150.80 L879.78 149.75 L880.02 148.67 L880.26 147.56 L880.50 146.43 L880.75 145.28 L881.00 144.10 L881.18 143.23 L881.37 142.32 L881.55 141.39 L881.73 140.43 L881.92 139.46 L882.10 138.47 L882.28 137.46 L882.47 136.44 L882.65 135.42 L882.83 134.39 L883.02 133.36 L883.20 132.33 L883.38 131.31 L883.57 130.30 L883.75 129.30 L883.93 128.31 L884.12 127.35 L884.30 126.40 L884.51 125.34 L884.71 124.26 L884.92 123.17 L885.13 122.08 L885.34 120.98 L885.55 119.89 L885.76 118.81 L885.97 117.75 L886.18 116.71 L886.38 115.69 L886.59 114.71 L886.80 113.77 L887.00 112.87 L887.20 112.03 L887.40 111.23 L887.60 110.50 L888.05 109.08 L888.48 107.96 L888.91 107.07 L889.34 106.31 L889.76 105.60 L890.18 104.86 L890.60 104.00 L891.00 103.05 L891.38 102.07 L891.76 101.10 L892.14 100.12 L892.54 99.15 L892.99 98.21 L893.50 97.30 L894.07 96.40 L894.68 95.51 L895.33 94.45 L896.01 93.81 L896.72 92.87 L897.46 92.27 L898.20 91.59 L899.10 90.48 L900.05 89.82 L901.03 89.84 L902.03 88.91 L903.02 88.37 L904.00 88.35 L904.97 87.38 L905.93 87.01 L906.90 86.13 L907.87 85.64 L908.83 84.74 L909.80 84.59 L910.78 84.35 L911.77 83.75 L912.77 83.60 L913.75 83.28 L914.70 82.62 L915.60 82.88 L916.85 82.46 L918.02 82.02 L919.15 81.66 L920.30 82.16 L921.51 81.92 L922.73 82.23 L923.92 82.52 L925.00 82.55 L926.24 82.75 L927.34 82.42 L928.40 82.91 L929.41 83.28 L930.38 84.42 L931.40 84.77 L932.57 83.73 L933.80 82.87 L934.90 82.50 L935.76 83.19 L936.48 83.43 L937.20 85.09 L937.43 85.68 L937.67 86.94 L937.91 88.18 L938.14 89.59 L938.38 91.22 L938.62 92.60 L938.85 94.04 L939.07 94.85 L939.29 95.63 L939.50 95.75 L939.66 95.59 L939.81 94.78 L939.95 93.56 L940.07 92.98 L940.20 91.82 L940.32 90.45 L940.45 88.84 L940.59 87.58 L940.74 85.94 L940.91 85.22 L941.09 84.07 L941.30 83.15 L942.25 81.59 L943.39 81.91 L944.80 81.94 L945.86 81.14 L947.10 81.50 L948.40 81.17 L949.64 81.01 L950.70 81.26 L951.76 81.95 L952.64 82.56 L953.42 82.64 L954.20 83.78 L955.00 84.15 L955.76 85.46 L956.47 86.17 L957.10 87.77 L957.41 88.65 L957.69 89.20 L957.94 90.50 L958.17 91.04 L958.39 91.94 L958.59 93.42 L958.80 94.17 L958.95 95.21 L959.10 96.31 L959.23 97.44 L959.36 98.14 L959.48 99.10 L959.60 100.74 L959.73 101.44 L959.86 103.00 L960.00 104.08 L960.12 104.73 L960.24 105.96 L960.36 107.28 L960.49 108.69 L960.62 109.97 L960.75 111.21 L960.88 112.42 L961.01 113.65 L961.14 114.14 L961.27 114.62 L961.40 115.05 L961.55 114.57 L961.69 114.12 L961.84 113.79 L961.98 112.44 L962.13 111.27 L962.28 109.59 L962.43 108.54 L962.59 107.34 L962.74 105.73 L962.90 105.08 L963.08 104.00 L963.26 102.47 L963.45 101.72 L963.64 100.47 L963.83 99.51 L964.02 98.21 L964.21 97.46 L964.41 96.57 L964.60 95.27 L965.03 93.93 L965.46 93.43 L965.91 92.85 L966.40 91.43 L966.80 90.67 L967.20 89.82 L967.63 88.66 L968.12 87.73 L968.70 86.77 L969.43 85.81 L970.30 84.89 L971.20 83.67 L972.07 82.93 L972.80 82.79 L973.70 82.78 L974.39 84.43 L975.10 85.26 L975.85 84.46 L976.61 83.34 L977.50 82.81 L978.54 81.87 L979.71 81.42 L981.00 81.25 L982.08 81.20 L983.26 80.58 L984.46 80.60 L985.60 80.58 L986.72 81.05 L987.83 80.99 L988.86 81.59 L989.70 81.47 L990.66 82.49 L991.40 83.81 L992.17 84.95 L993.03 85.70 L993.80 86.11 L994.66 85.50 L995.50 84.62 L996.24 83.31 L997.05 82.59 L997.80 82.44 L998.13 82.60 L998.45 83.72 L998.76 85.39 L999.05 86.63 L999.33 87.95 L999.60 88.49 L1000.41 89.34 L1001.00 89.65"/>
<path d="M555.50 103.75 L556.06 103.80 L556.73 103.86 L557.49 103.92 L558.34 104.00 L559.26 104.08 L560.25 104.16 L561.30 104.25 L562.39 104.35 L563.52 104.45 L564.68 104.55 L565.86 104.65 L567.04 104.75 L568.22 104.85 L569.39 104.96 L570.55 105.06 L571.67 105.16 L572.75 105.25 L573.77 105.34 L574.84 105.43 L575.93 105.51 L577.06 105.60 L578.20 105.69 L579.35 105.78 L580.51 105.87 L581.67 105.96 L582.81 106.05 L583.94 106.14 L585.05 106.24 L586.12 106.33 L587.16 106.42 L588.14 106.52 L589.08 106.61 L589.96 106.71 L590.77 106.80 L591.50 106.90 L593.25 107.15 L594.46 107.36 L595.33 107.58 L596.04 107.84 L596.78 108.22 L597.75 108.75 L598.53 109.23 L599.35 109.80 L600.18 110.46 L601.03 111.15 L601.89 111.87 L602.75 112.58 L603.60 113.26 L604.44 113.87 L605.25 114.40 L606.27 115.01 L607.29 115.60 L608.29 116.15 L609.28 116.62 L610.25 116.98 L611.19 117.20 L612.10 117.25 L613.12 117.06 L614.10 116.63 L615.04 116.03 L615.96 115.31 L616.86 114.53 L617.75 113.75 L618.49 113.03 L619.19 112.21 L619.87 111.33 L620.55 110.44 L621.25 109.57 L621.98 108.78 L622.75 108.10 L623.65 107.44 L624.51 106.87 L625.41 106.38 L626.41 105.95 L627.58 105.58 L629.00 105.25 L629.83 105.11 L630.74 104.99 L631.71 104.89 L632.75 104.81 L633.83 104.74 L634.94 104.69 L636.06 104.64 L637.19 104.59 L638.32 104.55 L639.42 104.51 L640.48 104.46 L641.50 104.40 L642.56 104.32 L643.59 104.24 L644.59 104.14 L645.58 104.04 L646.56 103.95 L647.54 103.87 L648.53 103.79 L649.54 103.74 L650.57 103.71 L651.64 103.71 L652.75 103.75 L653.72 103.81 L654.71 103.90 L655.72 104.01 L656.74 104.13 L657.78 104.28 L658.83 104.43 L659.89 104.60 L660.97 104.77 L662.06 104.95 L663.16 105.12 L664.26 105.29 L665.38 105.45 L666.50 105.60 L667.51 105.73 L668.57 105.86 L669.68 105.99 L670.83 106.13 L671.99 106.27 L673.16 106.41 L674.33 106.55 L675.47 106.68 L676.59 106.82 L677.67 106.95 L678.70 107.07 L679.65 107.19 L680.53 107.30 L681.32 107.41 L682.00 107.50 L684.06 107.77 L684.77 107.92 L685.30 108.30 L685.98 109.37 L686.49 110.67 L687.00 111.20 L687.21 110.63 L687.26 109.48 L687.63 108.19 L688.80 107.20 L689.42 106.97 L690.13 106.76 L690.91 106.56 L691.78 106.38 L692.72 106.22 L693.72 106.07 L694.77 105.94 L695.89 105.83 L697.05 105.74 L698.25 105.67 L699.48 105.62 L700.75 105.60 L701.62 105.60 L702.53 105.62 L703.48 105.65 L704.46 105.69 L705.47 105.74 L706.50 105.81 L707.55 105.88 L708.62 105.96 L709.70 106.05 L710.79 106.14 L711.89 106.24 L713.00 106.34 L714.10 106.44 L715.20 106.54 L716.30 106.63 L717.38 106.73 L718.45 106.82 L719.50 106.90 L720.55 106.98 L721.62 107.06 L722.70 107.14 L723.79 107.21 L724.88 107.29 L725.98 107.37 L727.08 107.45 L728.18 107.53 L729.27 107.61 L730.35 107.69 L731.41 107.78 L732.46 107.87 L733.49 107.96 L734.50 108.06 L735.49 108.16 L736.44 108.27 L737.36 108.38 L738.25 108.50 L739.53 108.69 L740.77 108.89 L741.96 109.09 L743.11 109.31 L744.22 109.54 L745.28 109.77 L746.30 110.01 L747.28 110.25 L748.21 110.50 L749.10 110.75 L749.95 111.00 L750.75 111.25 L751.97 111.68 L752.99 112.11 L753.87 112.54 L754.65 112.99 L755.40 113.47 L756.16 113.97 L757.00 114.50 L757.89 115.06 L758.79 115.62 L759.68 116.21 L760.57 116.83 L761.46 117.50 L762.36 118.22 L763.25 119.00 L763.94 119.66 L764.64 120.36 L765.33 121.10 L766.03 121.86 L766.72 122.66 L767.42 123.47 L768.11 124.30 L768.81 125.15 L769.50 126.00 L770.14 126.79 L770.81 127.62 L771.49 128.47 L772.18 129.33 L772.86 130.21 L773.52 131.08 L774.15 131.95 L774.74 132.80 L775.28 133.62 L775.75 134.40 L776.31 135.46 L776.76 136.47 L777.12 137.45 L777.42 138.40 L777.69 139.35 L777.96 140.29 L778.25 141.25 L778.59 141.97 L778.91 142.20 L779.20 142.43 L779.49 143.14 L779.78 144.84 L780.10 148.00 L780.15 148.60 L780.19 149.24 L780.24 149.92 L780.29 150.64 L780.34 151.40 L780.39 152.19 L780.44 153.01 L780.49 153.86 L780.53 154.74 L780.58 155.65 L780.63 156.59 L780.68 157.55 L780.73 158.53 L780.78 159.54 L780.83 160.56 L780.88 161.61 L780.93 162.67 L780.99 163.74 L781.04 164.83 L781.09 165.93 L781.14 167.05 L781.19 168.17 L781.24 169.30 L781.29 170.43 L781.34 171.57 L781.39 172.71 L781.44 173.85 L781.49 174.99 L781.55 176.13 L781.60 177.26 L781.65 178.39 L781.70 179.52 L781.75 180.63 L781.80 181.73 L781.85 182.82 L781.90 183.90 L781.95 184.96 L782.00 186.01 L782.05 187.04 L782.10 188.05 L782.15 189.04 L782.20 190.00 L782.25 191.08 L782.31 192.19 L782.36 193.35 L782.42 194.55 L782.47 195.77 L782.52 197.02 L782.58 198.30 L782.63 199.59 L782.68 200.90 L782.74 202.22 L782.79 203.55 L782.84 204.89 L782.90 206.22 L782.95 207.55 L783.00 208.87 L783.06 210.18 L783.11 211.48 L783.16 212.75 L783.22 214.00 L783.27 215.22 L783.32 216.41 L783.38 217.57 L783.43 218.68 L783.48 219.76 L783.54 220.78 L783.59 221.75 L783.64 222.67 L783.70 223.53 L783.75 224.33 L783.81 225.06 L783.86 225.71 L783.92 226.30 L783.97 226.80 L784.03 227.22 L784.08 227.56 L784.14 227.80 L784.19 227.95 L784.25 228.00 L784.31 227.95 L784.36 227.80 L784.42 227.55 L784.48 227.21 L784.53 226.79 L784.59 226.28 L784.65 225.69 L784.71 225.02 L784.76 224.28 L784.82 223.48 L784.88 222.61 L784.94 221.69 L785.00 220.70 L785.05 219.67 L785.11 218.59 L785.17 217.47 L785.23 216.30 L785.29 215.10 L785.35 213.88 L785.41 212.62 L785.47 211.34 L785.52 210.04 L785.58 208.73 L785.64 207.40 L785.70 206.07 L785.76 204.74 L785.82 203.41 L785.88 202.08 L785.95 200.76 L786.01 199.46 L786.07 198.17 L786.13 196.91 L786.19 195.67 L786.25 194.46 L786.31 193.29 L786.38 192.15 L786.44 191.05 L786.50 190.00 L786.56 189.02 L786.62 188.03 L786.68 187.03 L786.74 186.01 L786.80 184.99 L786.86 183.96 L786.92 182.93 L786.98 181.89 L787.04 180.84 L787.10 179.79 L787.16 178.73 L787.22 177.67 L787.28 176.61 L787.34 175.55 L787.40 174.49 L787.46 173.42 L787.52 172.36 L787.58 171.30 L787.64 170.24 L787.70 169.19 L787.76 168.14 L787.83 167.09 L787.89 166.05 L787.95 165.02 L788.01 163.99 L788.08 162.97 L788.14 161.96 L788.21 160.96 L788.27 159.97 L788.33 158.99 L788.40 158.03 L788.46 157.07 L788.53 156.13 L788.60 155.21 L788.66 154.30 L788.73 153.40 L788.80 152.52 L788.86 151.66 L788.93 150.82 L789.00 150.00 L789.11 148.71 L789.22 147.44 L789.33 146.19 L789.44 144.95 L789.55 143.74 L789.65 142.56 L789.76 141.39 L789.87 140.25 L789.99 139.13 L790.10 138.03 L790.21 136.96 L790.32 135.92 L790.44 134.90 L790.56 133.91 L790.68 132.95 L790.80 132.01 L790.92 131.11 L791.04 130.23 L791.17 129.39 L791.30 128.58 L791.44 127.79 L791.57 127.05 L791.71 126.33 L791.85 125.65 L792.00 125.00 L792.54 123.00 L793.12 121.45 L793.72 120.30 L794.36 119.49 L795.01 118.96 L795.70 118.65 L796.40 118.50 L797.14 118.49 L797.93 118.68 L798.75 119.09 L799.58 119.76 L800.41 120.74 L801.22 122.06 L802.00 123.75 L802.25 124.39 L802.50 125.03 L802.76 125.69 L803.01 126.38 L803.26 127.08 L803.51 127.82 L803.76 128.58 L804.00 129.39 L804.25 130.23 L804.49 131.12 L804.73 132.05 L804.97 133.04 L805.21 134.09 L805.44 135.19 L805.68 136.37 L805.91 137.61 L806.13 138.92 L806.35 140.32 L806.57 141.79 L806.79 143.35 L807.00 145.00 L807.09 145.73 L807.17 146.48 L807.26 147.25 L807.34 148.05 L807.43 148.86 L807.51 149.71 L807.59 150.57 L807.68 151.45 L807.76 152.35 L807.84 153.26 L807.92 154.20 L808.00 155.15 L808.08 156.12 L808.15 157.10 L808.23 158.09 L808.31 159.10 L808.38 160.12 L808.46 161.15 L808.54 162.19 L808.61 163.24 L808.69 164.30 L808.76 165.37 L808.83 166.44 L808.91 167.52 L808.98 168.61 L809.05 169.70 L809.13 170.79 L809.20 171.89 L809.27 172.99 L809.34 174.09 L809.42 175.19 L809.49 176.29 L809.56 177.38 L809.63 178.48 L809.71 179.57 L809.78 180.66 L809.85 181.74 L809.92 182.82 L809.99 183.89 L810.07 184.96 L810.14 186.01 L810.21 187.06 L810.28 188.09 L810.36 189.12 L810.43 190.13 L810.50 191.14 L810.58 192.12 L810.65 193.10 L810.73 194.06 L810.80 195.00 L810.89 196.11 L810.97 197.25 L811.06 198.42 L811.15 199.62 L811.24 200.84 L811.32 202.09 L811.41 203.36 L811.50 204.65 L811.59 205.95 L811.68 207.26 L811.76 208.59 L811.85 209.91 L811.94 211.24 L812.03 212.58 L812.11 213.90 L812.20 215.23 L812.29 216.54 L812.38 217.85 L812.46 219.14 L812.55 220.41 L812.64 221.66 L812.72 222.89 L812.81 224.10 L812.90 225.28 L812.98 226.42 L813.07 227.54 L813.16 228.61 L813.24 229.65 L813.33 230.64 L813.41 231.59 L813.50 232.49 L813.58 233.34 L813.67 234.13 L813.75 234.87 L813.84 235.55 L813.92 236.17 L814.01 236.72 L814.09 237.20 L814.17 237.62 L814.25 237.96 L814.34 238.22 L814.42 238.40 L814.50 238.50 L814.59 238.51 L814.68 238.41 L814.78 238.21 L814.87 237.91 L814.96 237.51 L815.05 237.03 L815.15 236.46 L815.24 235.80 L815.33 235.07 L815.43 234.26 L815.52 233.39 L815.61 232.45 L815.70 231.46 L815.79 230.41 L815.88 229.30 L815.97 228.15 L816.06 226.96 L816.15 225.73 L816.24 224.47 L816.33 223.18 L816.42 221.86 L816.51 220.52 L816.60 219.17 L816.68 217.81 L816.77 216.44 L816.85 215.07 L816.94 213.70 L817.02 212.33 L817.10 210.98 L817.18 209.64 L817.27 208.32 L817.34 207.02 L817.42 205.76 L817.50 204.52 L817.58 203.33 L817.65 202.17 L817.73 201.06 L817.80 200.00 L817.87 199.01 L817.93 198.01 L818.00 197.00 L818.06 195.97 L818.13 194.94 L818.19 193.89 L818.25 192.84 L818.31 191.78 L818.36 190.71 L818.42 189.64 L818.48 188.56 L818.53 187.48 L818.59 186.40 L818.64 185.31 L818.69 184.23 L818.74 183.15 L818.80 182.07 L818.85 180.99 L818.90 179.91 L818.95 178.84 L819.00 177.78 L819.05 176.72 L819.10 175.67 L819.15 174.63 L819.20 173.60 L819.25 172.58 L819.30 171.57 L819.35 170.58 L819.40 169.60 L819.45 168.63 L819.51 167.68 L819.56 166.74 L819.61 165.83 L819.66 164.93 L819.72 164.05 L819.77 163.20 L819.83 162.36 L819.88 161.55 L819.94 160.76 L820.00 160.00 L820.12 158.54 L820.23 157.14 L820.34 155.81 L820.45 154.55 L820.56 153.34 L820.66 152.19 L820.77 151.09 L820.88 150.04 L820.99 149.04 L821.11 148.08 L821.22 147.15 L821.34 146.27 L821.47 145.41 L821.59 144.58 L821.73 143.78 L821.87 142.99 L822.01 142.23 L822.17 141.47 L822.33 140.73 L822.50 140.00 L822.85 138.53 L823.22 137.09 L823.59 135.69 L823.99 134.40 L824.41 133.23 L824.85 132.24 L825.33 131.46 L825.84 130.92 L826.40 130.67 L827.00 130.75 L827.41 130.97 L827.85 131.30 L828.33 131.74 L828.82 132.29 L829.34 132.94 L829.88 133.68 L830.42 134.51 L830.97 135.42 L831.52 136.41 L832.07 137.47 L832.60 138.59 L833.13 139.78 L833.64 141.02 L834.12 142.30 L834.58 143.63 L835.00 145.00 L835.21 145.75 L835.42 146.51 L835.62 147.28 L835.81 148.08 L836.00 148.89 L836.18 149.71 L836.36 150.55 L836.54 151.41 L836.70 152.29 L836.87 153.19 L837.03 154.10 L837.19 155.03 L837.35 155.97 L837.50 156.94 L837.66 157.92 L837.81 158.92 L837.96 159.94 L838.11 160.98 L838.26 162.04 L838.41 163.12 L838.56 164.22 L838.71 165.33 L838.86 166.47 L839.02 167.63 L839.17 168.80 L839.33 170.00 L839.49 171.22 L839.66 172.46 L839.83 173.72 L840.00 175.00 L840.11 175.85 L840.23 176.76 L840.34 177.71 L840.46 178.72 L840.57 179.76 L840.69 180.85 L840.81 181.98 L840.93 183.14 L841.05 184.33 L841.17 185.56 L841.29 186.80 L841.42 188.07 L841.54 189.36 L841.66 190.67 L841.79 191.99 L841.91 193.31 L842.04 194.65 L842.16 195.99 L842.28 197.33 L842.41 198.67 L842.53 200.00 L842.66 201.32 L842.78 202.63 L842.91 203.93 L843.03 205.21 L843.15 206.46 L843.27 207.70 L843.40 208.90 L843.52 210.08 L843.64 211.22 L843.76 212.33 L843.88 213.39 L843.99 214.41 L844.11 215.39 L844.23 216.32 L844.34 217.19 L844.45 218.02 L844.56 218.78 L844.68 219.48 L844.78 220.11 L844.89 220.68 L845.00 221.18 L845.10 221.61 L845.20 221.95 L845.30 222.22 L845.40 222.40 L845.50 222.50 L845.61 222.50 L845.71 222.40 L845.81 222.19 L845.91 221.88 L846.01 221.48 L846.10 220.98 L846.20 220.40 L846.29 219.74 L846.38 219.00 L846.47 218.19 L846.55 217.30 L846.64 216.36 L846.72 215.35 L846.81 214.29 L846.89 213.18 L846.97 212.02 L847.05 210.81 L847.13 209.58 L847.21 208.30 L847.29 207.00 L847.36 205.68 L847.44 204.33 L847.52 202.97 L847.59 201.59 L847.67 200.21 L847.74 198.83 L847.82 197.45 L847.89 196.08 L847.97 194.71 L848.04 193.37 L848.12 192.04 L848.20 190.74 L848.27 189.46 L848.35 188.22 L848.43 187.01 L848.51 185.85 L848.59 184.73 L848.67 183.67 L848.75 182.66 L848.83 181.71 L848.91 180.82 L849.00 180.00 L849.16 178.56 L849.31 177.12 L849.47 175.68 L849.63 174.25 L849.79 172.83 L849.95 171.43 L850.11 170.06 L850.27 168.72 L850.43 167.41 L850.59 166.15 L850.75 164.95 L850.91 163.79 L851.07 162.71 L851.24 161.69 L851.40 160.75 L851.56 159.89 L851.72 159.12 L851.89 158.44 L852.05 157.87 L852.21 157.40 L852.37 157.04 L852.54 156.81 L852.70 156.70 L852.88 156.74 L853.06 156.95 L853.24 157.33 L853.42 157.85 L853.61 158.50 L853.79 159.28 L853.97 160.17 L854.16 161.17 L854.34 162.25 L854.53 163.41 L854.71 164.64 L854.89 165.92 L855.08 167.25 L855.26 168.60 L855.44 169.98 L855.62 171.36 L855.80 172.74 L855.98 174.11 L856.15 175.45 L856.33 176.75 L856.50 178.00 L856.62 178.88 L856.74 179.79 L856.87 180.74 L856.99 181.73 L857.12 182.75 L857.24 183.79 L857.37 184.85 L857.49 185.94 L857.62 187.04 L857.74 188.16 L857.87 189.28 L857.99 190.41 L858.12 191.54 L858.24 192.68 L858.36 193.81 L858.48 194.93 L858.60 196.04 L858.72 197.14 L858.83 198.22 L858.94 199.28 L859.05 200.31 L859.16 201.32 L859.27 202.30 L859.37 203.24 L859.47 204.15 L859.56 205.01 L859.65 205.84 L859.74 206.61 L859.82 207.33 L859.90 208.00 L860.15 210.05 L860.33 211.51 L860.47 212.52 L860.58 213.25 L860.67 213.85 L860.78 214.47 L860.92 215.27 L861.10 216.40 L861.23 217.27 L861.35 218.20 L861.47 219.18 L861.60 220.21 L861.72 221.27 L861.86 222.35 L862.01 223.45 L862.17 224.54 L862.35 225.62 L862.55 226.67 L862.77 227.70 L863.02 228.68 L863.30 229.60 L863.68 230.68 L864.10 231.78 L864.56 232.89 L865.05 233.99 L865.57 235.05 L866.11 236.06 L866.65 237.00 L867.20 237.84 L867.75 238.57 L868.28 239.16 L868.80 239.60 L869.74 240.00 L870.70 239.98 L871.67 239.61 L872.62 239.00 L873.53 238.23 L874.40 237.40 L875.01 236.73 L875.61 235.97 L876.19 235.12 L876.74 234.19 L877.28 233.17 L877.81 232.06 L878.31 230.87 L878.80 229.60 L879.09 228.77 L879.37 227.89 L879.64 226.97 L879.90 226.01 L880.15 225.02 L880.40 224.00 L880.64 222.96 L880.88 221.89 L881.12 220.81 L881.36 219.71 L881.60 218.61 L881.85 217.51 L882.10 216.40 L882.32 215.43 L882.54 214.43 L882.76 213.41 L882.98 212.37 L883.20 211.32 L883.42 210.26 L883.63 209.19 L883.85 208.12 L884.07 207.05 L884.29 205.99 L884.51 204.94 L884.73 203.90 L884.95 202.87 L885.18 201.87 L885.40 200.90 L885.65 199.81 L885.90 198.74 L886.14 197.69 L886.38 196.66 L886.61 195.64 L886.85 194.64 L887.10 193.64 L887.35 192.64 L887.61 191.65 L887.88 190.65 L888.17 189.65 L888.48 188.63 L888.80 187.60 L889.12 186.63 L889.46 185.64 L889.81 184.63 L890.18 183.62 L890.56 182.61 L890.94 181.59 L891.34 180.57 L891.74 179.57 L892.14 178.57 L892.54 177.59 L892.94 176.63 L893.33 175.69 L893.72 174.78 L894.10 173.90 L894.57 172.81 L895.04 171.95 L895.51 170.55 L895.97 169.59 L896.44 168.65 L896.90 167.69 L897.37 166.76 L897.84 166.21 L898.32 164.81 L898.81 163.86 L899.30 163.71 L899.93 162.72 L900.59 161.90 L901.27 160.66 L901.96 160.21 L902.65 159.44 L903.31 158.22 L903.95 157.91 L904.55 157.33 L905.10 156.61 L906.11 155.40 L906.92 154.39 L907.69 153.68 L908.60 152.81 L909.45 152.01 L910.34 151.69 L911.28 150.79 L912.27 150.46 L913.30 149.18 L914.07 149.20 L914.87 148.42 L915.70 147.93 L916.55 147.26 L917.40 146.66 L918.26 145.89 L919.10 145.06 L920.11 145.20 L921.15 144.55 L922.20 144.47 L923.21 144.60 L924.16 144.38 L925.00 144.14 L926.36 144.07 L927.43 143.42 L928.40 142.99 L929.56 143.33 L930.80 143.85 L931.54 143.05 L932.40 142.40 L933.31 141.16 L934.17 140.27 L934.90 140.12 L935.80 140.24 L936.50 140.36 L937.20 142.70 L937.36 143.53 L937.53 144.40 L937.69 145.56 L937.86 146.26 L938.02 148.06 L938.19 149.64 L938.35 150.49 L938.51 152.02 L938.68 153.30 L938.84 154.64 L939.01 155.54 L939.17 156.33 L939.34 157.02 L939.50 156.65 L939.67 156.52 L939.84 156.09 L940.01 155.35 L940.19 154.35 L940.37 153.84 L940.54 152.49 L940.72 150.59 L940.89 149.47 L941.06 147.93 L941.22 146.56 L941.38 145.30 L941.53 144.35 L941.67 143.33 L941.80 142.40 L942.22 140.26 L942.51 139.55 L943.00 138.74 L943.79 138.14 L944.77 137.49 L945.90 136.62 L946.88 136.01 L947.97 135.76 L949.10 135.63 L950.20 135.57 L951.31 135.44 L952.44 134.90 L953.50 135.09 L954.40 135.19 L955.07 135.62 L955.58 136.41 L956.02 137.61 L956.50 139.14 L956.77 139.74 L957.04 140.79 L957.32 141.55 L957.59 142.39 L957.86 143.67 L958.12 144.94 L958.37 145.75 L958.60 147.35 L958.72 148.16 L958.84 149.33 L958.95 150.25 L959.05 150.76 L959.15 152.07 L959.25 152.96 L959.34 153.58 L959.44 154.75 L959.53 155.55 L959.62 157.11 L959.71 158.10 L959.81 159.37 L959.90 160.44 L960.00 161.52 L960.08 162.54 L960.15 163.50 L960.23 164.35 L960.30 165.93 L960.37 166.82 L960.44 168.25 L960.51 170.03 L960.58 170.86 L960.66 172.21 L960.73 173.50 L960.80 175.26 L960.88 175.90 L960.96 176.83 L961.04 178.32 L961.13 178.60 L961.21 179.73 L961.30 180.06 L961.40 180.44 L961.54 180.55 L961.68 179.98 L961.84 179.54 L961.99 178.15 L962.16 177.61 L962.32 176.22 L962.49 175.04 L962.66 173.21 L962.83 172.24 L963.00 170.96 L963.17 169.01 L963.34 167.96 L963.50 167.04 L963.67 166.16 L963.83 164.69 L963.99 163.60 L964.15 162.61 L964.30 161.82 L964.46 160.88 L964.63 159.59 L964.80 158.54 L964.98 157.51 L965.17 156.43 L965.38 155.42 L965.60 154.11 L965.82 153.37 L966.05 152.63 L966.30 151.12 L966.55 150.21 L966.81 148.65 L967.08 147.88 L967.36 146.80 L967.64 145.66 L967.93 144.50 L968.22 143.50 L968.51 142.71 L968.80 142.08 L969.10 140.85 L969.93 139.40 L970.83 138.90 L971.74 138.42 L972.58 137.80 L973.30 137.56 L974.48 138.85 L975.40 139.48 L975.89 138.90 L976.36 137.70 L976.88 136.66 L977.50 135.37 L978.24 134.47 L979.08 134.03 L979.99 133.56 L981.00 132.56 L981.90 132.51 L982.89 132.06 L983.92 132.19 L984.94 131.87 L985.90 131.54 L987.02 131.29 L988.09 130.93 L989.12 131.25 L990.10 131.62 L990.74 132.25 L991.36 133.58 L991.96 134.92 L992.53 136.51 L993.08 137.00 L993.60 137.94 L994.06 137.03 L994.46 135.80 L994.84 134.05 L995.21 132.74 L995.63 131.66 L996.10 131.34 L996.37 131.67 L996.67 132.50 L996.99 133.47 L997.33 134.21 L997.67 135.63 L998.02 137.05 L998.36 137.99 L998.69 139.10 L999.01 140.30 L999.30 141.73 L999.57 142.62 L999.80 143.52 L1000.73 145.24 L1001.20 145.12"/>
<path d="M555.50 147.10 L556.06 147.22 L556.76 147.36 L557.58 147.52 L558.51 147.71 L559.52 147.92 L560.59 148.15 L561.72 148.41 L562.89 148.71 L564.07 149.04 L565.25 149.40 L566.11 149.70 L567.02 150.05 L567.95 150.44 L568.92 150.85 L569.92 151.29 L570.93 151.75 L571.95 152.20 L572.98 152.65 L574.02 153.09 L575.05 153.50 L576.06 153.89 L577.07 154.23 L578.05 154.52 L579.00 154.75 L580.11 154.94 L581.23 155.06 L582.36 155.12 L583.49 155.14 L584.61 155.11 L585.72 155.07 L586.80 155.01 L587.84 154.96 L588.84 154.92 L589.79 154.90 L590.68 154.93 L591.50 155.00 L592.90 155.22 L594.05 155.49 L595.02 155.81 L595.90 156.20 L596.78 156.68 L597.75 157.25 L598.53 157.77 L599.30 158.38 L600.07 159.05 L600.83 159.77 L601.61 160.49 L602.39 161.21 L603.19 161.88 L604.00 162.50 L604.96 163.20 L605.96 163.95 L606.98 164.69 L608.00 165.37 L609.00 165.93 L609.98 166.33 L610.90 166.50 L611.90 166.44 L612.84 166.18 L613.74 165.71 L614.63 165.04 L615.54 164.17 L616.50 163.10 L616.99 162.45 L617.48 161.67 L617.96 160.80 L618.44 159.85 L618.93 158.85 L619.43 157.82 L619.94 156.80 L620.46 155.79 L621.00 154.84 L621.56 153.95 L622.14 153.17 L622.75 152.50 L623.54 151.77 L624.26 151.17 L624.97 150.66 L625.71 150.25 L626.53 149.90 L627.47 149.59 L628.58 149.31 L629.91 149.04 L631.50 148.75 L632.25 148.63 L633.08 148.51 L633.98 148.39 L634.94 148.27 L635.96 148.16 L637.02 148.05 L638.12 147.94 L639.25 147.84 L640.40 147.74 L641.57 147.65 L642.75 147.57 L643.93 147.48 L645.10 147.41 L646.25 147.34 L647.38 147.28 L648.48 147.23 L649.54 147.19 L650.56 147.15 L651.52 147.12 L652.42 147.10 L653.25 147.10 L654.00 147.10 L655.74 147.18 L657.12 147.35 L658.23 147.59 L659.16 147.88 L659.98 148.20 L660.80 148.52 L661.69 148.83 L662.75 149.10 L663.70 149.29 L664.68 149.47 L665.68 149.65 L666.70 149.83 L667.72 150.00 L668.74 150.18 L669.77 150.37 L670.78 150.57 L671.77 150.78 L672.75 151.00 L673.84 151.28 L674.97 151.59 L676.11 151.92 L677.24 152.27 L678.34 152.61 L679.39 152.94 L680.36 153.25 L681.24 153.52 L682.00 153.75 L683.60 154.07 L684.54 154.18 L685.30 154.60 L685.84 155.51 L686.24 156.77 L686.61 157.87 L687.00 158.30 L687.26 157.77 L687.42 156.59 L687.81 155.20 L688.80 154.00 L689.41 153.60 L690.11 153.18 L690.90 152.75 L691.76 152.32 L692.70 151.91 L693.70 151.54 L694.77 151.20 L695.88 150.93 L697.05 150.72 L698.25 150.60 L699.08 150.57 L699.94 150.56 L700.83 150.59 L701.75 150.65 L702.70 150.73 L703.67 150.83 L704.66 150.95 L705.68 151.10 L706.71 151.26 L707.77 151.44 L708.84 151.63 L709.92 151.84 L711.02 152.05 L712.13 152.27 L713.25 152.50 L714.16 152.69 L715.10 152.90 L716.07 153.13 L717.06 153.37 L718.08 153.63 L719.11 153.89 L720.15 154.17 L721.20 154.45 L722.25 154.74 L723.31 155.03 L724.35 155.32 L725.39 155.62 L726.41 155.91 L727.42 156.19 L728.40 156.48 L729.35 156.75 L730.27 157.01 L731.16 157.26 L732.00 157.50 L733.18 157.83 L734.30 158.15 L735.39 158.46 L736.43 158.77 L737.43 159.06 L738.40 159.35 L739.34 159.63 L740.25 159.91 L741.14 160.18 L742.00 160.45 L742.85 160.72 L743.68 160.98 L744.50 161.25 L745.65 161.62 L746.74 161.95 L747.79 162.28 L748.78 162.59 L749.74 162.91 L750.66 163.24 L751.55 163.59 L752.41 163.97 L753.25 164.40 L754.16 164.93 L755.02 165.49 L755.83 166.09 L756.61 166.71 L757.36 167.36 L758.08 168.02 L758.80 168.70 L759.50 169.40 L760.30 170.25 L761.09 171.17 L761.86 172.13 L762.60 173.09 L763.29 174.02 L763.93 174.86 L764.50 175.60 L765.24 176.47 L765.75 177.02 L766.26 177.64 L767.00 178.75 L767.40 179.41 L767.86 180.18 L768.36 181.04 L768.88 181.97 L769.42 182.93 L769.97 183.91 L770.51 184.88 L771.04 185.82 L771.54 186.70 L772.00 187.50 L772.61 188.48 L773.20 189.32 L773.76 190.09 L774.30 190.85 L774.81 191.67 L775.29 192.62 L775.75 193.75 L776.02 194.50 L776.28 195.17 L776.52 195.82 L776.74 196.47 L776.96 197.19 L777.17 198.00 L777.38 198.95 L777.58 200.08 L777.80 201.44 L778.02 203.07 L778.25 205.00 L778.32 205.68 L778.40 206.40 L778.47 207.15 L778.55 207.94 L778.62 208.76 L778.70 209.61 L778.78 210.50 L778.85 211.40 L778.93 212.34 L779.00 213.30 L779.08 214.28 L779.15 215.28 L779.23 216.30 L779.31 217.34 L779.38 218.39 L779.46 219.46 L779.54 220.54 L779.61 221.62 L779.69 222.72 L779.77 223.82 L779.85 224.93 L779.93 226.04 L780.01 227.16 L780.09 228.27 L780.17 229.38 L780.25 230.49 L780.33 231.59 L780.41 232.68 L780.49 233.77 L780.58 234.84 L780.66 235.91 L780.74 236.96 L780.83 237.99 L780.91 239.00 L781.00 240.00 L781.09 241.04 L781.18 242.14 L781.27 243.30 L781.37 244.49 L781.46 245.73 L781.56 247.00 L781.65 248.29 L781.75 249.61 L781.85 250.95 L781.95 252.30 L782.05 253.66 L782.15 255.02 L782.25 256.37 L782.35 257.71 L782.45 259.04 L782.55 260.35 L782.65 261.62 L782.75 262.87 L782.86 264.08 L782.96 265.25 L783.06 266.37 L783.16 267.43 L783.26 268.44 L783.36 269.38 L783.46 270.25 L783.55 271.04 L783.65 271.76 L783.75 272.38 L783.84 272.91 L783.94 273.35 L784.03 273.68 L784.12 273.90 L784.21 274.01 L784.30 274.00 L784.38 273.89 L784.45 273.69 L784.53 273.40 L784.60 273.02 L784.67 272.56 L784.75 272.03 L784.82 271.42 L784.89 270.75 L784.96 270.00 L785.03 269.20 L785.10 268.34 L785.17 267.42 L785.23 266.44 L785.30 265.43 L785.37 264.36 L785.44 263.26 L785.50 262.12 L785.57 260.94 L785.64 259.74 L785.70 258.51 L785.77 257.25 L785.83 255.98 L785.90 254.69 L785.97 253.40 L786.03 252.09 L786.10 250.78 L786.17 249.47 L786.23 248.16 L786.30 246.86 L786.37 245.56 L786.44 244.29 L786.51 243.03 L786.57 241.79 L786.64 240.57 L786.71 239.39 L786.78 238.23 L786.86 237.11 L786.93 236.04 L787.00 235.00 L787.07 234.00 L787.14 233.00 L787.22 231.97 L787.29 230.94 L787.36 229.89 L787.43 228.83 L787.51 227.77 L787.58 226.70 L787.65 225.62 L787.73 224.53 L787.80 223.44 L787.88 222.35 L787.95 221.25 L788.03 220.16 L788.10 219.06 L788.18 217.97 L788.25 216.88 L788.33 215.79 L788.41 214.70 L788.48 213.62 L788.56 212.55 L788.63 211.49 L788.71 210.44 L788.79 209.39 L788.86 208.36 L788.94 207.34 L789.01 206.33 L789.09 205.34 L789.17 204.37 L789.24 203.41 L789.32 202.47 L789.40 201.54 L789.47 200.64 L789.55 199.76 L789.62 198.91 L789.70 198.07 L789.77 197.26 L789.85 196.48 L789.92 195.73 L790.00 195.00 L790.17 193.38 L790.35 191.88 L790.52 190.48 L790.68 189.18 L790.85 187.98 L791.02 186.86 L791.19 185.81 L791.35 184.84 L791.52 183.93 L791.69 183.07 L791.87 182.26 L792.04 181.49 L792.23 180.76 L792.41 180.05 L792.60 179.36 L792.80 178.68 L793.00 178.00 L793.51 176.48 L794.04 175.19 L794.59 174.13 L795.16 173.29 L795.76 172.66 L796.37 172.24 L797.00 172.00 L797.79 171.91 L798.63 172.04 L799.50 172.44 L800.37 173.19 L801.21 174.35 L802.00 176.00 L802.23 176.61 L802.46 177.24 L802.68 177.89 L802.90 178.56 L803.11 179.27 L803.32 180.00 L803.53 180.78 L803.73 181.61 L803.93 182.48 L804.13 183.41 L804.33 184.40 L804.53 185.45 L804.73 186.57 L804.94 187.76 L805.14 189.03 L805.35 190.39 L805.56 191.83 L805.78 193.37 L806.00 195.00 L806.09 195.72 L806.19 196.48 L806.29 197.25 L806.38 198.05 L806.48 198.88 L806.57 199.73 L806.67 200.59 L806.77 201.48 L806.87 202.39 L806.96 203.32 L807.06 204.26 L807.16 205.23 L807.26 206.20 L807.36 207.20 L807.46 208.20 L807.56 209.22 L807.66 210.25 L807.76 211.30 L807.86 212.35 L807.96 213.41 L808.06 214.48 L808.16 215.55 L808.26 216.64 L808.36 217.72 L808.47 218.81 L808.57 219.91 L808.67 221.00 L808.77 222.10 L808.87 223.20 L808.97 224.30 L809.08 225.39 L809.18 226.48 L809.28 227.57 L809.38 228.66 L809.48 229.74 L809.59 230.81 L809.69 231.87 L809.79 232.93 L809.89 233.97 L809.99 235.01 L810.09 236.04 L810.20 237.05 L810.30 238.05 L810.40 239.03 L810.50 240.00 L810.61 241.08 L810.72 242.19 L810.84 243.34 L810.95 244.52 L811.06 245.73 L811.18 246.97 L811.29 248.23 L811.41 249.51 L811.53 250.81 L811.64 252.12 L811.76 253.44 L811.88 254.77 L811.99 256.10 L812.11 257.42 L812.23 258.75 L812.34 260.07 L812.46 261.38 L812.58 262.68 L812.69 263.96 L812.81 265.22 L812.93 266.46 L813.04 267.67 L813.16 268.86 L813.27 270.01 L813.39 271.13 L813.50 272.20 L813.61 273.24 L813.73 274.23 L813.84 275.17 L813.95 276.06 L814.06 276.89 L814.17 277.67 L814.28 278.39 L814.38 279.04 L814.49 279.62 L814.59 280.13 L814.70 280.56 L814.80 280.92 L814.90 281.20 L815.00 281.39 L815.10 281.50 L815.21 281.51 L815.32 281.40 L815.43 281.17 L815.54 280.83 L815.64 280.39 L815.75 279.86 L815.85 279.22 L815.95 278.51 L816.06 277.71 L816.16 276.83 L816.26 275.88 L816.36 274.87 L816.45 273.80 L816.55 272.67 L816.65 271.49 L816.74 270.27 L816.84 269.01 L816.93 267.72 L817.02 266.40 L817.12 265.06 L817.21 263.70 L817.30 262.33 L817.39 260.95 L817.48 259.57 L817.57 258.20 L817.65 256.84 L817.74 255.50 L817.83 254.17 L817.91 252.87 L818.00 251.61 L818.08 250.38 L818.17 249.20 L818.25 248.06 L818.34 246.98 L818.42 245.96 L818.50 245.00 L818.60 243.89 L818.69 242.79 L818.78 241.68 L818.87 240.58 L818.96 239.48 L819.05 238.39 L819.13 237.30 L819.22 236.22 L819.30 235.14 L819.38 234.07 L819.46 233.01 L819.54 231.96 L819.62 230.91 L819.70 229.87 L819.77 228.84 L819.85 227.83 L819.93 226.82 L820.01 225.82 L820.08 224.84 L820.16 223.87 L820.24 222.91 L820.32 221.97 L820.40 221.04 L820.48 220.13 L820.56 219.23 L820.65 218.35 L820.73 217.48 L820.82 216.64 L820.91 215.81 L821.00 215.00 L821.15 213.68 L821.31 212.41 L821.46 211.16 L821.61 209.96 L821.77 208.79 L821.93 207.66 L822.08 206.56 L822.24 205.50 L822.41 204.48 L822.57 203.50 L822.74 202.56 L822.91 201.65 L823.08 200.78 L823.26 199.95 L823.44 199.15 L823.62 198.40 L823.81 197.68 L824.00 197.00 L824.51 195.41 L825.04 194.04 L825.59 192.92 L826.16 192.06 L826.76 191.48 L827.37 191.20 L828.00 191.25 L828.46 191.46 L828.94 191.81 L829.43 192.30 L829.93 192.93 L830.44 193.70 L830.95 194.63 L831.47 195.72 L831.98 196.98 L832.50 198.40 L833.00 200.00 L833.20 200.70 L833.40 201.45 L833.61 202.24 L833.82 203.08 L834.02 203.96 L834.23 204.87 L834.44 205.82 L834.65 206.80 L834.86 207.80 L835.07 208.83 L835.28 209.88 L835.49 210.95 L835.70 212.03 L835.90 213.12 L836.11 214.22 L836.31 215.33 L836.51 216.43 L836.71 217.54 L836.90 218.64 L837.10 219.74 L837.28 220.83 L837.47 221.90 L837.65 222.95 L837.83 223.99 L838.00 225.00 L838.17 226.00 L838.33 227.01 L838.49 228.03 L838.64 229.05 L838.80 230.08 L838.94 231.11 L839.09 232.14 L839.23 233.17 L839.37 234.21 L839.51 235.24 L839.64 236.27 L839.78 237.30 L839.91 238.32 L840.04 239.34 L840.17 240.36 L840.30 241.37 L840.43 242.37 L840.56 243.36 L840.69 244.35 L840.82 245.32 L840.96 246.28 L841.09 247.23 L841.22 248.17 L841.36 249.09 L841.50 250.00 L841.67 251.17 L841.85 252.43 L842.02 253.75 L842.19 255.12 L842.36 256.52 L842.53 257.94 L842.71 259.36 L842.88 260.76 L843.05 262.12 L843.22 263.44 L843.39 264.68 L843.56 265.84 L843.74 266.90 L843.91 267.83 L844.09 268.63 L844.27 269.28 L844.45 269.76 L844.63 270.05 L844.81 270.13 L845.00 270.00 L845.13 269.77 L845.25 269.43 L845.38 268.97 L845.51 268.42 L845.64 267.76 L845.77 267.02 L845.90 266.19 L846.03 265.29 L846.16 264.31 L846.30 263.28 L846.43 262.19 L846.56 261.05 L846.70 259.87 L846.83 258.65 L846.97 257.41 L847.10 256.14 L847.24 254.86 L847.38 253.57 L847.51 252.28 L847.65 251.00 L847.78 249.73 L847.92 248.48 L848.06 247.25 L848.19 246.06 L848.33 244.91 L848.46 243.81 L848.60 242.76 L848.73 241.77 L848.87 240.85 L849.00 240.00 L849.22 238.65 L849.45 237.29 L849.67 235.93 L849.89 234.58 L850.12 233.25 L850.34 231.94 L850.56 230.68 L850.79 229.45 L851.01 228.28 L851.24 227.17 L851.46 226.13 L851.68 225.17 L851.90 224.29 L852.12 223.51 L852.34 222.83 L852.56 222.26 L852.78 221.82 L853.00 221.50 L853.39 221.26 L853.78 221.43 L854.18 221.93 L854.57 222.74 L854.96 223.79 L855.34 225.04 L855.72 226.43 L856.09 227.92 L856.45 229.46 L856.80 231.00 L856.96 231.76 L857.13 232.57 L857.29 233.44 L857.45 234.36 L857.61 235.32 L857.77 236.32 L857.92 237.35 L858.08 238.41 L858.23 239.48 L858.38 240.58 L858.53 241.68 L858.68 242.78 L858.82 243.88 L858.97 244.97 L859.11 246.05 L859.25 247.11 L859.38 248.14 L859.52 249.14 L859.65 250.10 L859.77 251.03 L859.90 251.90 L860.08 253.15 L860.24 254.34 L860.40 255.50 L860.54 256.61 L860.68 257.69 L860.81 258.74 L860.94 259.77 L861.08 260.77 L861.21 261.76 L861.35 262.73 L861.50 263.70 L861.65 264.66 L861.82 265.63 L862.00 266.60 L862.22 267.75 L862.43 268.92 L862.64 270.09 L862.85 271.27 L863.07 272.42 L863.30 273.56 L863.55 274.65 L863.82 275.70 L864.11 276.69 L864.44 277.61 L864.80 278.45 L865.20 279.20 L865.89 280.18 L866.68 281.01 L867.54 281.71 L868.46 282.28 L869.39 282.73 L870.33 283.06 L871.24 283.28 L872.10 283.40 L873.06 283.36 L874.03 283.12 L874.99 282.71 L875.93 282.18 L876.82 281.57 L877.65 280.93 L878.40 280.30 L879.16 279.52 L879.83 278.65 L880.41 277.71 L880.94 276.73 L881.43 275.75 L881.90 274.80 L882.38 273.82 L882.74 272.97 L883.08 272.05 L883.47 270.86 L884.00 269.20 L884.24 268.46 L884.49 267.63 L884.76 266.73 L885.05 265.77 L885.35 264.76 L885.65 263.71 L885.97 262.64 L886.29 261.54 L886.61 260.44 L886.94 259.34 L887.26 258.26 L887.58 257.20 L887.90 256.18 L888.20 255.20 L888.52 254.19 L888.83 253.20 L889.14 252.22 L889.44 251.26 L889.74 250.30 L890.05 249.35 L890.35 248.41 L890.67 247.46 L890.99 246.51 L891.32 245.55 L891.67 244.59 L892.02 243.60 L892.40 242.60 L892.77 241.64 L893.14 240.66 L893.54 239.65 L893.94 238.62 L894.35 237.58 L894.77 236.54 L895.20 235.29 L895.63 234.31 L896.06 233.25 L896.50 232.63 L896.93 231.78 L897.36 230.88 L897.78 229.56 L898.20 229.16 L898.78 227.69 L899.36 226.76 L899.94 226.03 L900.52 224.69 L901.10 223.85 L901.68 223.55 L902.26 222.38 L902.84 221.65 L903.42 221.03 L904.00 220.32 L904.64 219.00 L905.29 218.39 L905.93 217.65 L906.58 216.90 L907.22 215.93 L907.87 215.44 L908.51 214.96 L909.16 213.84 L909.80 213.23 L910.53 212.14 L911.28 211.45 L912.02 210.95 L912.77 209.81 L913.51 209.62 L914.23 208.95 L914.93 207.72 L915.60 207.71 L916.61 206.44 L917.56 205.94 L918.47 205.25 L919.38 204.31 L920.30 204.02 L921.24 203.53 L922.18 203.24 L923.13 202.52 L924.07 202.57 L925.00 202.42 L926.21 201.86 L927.45 201.43 L928.61 200.87 L929.60 201.00 L930.85 201.32 L931.90 201.75 L932.62 201.10 L933.40 200.03 L934.18 198.83 L934.90 198.70 L935.72 198.60 L936.46 198.79 L937.20 201.27 L937.35 201.84 L937.51 202.41 L937.66 204.11 L937.81 204.83 L937.97 206.34 L938.12 208.04 L938.27 209.41 L938.43 210.80 L938.58 212.23 L938.73 213.36 L938.89 214.37 L939.04 215.21 L939.19 215.83 L939.35 216.72 L939.50 216.88 L939.63 216.57 L939.77 216.30 L939.90 215.41 L940.03 214.54 L940.16 213.66 L940.28 212.91 L940.41 211.13 L940.54 210.19 L940.67 208.68 L940.80 207.70 L940.94 206.07 L941.07 204.75 L941.21 203.56 L941.35 202.50 L941.50 201.62 L941.65 200.43 L941.80 200.04 L942.32 197.76 L942.83 196.74 L943.39 195.91 L944.04 195.39 L944.80 195.30 L945.75 194.65 L946.84 193.76 L948.01 193.38 L949.16 193.31 L950.20 193.47 L951.37 193.69 L952.46 194.06 L953.48 194.60 L954.40 195.15 L954.96 195.96 L955.46 196.48 L955.93 197.48 L956.37 198.43 L956.79 199.33 L957.20 200.83 L957.37 201.92 L957.53 202.17 L957.69 203.53 L957.84 204.46 L957.99 205.41 L958.13 205.97 L958.27 207.08 L958.42 208.13 L958.56 209.24 L958.70 210.59 L958.84 211.52 L958.99 212.42 L959.14 214.02 L959.30 214.99 L959.41 215.96 L959.52 217.03 L959.63 217.59 L959.74 219.27 L959.85 220.39 L959.96 221.52 L960.07 222.81 L960.19 224.06 L960.30 225.16 L960.42 226.67 L960.53 227.58 L960.65 229.11 L960.76 230.37 L960.88 231.32 L961.00 232.41 L961.12 233.60 L961.23 234.35 L961.35 234.50 L961.47 235.50 L961.58 235.77 L961.70 235.59 L961.86 235.83 L962.03 235.48 L962.19 234.84 L962.35 234.41 L962.51 233.73 L962.68 232.20 L962.84 231.35 L963.01 229.89 L963.17 228.11 L963.34 227.20 L963.51 225.60 L963.68 224.45 L963.85 223.00 L964.02 221.83 L964.20 220.49 L964.39 219.76 L964.58 218.79 L964.77 217.67 L964.96 216.30 L965.15 215.45 L965.34 214.20 L965.54 212.90 L965.74 211.82 L965.94 210.84 L966.14 209.94 L966.35 208.97 L966.56 208.29 L966.78 207.56 L967.00 206.63 L967.36 205.34 L967.74 204.35 L968.14 203.04 L968.55 202.15 L968.95 201.42 L969.36 200.31 L969.76 199.36 L970.14 199.14 L970.50 198.35 L971.51 196.59 L972.44 195.70 L973.30 195.42 L974.35 196.38 L975.40 196.91 L976.05 196.17 L976.76 195.30 L977.48 194.53 L978.20 193.05 L978.87 192.39 L979.51 191.34 L980.20 190.56 L981.00 189.87 L981.98 189.54 L983.10 189.01 L984.22 188.62 L985.20 188.43 L986.69 188.02 L988.00 188.09 L989.40 187.90 L990.80 188.77 L991.27 189.88 L991.74 191.05 L992.22 192.59 L992.69 193.33 L993.15 194.42 L993.60 194.63 L993.92 193.91 L994.23 193.59 L994.54 191.76 L994.84 190.22 L995.14 189.07 L995.45 187.67 L995.77 187.23 L996.10 186.89 L996.36 187.06 L996.63 187.62 L996.91 188.95 L997.19 189.67 L997.48 191.21 L997.77 192.26 L998.05 193.89 L998.33 194.75 L998.60 195.95 L998.86 197.08 L999.10 198.42 L999.47 199.64 L999.83 200.77 L1000.17 201.86 L1000.49 203.45 L1000.78 204.69 L1001.02 205.30 L1001.20 205.55"/>
<path d="M555.50 189.40 L556.08 189.52 L556.81 189.66 L557.67 189.82 L558.63 190.01 L559.67 190.21 L560.78 190.43 L561.93 190.68 L563.09 190.95 L564.26 191.24 L565.40 191.56 L566.50 191.90 L567.41 192.23 L568.34 192.62 L569.28 193.04 L570.24 193.50 L571.20 193.98 L572.17 194.47 L573.14 194.96 L574.12 195.43 L575.10 195.89 L576.08 196.31 L577.06 196.68 L578.03 197.00 L579.00 197.25 L580.06 197.44 L581.16 197.56 L582.27 197.62 L583.40 197.63 L584.52 197.60 L585.64 197.55 L586.73 197.49 L587.80 197.44 L588.81 197.40 L589.78 197.39 L590.68 197.42 L591.50 197.50 L592.90 197.76 L594.05 198.07 L595.02 198.45 L595.90 198.90 L596.78 199.41 L597.75 200.00 L598.53 200.51 L599.30 201.10 L600.07 201.75 L600.83 202.42 L601.61 203.11 L602.39 203.78 L603.19 204.42 L604.00 205.00 L604.95 205.68 L605.93 206.42 L606.91 207.15 L607.91 207.82 L608.91 208.35 L609.91 208.68 L610.90 208.75 L611.76 208.58 L612.63 208.23 L613.50 207.74 L614.37 207.11 L615.23 206.38 L616.08 205.56 L616.92 204.67 L617.75 203.75 L618.32 203.00 L618.86 202.14 L619.36 201.20 L619.86 200.19 L620.35 199.16 L620.85 198.11 L621.38 197.09 L621.95 196.12 L622.57 195.22 L623.25 194.42 L624.00 193.75 L624.81 193.20 L625.64 192.73 L626.50 192.34 L627.41 192.02 L628.35 191.75 L629.35 191.51 L630.40 191.31 L631.51 191.13 L632.68 190.96 L633.93 190.79 L635.25 190.60 L636.12 190.48 L637.06 190.36 L638.06 190.25 L639.10 190.14 L640.19 190.04 L641.31 189.94 L642.46 189.85 L643.62 189.77 L644.78 189.69 L645.94 189.62 L647.09 189.56 L648.21 189.50 L649.31 189.46 L650.36 189.42 L651.37 189.40 L652.31 189.39 L653.20 189.39 L654.00 189.40 L655.56 189.49 L656.86 189.65 L657.96 189.87 L658.92 190.13 L659.82 190.42 L660.71 190.72 L661.66 191.00 L662.75 191.25 L663.70 191.43 L664.68 191.61 L665.68 191.78 L666.70 191.96 L667.72 192.13 L668.74 192.31 L669.77 192.50 L670.78 192.69 L671.77 192.89 L672.75 193.10 L673.84 193.36 L674.97 193.64 L676.11 193.95 L677.24 194.26 L678.34 194.57 L679.39 194.87 L680.36 195.15 L681.24 195.39 L682.00 195.60 L683.60 195.86 L684.54 195.93 L685.30 196.40 L685.84 197.46 L686.24 198.95 L686.61 200.26 L687.00 200.80 L687.23 200.40 L687.35 199.45 L687.52 198.22 L687.95 196.99 L688.80 196.00 L689.48 195.56 L690.28 195.12 L691.18 194.69 L692.17 194.28 L693.25 193.91 L694.41 193.60 L695.63 193.34 L696.91 193.17 L698.25 193.10 L699.08 193.11 L699.94 193.15 L700.83 193.23 L701.75 193.35 L702.70 193.49 L703.67 193.65 L704.66 193.83 L705.68 194.03 L706.71 194.25 L707.77 194.47 L708.84 194.70 L709.92 194.93 L711.02 195.16 L712.13 195.38 L713.25 195.60 L714.16 195.77 L715.11 195.95 L716.09 196.13 L717.10 196.32 L718.14 196.51 L719.19 196.71 L720.26 196.91 L721.33 197.11 L722.40 197.32 L723.47 197.53 L724.53 197.74 L725.57 197.95 L726.60 198.16 L727.60 198.37 L728.56 198.58 L729.49 198.79 L730.38 199.00 L731.21 199.20 L732.00 199.40 L733.35 199.78 L734.56 200.16 L735.64 200.54 L736.63 200.93 L737.55 201.31 L738.42 201.68 L739.28 202.05 L740.14 202.41 L741.04 202.76 L742.00 203.10 L743.01 203.41 L744.04 203.68 L745.08 203.93 L746.12 204.17 L747.16 204.41 L748.18 204.66 L749.18 204.93 L750.16 205.24 L751.10 205.59 L752.00 206.00 L752.95 206.52 L753.86 207.09 L754.74 207.70 L755.58 208.35 L756.40 209.03 L757.20 209.73 L757.98 210.45 L758.74 211.18 L759.50 211.90 L760.24 212.63 L760.97 213.37 L761.67 214.13 L762.36 214.90 L763.03 215.68 L763.69 216.49 L764.34 217.31 L764.97 218.14 L765.60 219.00 L766.21 219.89 L766.81 220.81 L767.39 221.75 L767.95 222.71 L768.51 223.69 L769.07 224.66 L769.62 225.62 L770.18 226.57 L770.75 227.50 L771.34 228.41 L771.94 229.30 L772.56 230.19 L773.18 231.07 L773.79 231.94 L774.37 232.81 L774.93 233.68 L775.44 234.54 L775.90 235.40 L776.35 236.16 L776.73 236.63 L777.07 236.98 L777.37 237.38 L777.64 238.01 L777.92 239.04 L778.20 240.65 L778.50 243.00 L778.57 243.62 L778.64 244.29 L778.70 245.00 L778.77 245.74 L778.84 246.52 L778.90 247.34 L778.97 248.19 L779.04 249.07 L779.10 249.97 L779.17 250.91 L779.23 251.87 L779.30 252.86 L779.36 253.87 L779.43 254.90 L779.49 255.94 L779.56 257.01 L779.62 258.08 L779.69 259.17 L779.75 260.28 L779.82 261.39 L779.88 262.51 L779.95 263.64 L780.01 264.76 L780.08 265.90 L780.15 267.03 L780.22 268.16 L780.28 269.29 L780.35 270.41 L780.42 271.53 L780.49 272.64 L780.56 273.73 L780.63 274.82 L780.70 275.89 L780.78 276.95 L780.85 277.98 L780.92 279.00 L781.00 280.00 L781.08 281.04 L781.16 282.13 L781.24 283.26 L781.32 284.44 L781.40 285.65 L781.48 286.89 L781.57 288.16 L781.65 289.45 L781.74 290.76 L781.82 292.08 L781.91 293.41 L782.00 294.74 L782.08 296.07 L782.17 297.40 L782.26 298.72 L782.35 300.02 L782.44 301.30 L782.53 302.56 L782.61 303.79 L782.70 304.99 L782.79 306.15 L782.88 307.27 L782.97 308.35 L783.06 309.37 L783.15 310.34 L783.24 311.24 L783.33 312.09 L783.41 312.86 L783.50 313.56 L783.59 314.18 L783.67 314.72 L783.76 315.17 L783.85 315.52 L783.93 315.79 L784.02 315.95 L784.10 316.00 L784.18 315.95 L784.27 315.79 L784.35 315.53 L784.43 315.18 L784.51 314.74 L784.59 314.21 L784.67 313.60 L784.76 312.92 L784.84 312.16 L784.92 311.33 L785.00 310.43 L785.08 309.48 L785.16 308.47 L785.24 307.41 L785.32 306.31 L785.40 305.16 L785.48 303.97 L785.56 302.75 L785.64 301.50 L785.72 300.22 L785.79 298.93 L785.87 297.62 L785.95 296.29 L786.03 294.96 L786.11 293.63 L786.19 292.30 L786.27 290.97 L786.35 289.65 L786.43 288.35 L786.51 287.06 L786.59 285.80 L786.67 284.57 L786.76 283.37 L786.84 282.20 L786.92 281.08 L787.00 280.00 L787.07 279.04 L787.15 278.06 L787.22 277.07 L787.30 276.06 L787.37 275.04 L787.44 274.01 L787.52 272.96 L787.59 271.90 L787.67 270.84 L787.74 269.77 L787.82 268.69 L787.89 267.60 L787.97 266.51 L788.04 265.42 L788.12 264.33 L788.19 263.23 L788.27 262.14 L788.34 261.05 L788.42 259.96 L788.49 258.88 L788.57 257.80 L788.64 256.73 L788.72 255.66 L788.80 254.61 L788.87 253.56 L788.95 252.53 L789.02 251.51 L789.10 250.51 L789.17 249.52 L789.25 248.55 L789.32 247.59 L789.40 246.66 L789.47 245.74 L789.55 244.85 L789.62 243.97 L789.70 243.13 L789.77 242.30 L789.85 241.51 L789.92 240.74 L790.00 240.00 L790.17 238.44 L790.33 236.98 L790.49 235.61 L790.65 234.32 L790.81 233.12 L790.96 231.99 L791.12 230.92 L791.28 229.92 L791.44 228.97 L791.60 228.08 L791.76 227.23 L791.93 226.41 L792.09 225.63 L792.27 224.88 L792.44 224.14 L792.62 223.42 L792.81 222.71 L793.00 222.00 L793.45 220.48 L793.91 219.11 L794.38 217.90 L794.88 216.85 L795.38 215.97 L795.91 215.27 L796.45 214.74 L797.00 214.40 L797.79 214.20 L798.63 214.27 L799.50 214.66 L800.37 215.39 L801.21 216.49 L802.00 218.00 L802.26 218.61 L802.51 219.22 L802.76 219.84 L803.00 220.49 L803.23 221.16 L803.47 221.88 L803.69 222.65 L803.92 223.47 L804.14 224.37 L804.37 225.34 L804.59 226.39 L804.82 227.54 L805.05 228.79 L805.28 230.15 L805.51 231.64 L805.75 233.25 L806.00 235.00 L806.10 235.70 L806.19 236.44 L806.29 237.20 L806.39 237.99 L806.49 238.81 L806.59 239.65 L806.69 240.52 L806.79 241.41 L806.89 242.32 L806.99 243.25 L807.10 244.20 L807.20 245.17 L807.31 246.16 L807.41 247.17 L807.51 248.19 L807.62 249.22 L807.73 250.26 L807.83 251.32 L807.94 252.39 L808.04 253.46 L808.15 254.55 L808.25 255.64 L808.36 256.74 L808.46 257.84 L808.57 258.94 L808.67 260.05 L808.78 261.16 L808.88 262.27 L808.98 263.38 L809.09 264.48 L809.19 265.58 L809.29 266.68 L809.39 267.77 L809.49 268.86 L809.58 269.93 L809.68 271.00 L809.78 272.06 L809.87 273.10 L809.97 274.13 L810.06 275.15 L810.15 276.16 L810.24 277.15 L810.33 278.12 L810.41 279.07 L810.50 280.00 L810.60 281.10 L810.70 282.21 L810.80 283.33 L810.89 284.45 L810.99 285.59 L811.08 286.72 L811.17 287.87 L811.27 289.01 L811.36 290.16 L811.45 291.31 L811.54 292.46 L811.63 293.60 L811.71 294.74 L811.80 295.87 L811.89 297.00 L811.97 298.12 L812.05 299.23 L812.14 300.33 L812.22 301.42 L812.30 302.49 L812.38 303.55 L812.46 304.60 L812.54 305.62 L812.61 306.63 L812.69 307.62 L812.76 308.58 L812.84 309.52 L812.91 310.44 L812.99 311.34 L813.06 312.20 L813.13 313.04 L813.20 313.85 L813.27 314.63 L813.34 315.37 L813.40 316.08 L813.47 316.76 L813.54 317.40 L813.60 318.00 L813.97 321.03 L814.29 322.91 L814.57 323.92 L814.84 324.31 L815.11 324.35 L815.40 324.30 L815.71 324.23 L816.03 323.94 L816.36 323.29 L816.68 322.17 L816.99 320.45 L817.30 318.00 L817.36 317.36 L817.43 316.68 L817.49 315.96 L817.55 315.20 L817.61 314.40 L817.66 313.56 L817.72 312.69 L817.78 311.79 L817.83 310.85 L817.89 309.89 L817.94 308.90 L818.00 307.89 L818.06 306.85 L818.11 305.79 L818.17 304.72 L818.23 303.63 L818.28 302.52 L818.34 301.41 L818.40 300.28 L818.46 299.14 L818.52 298.00 L818.59 296.85 L818.65 295.71 L818.72 294.56 L818.78 293.41 L818.85 292.27 L818.93 291.13 L819.00 290.00 L819.06 289.09 L819.12 288.15 L819.18 287.19 L819.25 286.21 L819.31 285.21 L819.38 284.19 L819.44 283.16 L819.51 282.11 L819.57 281.05 L819.64 279.99 L819.71 278.91 L819.78 277.82 L819.85 276.73 L819.92 275.64 L819.99 274.55 L820.06 273.45 L820.13 272.36 L820.21 271.27 L820.28 270.18 L820.35 269.11 L820.43 268.04 L820.50 266.98 L820.57 265.94 L820.65 264.91 L820.73 263.89 L820.80 262.89 L820.88 261.92 L820.96 260.96 L821.03 260.03 L821.11 259.12 L821.19 258.23 L821.27 257.38 L821.34 256.55 L821.42 255.76 L821.50 255.00 L821.66 253.51 L821.82 252.10 L821.99 250.77 L822.15 249.51 L822.32 248.32 L822.48 247.19 L822.65 246.13 L822.82 245.12 L822.99 244.17 L823.17 243.26 L823.35 242.40 L823.53 241.59 L823.71 240.81 L823.90 240.06 L824.10 239.35 L824.30 238.66 L824.50 238.00 L825.10 236.31 L825.74 234.93 L826.41 233.89 L827.09 233.18 L827.79 232.81 L828.50 232.80 L829.04 232.98 L829.58 233.31 L830.13 233.81 L830.69 234.51 L831.25 235.45 L831.83 236.66 L832.41 238.16 L833.00 240.00 L833.19 240.67 L833.39 241.40 L833.59 242.17 L833.79 243.00 L833.99 243.86 L834.20 244.77 L834.41 245.71 L834.62 246.68 L834.83 247.69 L835.04 248.72 L835.25 249.77 L835.46 250.84 L835.67 251.93 L835.88 253.04 L836.08 254.15 L836.29 255.26 L836.49 256.38 L836.69 257.50 L836.89 258.61 L837.09 259.72 L837.28 260.81 L837.47 261.89 L837.65 262.95 L837.83 263.99 L838.00 265.00 L838.17 266.00 L838.33 267.01 L838.49 268.02 L838.64 269.03 L838.79 270.04 L838.93 271.05 L839.07 272.07 L839.21 273.09 L839.35 274.10 L839.48 275.12 L839.62 276.14 L839.75 277.15 L839.88 278.16 L840.01 279.17 L840.14 280.18 L840.27 281.18 L840.40 282.18 L840.53 283.18 L840.66 284.17 L840.79 285.16 L840.93 286.14 L841.07 287.12 L841.21 288.08 L841.35 289.05 L841.50 290.00 L841.67 291.12 L841.85 292.33 L842.02 293.60 L842.20 294.92 L842.39 296.28 L842.57 297.67 L842.75 299.07 L842.94 300.47 L843.13 301.86 L843.31 303.21 L843.50 304.53 L843.69 305.79 L843.87 306.99 L844.06 308.10 L844.25 309.13 L844.43 310.04 L844.61 310.83 L844.80 311.49 L844.98 311.99 L845.15 312.34 L845.33 312.52 L845.50 312.50 L845.64 312.34 L845.77 312.03 L845.91 311.60 L846.04 311.05 L846.17 310.39 L846.30 309.62 L846.43 308.76 L846.56 307.82 L846.69 306.79 L846.81 305.70 L846.94 304.55 L847.06 303.34 L847.19 302.10 L847.31 300.82 L847.44 299.51 L847.56 298.19 L847.69 296.86 L847.81 295.53 L847.94 294.21 L848.07 292.90 L848.20 291.63 L848.33 290.39 L848.46 289.19 L848.59 288.04 L848.73 286.95 L848.86 285.94 L849.00 285.00 L849.18 283.83 L849.36 282.61 L849.55 281.37 L849.73 280.11 L849.92 278.84 L850.11 277.56 L850.30 276.29 L850.50 275.04 L850.69 273.81 L850.88 272.61 L851.08 271.45 L851.27 270.35 L851.47 269.30 L851.66 268.32 L851.86 267.42 L852.05 266.60 L852.24 265.87 L852.43 265.25 L852.62 264.75 L852.81 264.36 L853.00 264.10 L853.30 263.96 L853.61 264.12 L853.93 264.56 L854.24 265.25 L854.55 266.14 L854.86 267.21 L855.17 268.43 L855.47 269.76 L855.76 271.18 L856.04 272.64 L856.31 274.12 L856.56 275.58 L856.80 277.00 L856.93 277.81 L857.05 278.68 L857.16 279.59 L857.27 280.55 L857.38 281.55 L857.48 282.59 L857.58 283.65 L857.68 284.73 L857.77 285.84 L857.86 286.95 L857.94 288.07 L858.03 289.19 L858.11 290.31 L858.19 291.41 L858.27 292.50 L858.35 293.57 L858.43 294.62 L858.51 295.63 L858.59 296.60 L858.66 297.53 L858.74 298.41 L858.82 299.23 L858.90 300.00 L859.07 301.58 L859.22 302.96 L859.36 304.17 L859.48 305.25 L859.61 306.23 L859.75 307.14 L859.90 308.02 L860.07 308.90 L860.27 309.82 L860.50 310.80 L860.77 311.85 L861.08 312.92 L861.41 314.01 L861.76 315.08 L862.13 316.14 L862.51 317.17 L862.89 318.14 L863.27 319.05 L863.64 319.87 L864.00 320.60 L864.69 321.77 L865.37 322.64 L866.05 323.29 L866.76 323.82 L867.50 324.30 L868.52 324.82 L869.61 325.16 L870.70 325.38 L871.70 325.50 L872.88 325.53 L873.96 325.36 L875.00 325.00 L875.98 324.51 L876.92 323.83 L878.00 322.70 L878.54 322.07 L879.11 321.38 L879.72 320.61 L880.34 319.75 L880.97 318.78 L881.59 317.67 L882.20 316.40 L882.52 315.64 L882.85 314.81 L883.17 313.92 L883.49 312.99 L883.82 312.01 L884.14 311.01 L884.46 309.98 L884.78 308.93 L885.11 307.88 L885.43 306.84 L885.75 305.80 L886.08 304.79 L886.40 303.80 L886.72 302.83 L887.04 301.85 L887.35 300.86 L887.67 299.88 L887.98 298.89 L888.30 297.90 L888.61 296.92 L888.93 295.94 L889.26 294.97 L889.58 294.01 L889.92 293.06 L890.25 292.12 L890.60 291.20 L890.99 290.22 L891.38 289.25 L891.79 288.30 L892.20 287.36 L892.62 286.43 L893.04 285.51 L893.46 284.59 L893.88 283.67 L894.29 282.76 L894.70 281.84 L895.11 280.60 L895.50 279.71 L895.91 278.75 L896.29 277.64 L896.65 276.64 L897.00 276.04 L897.35 275.19 L897.71 273.69 L898.09 273.22 L898.48 271.87 L898.91 271.09 L899.38 270.18 L899.90 269.21 L900.43 267.67 L901.00 266.94 L901.62 266.22 L902.26 265.53 L902.93 264.01 L903.61 263.24 L904.30 262.73 L904.98 261.34 L905.65 260.68 L906.30 259.82 L906.92 259.27 L907.50 258.70 L908.23 257.23 L908.93 256.74 L909.61 255.89 L910.26 255.17 L910.90 254.21 L911.51 253.76 L912.12 252.68 L912.71 252.06 L913.30 251.31 L914.15 250.83 L914.95 249.85 L915.73 249.01 L916.48 248.31 L917.24 248.11 L918.00 247.47 L918.91 246.95 L919.79 246.20 L920.68 245.82 L921.60 245.17 L922.60 245.15 L923.53 244.31 L924.55 244.25 L925.60 244.11 L926.63 243.75 L927.58 243.13 L928.40 243.12 L929.59 243.90 L930.47 244.44 L931.40 244.76 L932.27 244.09 L933.19 242.68 L934.10 241.90 L934.90 241.16 L936.12 240.50 L937.20 242.61 L937.34 243.08 L937.49 244.20 L937.63 245.66 L937.77 246.28 L937.92 247.92 L938.06 248.98 L938.21 250.37 L938.35 252.19 L938.49 253.28 L938.64 254.44 L938.78 255.71 L938.92 257.10 L939.07 257.92 L939.21 258.16 L939.36 258.71 L939.50 259.33 L939.63 258.63 L939.75 258.47 L939.87 257.77 L939.99 257.24 L940.11 256.17 L940.22 255.23 L940.34 253.87 L940.46 252.37 L940.58 251.05 L940.70 249.63 L940.82 248.80 L940.94 246.97 L941.07 245.62 L941.21 245.05 L941.35 243.38 L941.49 242.85 L941.64 241.42 L941.80 240.98 L942.40 239.05 L943.05 238.46 L943.74 237.76 L944.49 237.42 L945.30 237.08 L946.20 236.65 L947.19 235.87 L948.22 235.75 L949.24 235.47 L950.20 235.23 L951.33 235.93 L952.43 236.18 L953.46 236.97 L954.40 237.39 L954.96 238.26 L955.46 238.87 L955.93 239.82 L956.37 240.29 L956.79 241.63 L957.20 243.19 L957.37 243.63 L957.53 244.74 L957.69 245.68 L957.84 246.33 L957.99 247.40 L958.13 248.32 L958.27 249.04 L958.42 250.17 L958.56 251.69 L958.70 252.34 L958.84 253.54 L958.99 254.47 L959.14 255.77 L959.30 256.97 L959.41 258.39 L959.52 259.23 L959.63 260.41 L959.74 261.64 L959.85 262.59 L959.96 264.07 L960.07 265.07 L960.19 266.29 L960.30 267.96 L960.42 269.22 L960.53 270.51 L960.65 271.40 L960.76 272.76 L960.88 273.60 L961.00 275.02 L961.12 275.87 L961.23 276.22 L961.35 277.33 L961.47 277.33 L961.58 277.63 L961.70 278.26 L961.85 277.94 L962.01 277.81 L962.16 277.35 L962.31 276.18 L962.46 275.74 L962.62 274.32 L962.77 273.20 L962.93 271.82 L963.08 270.71 L963.24 269.29 L963.39 267.53 L963.55 265.99 L963.71 264.76 L963.87 263.55 L964.04 262.14 L964.20 261.16 L964.39 260.48 L964.58 259.34 L964.77 258.43 L964.96 257.33 L965.15 256.18 L965.34 254.75 L965.54 253.56 L965.74 252.64 L965.94 251.75 L966.14 250.83 L966.35 249.92 L966.56 248.91 L966.78 248.42 L967.00 247.25 L967.47 245.97 L967.97 245.04 L968.49 243.90 L969.01 242.60 L969.53 241.71 L970.03 241.33 L970.50 240.06 L971.51 238.74 L972.44 238.09 L973.30 237.63 L974.35 238.11 L975.40 238.69 L976.05 238.25 L976.76 237.70 L977.48 236.42 L978.20 235.84 L979.06 234.68 L979.91 233.87 L981.00 232.37 L981.88 232.02 L982.91 231.46 L983.99 231.37 L985.02 230.99 L985.90 230.59 L987.48 231.06 L988.70 231.02 L989.75 230.41 L990.80 230.42 L991.17 231.54 L991.56 232.43 L991.97 233.70 L992.38 234.95 L992.80 236.45 L993.21 237.43 L993.60 237.72 L993.92 237.44 L994.23 236.34 L994.54 234.54 L994.84 232.88 L995.14 231.77 L995.45 230.49 L995.77 229.42 L996.10 229.43 L996.36 229.53 L996.63 229.94 L996.91 230.70 L997.19 231.64 L997.48 233.26 L997.77 234.72 L998.05 236.04 L998.33 237.05 L998.60 238.43 L998.86 239.74 L999.10 240.62 L999.47 241.82 L999.83 243.02 L1000.17 244.36 L1000.49 245.29 L1000.78 246.34 L1001.02 247.56 L1001.20 248.44"/>
</g>
<g fill="none" stroke="#000" stroke-width="2">
<rect x="55.20" y="4.95" width="435.80" height="351.85"/>
<rect x="554.40" y="5.35" width="447.60" height="350.85"/>
</g>
<g stroke="#000" stroke-width="1.6"><line x1="63.60" y1="356.80" x2="63.60" y2="347.90"/><line x1="106.32" y1="356.80" x2="106.32" y2="352.00"/><line x1="149.04" y1="356.80" x2="149.04" y2="347.90"/><line x1="191.76" y1="356.80" x2="191.76" y2="352.00"/><line x1="234.48" y1="356.80" x2="234.48" y2="347.90"/><line x1="277.20" y1="356.80" x2="277.20" y2="352.00"/><line x1="319.92" y1="356.80" x2="319.92" y2="347.90"/><line x1="362.64" y1="356.80" x2="362.64" y2="352.00"/><line x1="405.36" y1="356.80" x2="405.36" y2="347.90"/><line x1="448.08" y1="356.80" x2="448.08" y2="352.00"/><line x1="618.00" y1="356.20" x2="618.00" y2="347.60"/><line x1="682.00" y1="356.20" x2="682.00" y2="351.60"/><line x1="746.00" y1="356.20" x2="746.00" y2="347.60"/><line x1="810.00" y1="356.20" x2="810.00" y2="351.60"/><line x1="874.00" y1="356.20" x2="874.00" y2="347.60"/><line x1="938.00" y1="356.20" x2="938.00" y2="351.60"/></g>
<g font-family="Liberation Serif, serif" font-size="20" fill="#000" text-anchor="middle">
<text transform="translate(64.10 381.1) scale(0.952 1)" font-size="21">10</text>
<text transform="translate(149.54 381.1) scale(0.952 1)" font-size="21">20</text>
<text transform="translate(234.98 381.1) scale(0.952 1)" font-size="21">30</text>
<text transform="translate(320.42 381.1) scale(0.952 1)" font-size="21">40</text>
<text transform="translate(405.86 381.1) scale(0.952 1)" font-size="21">50</text>
<text transform="translate(491.30 381.1) scale(0.952 1)" font-size="21">60</text>
<text transform="translate(618.50 380.5) scale(0.952 1)" font-size="21">1600</text>
<text transform="translate(746.50 380.5) scale(0.952 1)" font-size="21">1200</text>
<text transform="translate(874.50 380.5) scale(0.952 1)" font-size="21">800</text>
<text transform="translate(1002.50 380.5) scale(0.952 1)" font-size="21">400</text>
</g>
<g font-family="Liberation Serif, serif" font-size="20" fill="#000">
<text x="84.8" y="47" font-size="24">a</text>
<text x="582.3" y="46.6" font-size="24">b</text>
<text x="429.80" y="98.70">4</text>
<text x="429.80" y="171.20">3</text>
<text x="430.30" y="240.50">2</text>
<text x="430.80" y="319.40">1</text>
<text x="913.30" y="74.00">4</text>
<text x="913.50" y="136.00">3</text>
<text x="914.30" y="199.00">2</text>
<text x="915.20" y="238.20">1</text>
<text transform="translate(272.8 416.4) scale(0.95 1)" text-anchor="middle" font-size="22">2<tspan font-style="italic">θ</tspan> (degrees)</text>
<text transform="translate(778.5 418.5) scale(0.955 1)" text-anchor="middle" font-size="22">Wavenumber (cm<tspan font-size="14.5" dy="-10.5">-1</tspan><tspan dy="10.5">)</tspan></text>
<text transform="translate(20.6 196) rotate(-90)" text-anchor="middle" font-size="21.3">Intensity (a.u)</text>
<text transform="translate(525.2 195.8) rotate(-90)" text-anchor="middle" font-size="21.4">Transmittance (%)</text>
</g>
</svg>
</body></html>
